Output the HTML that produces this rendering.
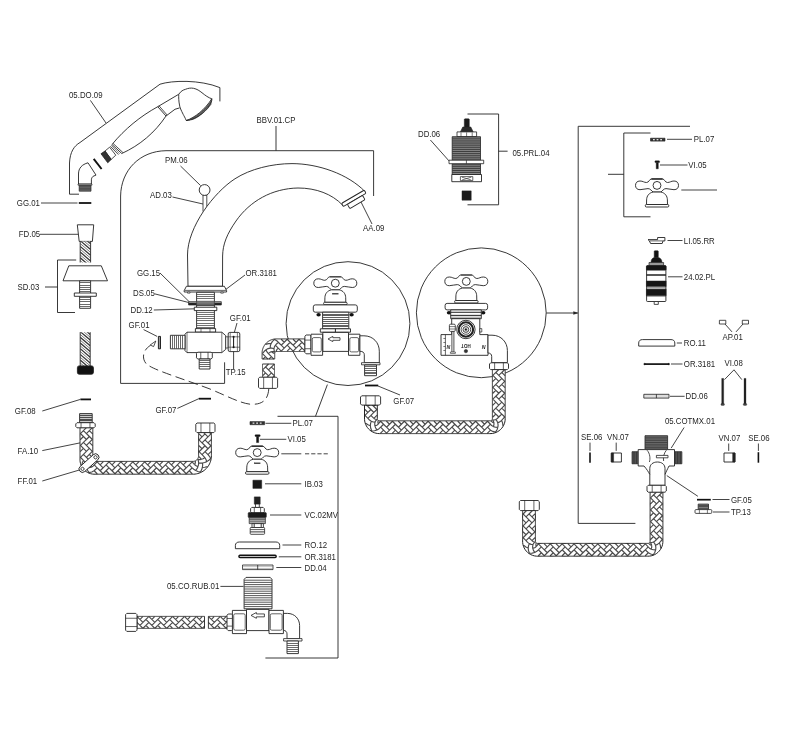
<!DOCTYPE html>
<html><head><meta charset="utf-8"><title>Exploded view</title>
<style>
html,body{margin:0;padding:0;background:#fff;}
svg{display:block;will-change:transform}
text{font-family:"Liberation Sans",sans-serif;fill:#1e1e1e;}
</style></head><body>
<svg width="800" height="737" viewBox="0 0 800 737" fill="none" stroke-linecap="butt" stroke-linejoin="round">
<rect x="0" y="0" width="800" height="737" fill="#fff" stroke="none"/>
<path d="M79 194.2 L69.5 194.2 L69.5 163 C70 152 74 146 80 142.5 L160 84.2 C172 80.3 200 79.5 219.9 87.6 L219.9 101.4" fill="none" stroke="#222" stroke-width="0.9" />
<path d="M224.6 362.3 L224.6 383.4 L120.6 383.4 L120.6 196 C121 170 140 151 166 150.7 L373.6 150.7 L373.6 196" fill="none" stroke="#222" stroke-width="0.9" />
<line x1="276.00" y1="126.00" x2="276.00" y2="150.70" stroke="#222" stroke-width="0.9" />
<path d="M76.2 260 L57.5 260 L57.5 312.5 L75 312.5" fill="none" stroke="#222" stroke-width="0.9" />
<line x1="45.00" y1="287.00" x2="57.50" y2="287.00" stroke="#222" stroke-width="0.9" />
<path d="M277.5 416.3 L338 416.3 L338 658 L265.4 658" fill="none" stroke="#222" stroke-width="0.9" />
<line x1="327.40" y1="384.60" x2="315.50" y2="416.30" stroke="#222" stroke-width="0.9" />
<path d="M467.5 114 L498.6 114 L498.6 204.8 L467.5 204.8" fill="none" stroke="#222" stroke-width="0.9" />
<line x1="498.60" y1="151.20" x2="507.60" y2="151.20" stroke="#222" stroke-width="0.9" />
<path d="M690 126.3 L578.2 126.3 L578.2 523.4 L635.4 523.4" fill="none" stroke="#222" stroke-width="0.9" />
<path d="M650.5 133 L623.8 133 L623.8 216.8 L650.5 216.8" fill="none" stroke="#222" stroke-width="0.9" />
<line x1="608.00" y1="174.30" x2="623.80" y2="174.30" stroke="#222" stroke-width="0.9" />
<line x1="546.30" y1="313.00" x2="577.50" y2="313.00" stroke="#222" stroke-width="0.9" />
<path d="M578.00 313.00 L573.50 311.60 L573.50 314.40 Z" fill="#222" stroke="#222" stroke-width="0.3" />
<circle cx="348.00" cy="323.60" r="61.90" fill="none" stroke="#222" stroke-width="0.9"/>
<circle cx="481.30" cy="312.80" r="64.90" fill="none" stroke="#222" stroke-width="0.9"/>
<text transform="translate(69.00 98.45) scale(0.913 1)" font-size="8.6">05.DO.09</text>
<text transform="translate(256.50 123.45) scale(0.913 1)" font-size="8.6">BBV.01.CP</text>
<text transform="translate(165.00 162.55) scale(0.913 1)" font-size="8.6">PM.06</text>
<text transform="translate(150.00 197.55) scale(0.913 1)" font-size="8.6">AD.03</text>
<text transform="translate(16.80 206.05) scale(0.913 1)" font-size="8.6">GG.01</text>
<text transform="translate(18.80 237.35) scale(0.913 1)" font-size="8.6">FD.05</text>
<text transform="translate(17.50 290.05) scale(0.913 1)" font-size="8.6">SD.03</text>
<text transform="translate(137.00 276.05) scale(0.913 1)" font-size="8.6">GG.15</text>
<text transform="translate(133.00 296.05) scale(0.913 1)" font-size="8.6">DS.05</text>
<text transform="translate(130.50 313.05) scale(0.913 1)" font-size="8.6">DD.12</text>
<text transform="translate(128.60 327.75) scale(0.913 1)" font-size="8.6">GF.01</text>
<text transform="translate(229.80 321.45) scale(0.913 1)" font-size="8.6">GF.01</text>
<text transform="translate(225.80 375.45) scale(0.913 1)" font-size="8.6">TP.15</text>
<text transform="translate(245.50 276.05) scale(0.913 1)" font-size="8.6">OR.3181</text>
<text transform="translate(363.00 230.65) scale(0.913 1)" font-size="8.6">AA.09</text>
<text transform="translate(14.80 414.05) scale(0.913 1)" font-size="8.6">GF.08</text>
<text transform="translate(155.50 412.55) scale(0.913 1)" font-size="8.6">GF.07</text>
<text transform="translate(17.60 453.65) scale(0.913 1)" font-size="8.6">FA.10</text>
<text transform="translate(17.60 484.05) scale(0.913 1)" font-size="8.6">FF.01</text>
<text transform="translate(393.30 403.85) scale(0.913 1)" font-size="8.6">GF.07</text>
<text transform="translate(292.50 426.05) scale(0.913 1)" font-size="8.6">PL.07</text>
<text transform="translate(287.50 442.35) scale(0.913 1)" font-size="8.6">VI.05</text>
<text transform="translate(304.50 486.85) scale(0.913 1)" font-size="8.6">IB.03</text>
<text transform="translate(304.50 518.05) scale(0.913 1)" font-size="8.6">VC.02MV</text>
<text transform="translate(304.50 548.05) scale(0.913 1)" font-size="8.6">RO.12</text>
<text transform="translate(304.50 560.05) scale(0.913 1)" font-size="8.6">OR.3181</text>
<text transform="translate(304.50 571.05) scale(0.913 1)" font-size="8.6">DD.04</text>
<text transform="translate(167.00 589.45) scale(0.913 1)" font-size="8.6">05.CO.RUB.01</text>
<text transform="translate(418.00 137.35) scale(0.913 1)" font-size="8.6">DD.06</text>
<text transform="translate(512.50 155.55) scale(0.913 1)" font-size="8.6">05.PRL.04</text>
<text transform="translate(693.80 142.35) scale(0.913 1)" font-size="8.6">PL.07</text>
<text transform="translate(688.30 168.05) scale(0.913 1)" font-size="8.6">VI.05</text>
<text transform="translate(683.80 243.55) scale(0.913 1)" font-size="8.6">LI.05.RR</text>
<text transform="translate(683.80 279.85) scale(0.913 1)" font-size="8.6">24.02.PL</text>
<text transform="translate(683.80 346.05) scale(0.913 1)" font-size="8.6">RO.11</text>
<text transform="translate(683.80 367.05) scale(0.913 1)" font-size="8.6">OR.3181</text>
<text transform="translate(685.60 399.35) scale(0.913 1)" font-size="8.6">DD.06</text>
<text transform="translate(722.50 340.05) scale(0.913 1)" font-size="8.6">AP.01</text>
<text transform="translate(724.50 366.35) scale(0.913 1)" font-size="8.6">VI.08</text>
<text transform="translate(664.90 424.25) scale(0.913 1)" font-size="8.6">05.COTMX.01</text>
<text transform="translate(581.00 440.05) scale(0.913 1)" font-size="8.6">SE.06</text>
<text transform="translate(607.00 440.05) scale(0.913 1)" font-size="8.6">VN.07</text>
<text transform="translate(718.50 441.05) scale(0.913 1)" font-size="8.6">VN.07</text>
<text transform="translate(748.20 441.05) scale(0.913 1)" font-size="8.6">SE.06</text>
<text transform="translate(730.90 502.55) scale(0.913 1)" font-size="8.6">GF.05</text>
<text transform="translate(730.90 515.05) scale(0.913 1)" font-size="8.6">TP.13</text>
<line x1="90.40" y1="100.40" x2="106.00" y2="123.00" stroke="#222" stroke-width="0.85" />
<line x1="180.50" y1="166.00" x2="200.60" y2="185.60" stroke="#222" stroke-width="0.85" />
<line x1="172.50" y1="197.00" x2="203.00" y2="204.00" stroke="#222" stroke-width="0.85" />
<line x1="41.00" y1="203.00" x2="77.50" y2="203.00" stroke="#222" stroke-width="0.85" />
<line x1="40.00" y1="234.30" x2="80.50" y2="234.30" stroke="#222" stroke-width="0.85" />
<line x1="160.00" y1="273.00" x2="190.00" y2="302.50" stroke="#222" stroke-width="0.85" />
<line x1="154.50" y1="293.80" x2="193.80" y2="303.80" stroke="#222" stroke-width="0.85" />
<line x1="153.80" y1="310.00" x2="195.00" y2="308.80" stroke="#222" stroke-width="0.85" />
<line x1="143.60" y1="329.60" x2="157.10" y2="336.40" stroke="#222" stroke-width="0.85" />
<line x1="237.00" y1="323.00" x2="233.60" y2="335.00" stroke="#222" stroke-width="0.85" />
<line x1="233.60" y1="351.00" x2="233.60" y2="369.00" stroke="#222" stroke-width="0.85" />
<line x1="245.00" y1="275.00" x2="225.00" y2="290.00" stroke="#222" stroke-width="0.85" />
<line x1="361.00" y1="202.00" x2="372.00" y2="224.00" stroke="#222" stroke-width="0.85" />
<line x1="42.30" y1="411.00" x2="80.40" y2="399.40" stroke="#222" stroke-width="0.85" />
<line x1="177.40" y1="408.40" x2="198.80" y2="398.70" stroke="#222" stroke-width="0.85" />
<line x1="42.30" y1="450.60" x2="80.40" y2="442.80" stroke="#222" stroke-width="0.85" />
<line x1="42.30" y1="481.00" x2="79.40" y2="470.00" stroke="#222" stroke-width="0.85" />
<line x1="378.00" y1="386.00" x2="400.00" y2="395.00" stroke="#222" stroke-width="0.85" />
<line x1="265.50" y1="423.30" x2="291.30" y2="423.30" stroke="#222" stroke-width="0.85" />
<line x1="260.00" y1="439.30" x2="286.30" y2="439.30" stroke="#222" stroke-width="0.85" />
<line x1="281.30" y1="453.80" x2="301.30" y2="453.80" stroke="#222" stroke-width="0.85" />
<line x1="265.00" y1="483.80" x2="301.30" y2="483.80" stroke="#222" stroke-width="0.85" />
<line x1="270.00" y1="515.00" x2="301.30" y2="515.00" stroke="#222" stroke-width="0.85" />
<line x1="282.50" y1="545.00" x2="301.30" y2="545.00" stroke="#222" stroke-width="0.85" />
<line x1="278.80" y1="556.80" x2="301.30" y2="556.80" stroke="#222" stroke-width="0.85" />
<line x1="276.30" y1="567.50" x2="301.30" y2="567.50" stroke="#222" stroke-width="0.85" />
<line x1="220.40" y1="586.40" x2="243.50" y2="586.40" stroke="#222" stroke-width="0.85" />
<line x1="430.40" y1="140.00" x2="449.00" y2="160.90" stroke="#222" stroke-width="0.85" />
<line x1="667.00" y1="139.30" x2="692.00" y2="139.30" stroke="#222" stroke-width="0.85" />
<line x1="660.00" y1="165.00" x2="687.50" y2="165.00" stroke="#222" stroke-width="0.85" />
<line x1="681.30" y1="190.00" x2="717.00" y2="190.00" stroke="#222" stroke-width="0.85" />
<line x1="667.50" y1="240.50" x2="682.50" y2="240.50" stroke="#222" stroke-width="0.85" />
<line x1="668.00" y1="276.80" x2="682.50" y2="276.80" stroke="#222" stroke-width="0.85" />
<line x1="676.80" y1="343.00" x2="682.00" y2="343.00" stroke="#222" stroke-width="0.85" />
<line x1="671.00" y1="364.00" x2="682.50" y2="364.00" stroke="#222" stroke-width="0.85" />
<line x1="670.00" y1="396.30" x2="684.60" y2="396.30" stroke="#222" stroke-width="0.85" />
<line x1="725.00" y1="324.00" x2="732.00" y2="331.90" stroke="#222" stroke-width="0.85" />
<line x1="743.00" y1="324.00" x2="736.00" y2="331.90" stroke="#222" stroke-width="0.85" />
<line x1="734.00" y1="369.80" x2="724.50" y2="379.60" stroke="#222" stroke-width="0.85" />
<line x1="734.00" y1="369.80" x2="741.80" y2="379.60" stroke="#222" stroke-width="0.85" />
<line x1="684.10" y1="427.50" x2="671.20" y2="448.10" stroke="#222" stroke-width="0.85" />
<line x1="590.00" y1="442.60" x2="590.00" y2="450.90" stroke="#222" stroke-width="0.85" />
<line x1="616.20" y1="442.60" x2="616.20" y2="450.90" stroke="#222" stroke-width="0.85" />
<line x1="728.70" y1="443.50" x2="728.70" y2="450.90" stroke="#222" stroke-width="0.85" />
<line x1="758.40" y1="443.50" x2="758.40" y2="450.90" stroke="#222" stroke-width="0.85" />
<line x1="666.80" y1="475.60" x2="697.90" y2="496.30" stroke="#222" stroke-width="0.85" />
<line x1="712.50" y1="499.50" x2="729.50" y2="499.50" stroke="#222" stroke-width="0.85" />
<line x1="713.00" y1="512.00" x2="729.50" y2="512.00" stroke="#222" stroke-width="0.85" />
<line x1="305.00" y1="453.80" x2="328.80" y2="453.80" stroke="#222" stroke-width="0.85" stroke-dasharray="4.2 2"/>
<path d="M92.80 427.60 L92.80 428.53 L92.80 429.46 L92.80 430.38 L92.80 431.31 L92.80 432.24 L92.80 433.17 L92.80 434.09 L92.80 435.02 L92.80 435.95 L92.80 436.88 L92.80 437.80 L92.80 438.73 L92.80 439.66 L92.80 440.59 L92.80 441.51 L92.80 442.44 L92.80 443.37 L92.80 444.30 L92.80 445.22 L92.80 446.15 L92.80 447.08 L92.80 448.01 L92.80 448.93 L92.80 449.86 L92.80 450.79 L92.80 451.72 L92.80 452.64 L92.80 453.57 L92.80 454.50 L92.80 455.43 L92.80 456.35 L92.80 457.28 L92.80 458.21 L92.80 459.14 L92.80 459.85 L92.82 460.04 L92.86 460.22 L92.92 460.39 L92.99 460.56 L93.09 460.72 L93.21 460.86 L93.34 460.99 L93.49 461.11 L93.64 461.21 L93.81 461.29 L93.99 461.34 L94.17 461.38 L94.35 461.40 L95.09 461.40 L96.01 461.40 L96.94 461.40 L97.87 461.40 L98.80 461.40 L99.72 461.40 L100.65 461.40 L101.58 461.40 L102.51 461.40 L103.43 461.40 L104.36 461.40 L105.29 461.40 L106.22 461.40 L107.14 461.40 L108.07 461.40 L109.00 461.40 L109.93 461.40 L110.85 461.40 L111.78 461.40 L112.71 461.40 L113.64 461.40 L114.57 461.40 L115.49 461.40 L116.42 461.40 L117.35 461.40 L118.28 461.40 L119.20 461.40 L120.13 461.40 L121.06 461.40 L121.99 461.40 L122.91 461.40 L123.84 461.40 L124.77 461.40 L125.70 461.40 L126.62 461.40 L127.55 461.40 L128.48 461.40 L129.41 461.40 L130.33 461.40 L131.26 461.40 L132.19 461.40 L133.12 461.40 L134.04 461.40 L134.97 461.40 L135.90 461.40 L136.83 461.40 L137.75 461.40 L138.68 461.40 L139.61 461.40 L140.54 461.40 L141.46 461.40 L142.39 461.40 L143.32 461.40 L144.25 461.40 L145.17 461.40 L146.10 461.40 L147.03 461.40 L147.96 461.40 L148.88 461.40 L149.81 461.40 L150.74 461.40 L151.67 461.40 L152.60 461.40 L153.52 461.40 L154.45 461.40 L155.38 461.40 L156.31 461.40 L157.23 461.40 L158.16 461.40 L159.09 461.40 L160.02 461.40 L160.94 461.40 L161.87 461.40 L162.80 461.40 L163.73 461.40 L164.65 461.40 L165.58 461.40 L166.51 461.40 L167.44 461.40 L168.36 461.40 L169.29 461.40 L170.22 461.40 L171.15 461.40 L172.07 461.40 L173.00 461.40 L173.93 461.40 L174.86 461.40 L175.78 461.40 L176.71 461.40 L177.64 461.40 L178.57 461.40 L179.49 461.40 L180.42 461.40 L181.35 461.40 L182.28 461.40 L183.20 461.40 L184.13 461.40 L185.06 461.40 L185.99 461.40 L186.91 461.40 L187.84 461.40 L188.77 461.40 L189.70 461.40 L190.63 461.40 L191.55 461.40 L192.48 461.40 L193.19 461.40 L193.62 461.36 L194.05 461.30 L194.47 461.20 L194.88 461.07 L195.29 460.91 L195.67 460.72 L196.04 460.50 L196.40 460.25 L196.73 459.97 L197.04 459.67 L197.33 459.35 L197.59 459.00 L197.82 458.64 L198.03 458.26 L198.21 457.86 L198.35 457.45 L198.46 457.04 L198.54 456.61 L198.58 456.18 L198.60 455.69 L198.60 454.76 L198.60 453.83 L198.60 452.91 L198.60 451.98 L198.60 451.05 L198.60 450.12 L198.60 449.20 L198.60 448.27 L198.60 447.34 L198.60 446.41 L198.60 445.49 L198.60 444.56 L198.60 443.63 L198.60 442.70 L198.60 441.78 L198.60 440.85 L198.60 439.92 L198.60 438.99 L198.60 438.07 L198.60 437.14 L198.60 436.21 L198.60 435.28 L198.60 434.36 L198.60 433.43 L198.60 432.50 L211.40 432.50 L211.40 433.43 L211.40 434.36 L211.40 435.28 L211.40 436.21 L211.40 437.14 L211.40 438.07 L211.40 438.99 L211.40 439.92 L211.40 440.85 L211.40 441.78 L211.40 442.70 L211.40 443.63 L211.40 444.56 L211.40 445.49 L211.40 446.41 L211.40 447.34 L211.40 448.27 L211.40 449.20 L211.40 450.12 L211.40 451.05 L211.40 451.98 L211.40 452.91 L211.40 453.83 L211.40 454.76 L211.40 455.69 L211.35 457.05 L211.20 458.46 L210.94 459.86 L210.58 461.24 L210.10 462.58 L209.53 463.88 L208.86 465.13 L208.09 466.33 L207.23 467.46 L206.29 468.53 L205.27 469.51 L204.17 470.42 L203.01 471.24 L201.78 471.96 L200.51 472.60 L199.19 473.13 L197.83 473.55 L196.45 473.87 L195.04 474.08 L193.63 474.19 L192.48 474.20 L191.55 474.20 L190.63 474.20 L189.70 474.20 L188.77 474.20 L187.84 474.20 L186.91 474.20 L185.99 474.20 L185.06 474.20 L184.13 474.20 L183.20 474.20 L182.28 474.20 L181.35 474.20 L180.42 474.20 L179.49 474.20 L178.57 474.20 L177.64 474.20 L176.71 474.20 L175.78 474.20 L174.86 474.20 L173.93 474.20 L173.00 474.20 L172.07 474.20 L171.15 474.20 L170.22 474.20 L169.29 474.20 L168.36 474.20 L167.44 474.20 L166.51 474.20 L165.58 474.20 L164.65 474.20 L163.73 474.20 L162.80 474.20 L161.87 474.20 L160.94 474.20 L160.02 474.20 L159.09 474.20 L158.16 474.20 L157.23 474.20 L156.31 474.20 L155.38 474.20 L154.45 474.20 L153.52 474.20 L152.60 474.20 L151.67 474.20 L150.74 474.20 L149.81 474.20 L148.88 474.20 L147.96 474.20 L147.03 474.20 L146.10 474.20 L145.17 474.20 L144.25 474.20 L143.32 474.20 L142.39 474.20 L141.46 474.20 L140.54 474.20 L139.61 474.20 L138.68 474.20 L137.75 474.20 L136.83 474.20 L135.90 474.20 L134.97 474.20 L134.04 474.20 L133.12 474.20 L132.19 474.20 L131.26 474.20 L130.33 474.20 L129.41 474.20 L128.48 474.20 L127.55 474.20 L126.62 474.20 L125.70 474.20 L124.77 474.20 L123.84 474.20 L122.91 474.20 L121.99 474.20 L121.06 474.20 L120.13 474.20 L119.20 474.20 L118.28 474.20 L117.35 474.20 L116.42 474.20 L115.49 474.20 L114.57 474.20 L113.64 474.20 L112.71 474.20 L111.78 474.20 L110.85 474.20 L109.93 474.20 L109.00 474.20 L108.07 474.20 L107.14 474.20 L106.22 474.20 L105.29 474.20 L104.36 474.20 L103.43 474.20 L102.51 474.20 L101.58 474.20 L100.65 474.20 L99.72 474.20 L98.80 474.20 L97.87 474.20 L96.94 474.20 L96.01 474.20 L95.09 474.20 L93.97 474.19 L92.30 474.04 L90.67 473.71 L89.08 473.18 L87.57 472.48 L86.15 471.60 L84.84 470.57 L83.66 469.39 L82.62 468.08 L81.74 466.66 L81.03 465.15 L80.51 463.57 L80.16 461.94 L80.01 460.28 L80.00 459.14 L80.00 458.21 L80.00 457.28 L80.00 456.35 L80.00 455.43 L80.00 454.50 L80.00 453.57 L80.00 452.64 L80.00 451.72 L80.00 450.79 L80.00 449.86 L80.00 448.93 L80.00 448.01 L80.00 447.08 L80.00 446.15 L80.00 445.22 L80.00 444.30 L80.00 443.37 L80.00 442.44 L80.00 441.51 L80.00 440.59 L80.00 439.66 L80.00 438.73 L80.00 437.80 L80.00 436.88 L80.00 435.95 L80.00 435.02 L80.00 434.09 L80.00 433.17 L80.00 432.24 L80.00 431.31 L80.00 430.38 L80.00 429.46 L80.00 428.53 L80.00 427.60 Z" fill="#fff" stroke="none" stroke-width="0" />
<path d="M92.50 433.70L92.42 433.62L92.34 433.54M92.50 433.38L92.42 433.46L92.34 433.54M92.34 433.54L90.85 432.05L89.37 430.57M92.34 427.60L90.85 429.08L89.37 430.57M92.50 439.32L92.42 439.40L92.34 439.48M92.34 439.48L90.85 437.99L89.37 436.51M89.37 436.51L87.88 435.02L86.40 433.54M89.37 430.57L87.88 432.05L86.40 433.54M86.40 433.54L84.92 432.05L83.43 430.57M86.40 427.60L84.92 429.08L83.43 430.57M92.50 445.58L92.42 445.50L92.34 445.42M92.50 445.26L92.42 445.34L92.34 445.42M92.34 445.42L90.85 443.93L89.37 442.45M92.34 439.48L90.85 440.96L89.37 442.45M89.37 436.51L87.88 437.99L86.40 439.48M86.40 439.48L84.92 437.99L83.43 436.51M83.43 436.51L81.95 435.02L80.46 433.54M83.43 430.57L81.95 432.05L80.46 433.54M80.46 433.54L80.38 433.46L80.30 433.38M80.46 427.60L80.38 427.68L80.30 427.76M92.50 451.20L92.42 451.28L92.34 451.36M92.34 451.36L90.85 449.87L89.37 448.39M89.37 448.39L87.88 446.90L86.40 445.42M89.37 442.45L87.88 443.93L86.40 445.42M86.40 445.42L84.92 443.93L83.43 442.45M86.40 439.48L84.92 440.96L83.43 442.45M83.43 436.51L81.95 437.99L80.46 439.48M80.46 439.48L80.38 439.40L80.30 439.32M92.50 457.46L92.42 457.38L92.34 457.30M92.50 457.14L92.42 457.22L92.34 457.30M92.34 457.30L90.85 455.81L89.37 454.33M92.34 451.36L90.85 452.84L89.37 454.33M89.37 448.39L87.88 449.87L86.40 451.36M86.40 451.36L84.92 449.87L83.43 448.39M83.43 448.39L81.95 446.90L80.46 445.42M83.43 442.45L81.95 443.93L80.46 445.42M80.46 445.42L80.38 445.34L80.30 445.26M80.46 439.48L80.38 439.56L80.30 439.64M92.66 460.56L92.59 460.61L92.53 460.66M92.53 460.66L90.96 460.66L89.38 460.09M89.38 460.09L87.88 458.78L86.40 457.30M89.37 454.33L87.88 455.81L86.40 457.30M86.40 457.30L84.92 455.81L83.43 454.33M86.40 451.36L84.92 452.84L83.43 454.33M83.43 448.39L81.95 449.87L80.46 451.36M80.46 451.36L80.38 451.28L80.30 451.20M93.70 461.57L93.65 461.63L93.60 461.70M93.63 461.53L93.62 461.61L93.60 461.70M93.60 461.70L92.45 462.75L90.90 463.41M92.53 460.66L91.51 461.85L90.90 463.41M89.38 460.09L88.08 461.37L87.13 463.13M87.13 463.13L85.20 462.09L83.45 460.44M83.45 460.44L81.95 458.78L80.46 457.30M83.43 454.33L81.95 455.81L80.46 457.30M80.46 457.30L80.38 457.22L80.30 457.14M80.46 451.36L80.38 451.44L80.30 451.52M96.99 461.70L97.07 461.78L97.15 461.86M97.15 461.86L95.67 463.35L94.26 464.82M94.26 464.82L93.03 466.16L91.30 467.17M90.90 463.41L90.81 465.23L91.30 467.17M91.30 467.17L89.17 467.71L86.77 467.68M87.13 463.13L86.66 465.27L86.77 467.68M83.45 460.44L82.32 462.81L81.73 465.61M81.73 465.61L81.60 465.51L81.47 465.42M103.25 461.70L103.17 461.78L103.09 461.86M102.93 461.70L103.01 461.78L103.09 461.86M103.09 461.86L101.61 463.35L100.12 464.83M97.15 461.86L98.64 463.35L100.12 464.83M94.26 464.82L95.67 466.32L97.15 467.80M97.15 467.80L95.67 469.28L94.10 470.76M94.10 470.76L91.77 471.97L88.99 472.64M86.77 467.68L87.53 470.19L88.99 472.64M88.99 472.64L88.83 472.66L88.67 472.68M81.73 465.61L81.71 465.77L81.70 465.93M108.87 461.70L108.95 461.78L109.03 461.86M109.03 461.86L107.55 463.35L106.06 464.83M106.06 464.83L104.58 466.32L103.09 467.80M100.12 464.83L101.61 466.32L103.09 467.80M103.09 467.80L101.61 469.28L100.12 470.77M97.15 467.80L98.64 469.28L100.12 470.77M94.10 470.76L95.67 472.25L97.15 473.74M97.15 473.74L97.07 473.82L96.99 473.90M115.13 461.70L115.05 461.78L114.97 461.86M114.81 461.70L114.89 461.78L114.97 461.86M114.97 461.86L113.49 463.35L112.00 464.83M109.03 461.86L110.52 463.35L112.00 464.83M106.06 464.83L107.55 466.32L109.03 467.80M109.03 467.80L107.55 469.28L106.06 470.77M106.06 470.77L104.58 472.25L103.09 473.74M100.12 470.77L101.61 472.25L103.09 473.74M103.09 473.74L103.01 473.82L102.93 473.90M97.15 473.74L97.23 473.82L97.31 473.90M120.75 461.70L120.83 461.78L120.91 461.86M120.91 461.86L119.43 463.35L117.94 464.83M117.94 464.83L116.46 466.32L114.97 467.80M112.00 464.83L113.49 466.32L114.97 467.80M114.97 467.80L113.49 469.28L112.00 470.77M109.03 467.80L110.52 469.28L112.00 470.77M106.06 470.77L107.55 472.25L109.03 473.74M109.03 473.74L108.95 473.82L108.87 473.90M127.01 461.70L126.93 461.78L126.85 461.86M126.69 461.70L126.77 461.78L126.85 461.86M126.85 461.86L125.37 463.35L123.88 464.83M120.91 461.86L122.40 463.35L123.88 464.83M117.94 464.83L119.43 466.32L120.91 467.80M120.91 467.80L119.43 469.28L117.94 470.77M117.94 470.77L116.46 472.25L114.97 473.74M112.00 470.77L113.49 472.25L114.97 473.74M114.97 473.74L114.89 473.82L114.81 473.90M109.03 473.74L109.11 473.82L109.19 473.90M132.63 461.70L132.71 461.78L132.79 461.86M132.79 461.86L131.31 463.35L129.82 464.83M129.82 464.83L128.34 466.32L126.85 467.80M123.88 464.83L125.37 466.32L126.85 467.80M126.85 467.80L125.37 469.28L123.88 470.77M120.91 467.80L122.40 469.28L123.88 470.77M117.94 470.77L119.43 472.25L120.91 473.74M120.91 473.74L120.83 473.82L120.75 473.90M138.89 461.70L138.81 461.78L138.73 461.86M138.57 461.70L138.65 461.78L138.73 461.86M138.73 461.86L137.25 463.35L135.76 464.83M132.79 461.86L134.28 463.35L135.76 464.83M129.82 464.83L131.31 466.32L132.79 467.80M132.79 467.80L131.31 469.28L129.82 470.77M129.82 470.77L128.34 472.25L126.85 473.74M123.88 470.77L125.37 472.25L126.85 473.74M126.85 473.74L126.77 473.82L126.69 473.90M120.91 473.74L120.99 473.82L121.07 473.90M144.51 461.70L144.59 461.78L144.67 461.86M144.67 461.86L143.19 463.35L141.70 464.83M141.70 464.83L140.22 466.32L138.73 467.80M135.76 464.83L137.25 466.32L138.73 467.80M138.73 467.80L137.25 469.28L135.76 470.77M132.79 467.80L134.28 469.28L135.76 470.77M129.82 470.77L131.31 472.25L132.79 473.74M132.79 473.74L132.71 473.82L132.63 473.90M150.77 461.70L150.69 461.78L150.61 461.86M150.45 461.70L150.53 461.78L150.61 461.86M150.61 461.86L149.13 463.35L147.64 464.83M144.67 461.86L146.16 463.35L147.64 464.83M141.70 464.83L143.19 466.32L144.67 467.80M144.67 467.80L143.19 469.28L141.70 470.77M141.70 470.77L140.22 472.25L138.73 473.74M135.76 470.77L137.25 472.25L138.73 473.74M138.73 473.74L138.65 473.82L138.57 473.90M132.79 473.74L132.87 473.82L132.95 473.90M156.39 461.70L156.47 461.78L156.55 461.86M156.55 461.86L155.07 463.35L153.58 464.83M153.58 464.83L152.10 466.32L150.61 467.80M147.64 464.83L149.13 466.32L150.61 467.80M150.61 467.80L149.13 469.28L147.64 470.77M144.67 467.80L146.16 469.28L147.64 470.77M141.70 470.77L143.19 472.25L144.67 473.74M144.67 473.74L144.59 473.82L144.51 473.90M162.65 461.70L162.57 461.78L162.49 461.86M162.33 461.70L162.41 461.78L162.49 461.86M162.49 461.86L161.01 463.35L159.52 464.83M156.55 461.86L158.04 463.35L159.52 464.83M153.58 464.83L155.07 466.32L156.55 467.80M156.55 467.80L155.07 469.28L153.58 470.77M153.58 470.77L152.10 472.25L150.61 473.74M147.64 470.77L149.13 472.25L150.61 473.74M150.61 473.74L150.53 473.82L150.45 473.90M144.67 473.74L144.75 473.82L144.83 473.90M168.27 461.70L168.35 461.78L168.43 461.86M168.43 461.86L166.94 463.35L165.46 464.83M165.46 464.83L163.97 466.32L162.49 467.80M159.52 464.83L161.01 466.32L162.49 467.80M162.49 467.80L161.01 469.28L159.52 470.77M156.55 467.80L158.04 469.28L159.52 470.77M153.58 470.77L155.07 472.25L156.55 473.74M156.55 473.74L156.47 473.82L156.39 473.90M174.53 461.70L174.45 461.78L174.37 461.86M174.21 461.70L174.29 461.78L174.37 461.86M174.37 461.86L172.88 463.35L171.40 464.83M168.43 461.86L169.91 463.35L171.40 464.83M165.46 464.83L166.94 466.32L168.43 467.80M168.43 467.80L166.94 469.28L165.46 470.77M165.46 470.77L163.97 472.25L162.49 473.74M159.52 470.77L161.01 472.25L162.49 473.74M162.49 473.74L162.41 473.82L162.33 473.90M156.55 473.74L156.63 473.82L156.71 473.90M180.15 461.70L180.23 461.78L180.31 461.86M180.31 461.86L178.82 463.35L177.34 464.83M177.34 464.83L175.85 466.32L174.37 467.80M171.40 464.83L172.88 466.32L174.37 467.80M174.37 467.80L172.88 469.28L171.40 470.77M168.43 467.80L169.91 469.28L171.40 470.77M165.46 470.77L166.94 472.25L168.43 473.74M168.43 473.74L168.35 473.82L168.27 473.90M186.41 461.70L186.33 461.78L186.25 461.86M186.09 461.70L186.17 461.78L186.25 461.86M186.25 461.86L184.76 463.35L183.28 464.83M180.31 461.86L181.79 463.35L183.28 464.83M177.34 464.83L178.82 466.32L180.31 467.80M180.31 467.80L178.82 469.28L177.34 470.77M177.34 470.77L175.85 472.25L174.37 473.74M171.40 470.77L172.88 472.25L174.37 473.74M174.37 473.74L174.29 473.82L174.21 473.90M168.43 473.74L168.51 473.82L168.59 473.90M192.03 461.70L192.11 461.78L192.19 461.86M192.19 461.86L190.70 463.35L189.22 464.83M189.22 464.83L187.73 466.32L186.25 467.80M183.28 464.83L184.76 466.32L186.25 467.80M186.25 467.80L184.76 469.28L183.28 470.77M180.31 467.80L181.79 469.28L183.28 470.77M177.34 470.77L178.82 472.25L180.31 473.74M180.31 473.74L180.23 473.82L180.15 473.90M195.52 461.13L195.51 461.22L195.51 461.31M195.37 461.20L195.44 461.26L195.51 461.31M195.51 461.31L195.26 463.00L194.62 464.68M192.19 461.86L193.42 463.33L194.62 464.68M189.22 464.83L190.70 466.32L192.19 467.80M192.19 467.80L190.70 469.28L189.22 470.77M189.22 470.77L187.73 472.25L186.25 473.74M183.28 470.77L184.76 472.25L186.25 473.74M186.25 473.74L186.17 473.82L186.09 473.90M180.31 473.74L180.39 473.82L180.47 473.90M197.65 459.42L197.74 459.44L197.83 459.46M197.83 459.46L198.40 461.06L198.64 462.85M198.64 462.85L198.51 464.76L197.97 466.72M194.62 464.68L196.14 465.83L197.97 466.72M197.97 466.72L197.03 468.67L195.68 470.53M192.19 467.80L193.76 469.26L195.68 470.53M189.22 470.77L190.70 472.25L192.19 473.74M192.19 473.74L192.11 473.82L192.03 473.90M198.84 456.62L198.91 456.67L198.99 456.73M198.82 456.78L198.90 456.75L198.99 456.73M198.99 456.73L200.25 457.86L201.31 459.32M197.83 459.46L199.53 459.58L201.31 459.32M198.64 462.85L200.53 463.14L202.56 463.05M202.56 463.05L202.66 465.21L202.35 467.49M202.35 467.49L201.62 469.82L200.44 472.13M195.68 470.53L197.92 471.50L200.44 472.13M200.44 472.13L200.36 472.25L200.28 472.37M192.19 473.74L192.27 473.82L192.35 473.90M198.90 451.86L198.98 451.78L199.06 451.70M199.06 451.70L200.55 453.19L202.03 454.67M202.03 454.67L203.51 456.11L204.86 457.63M201.31 459.32L203.11 458.68L204.86 457.63M204.86 457.63L205.97 459.49L206.78 461.64M202.56 463.05L204.67 462.55L206.78 461.64M202.35 467.49L204.79 467.28L207.30 466.63M207.30 466.63L207.29 466.78L207.28 466.92M198.90 445.60L198.98 445.68L199.06 445.76M198.90 445.92L198.98 445.84L199.06 445.76M199.06 445.76L200.55 447.25L202.03 448.73M199.06 451.70L200.55 450.22L202.03 448.73M202.03 454.67L203.52 453.19L205.00 451.70M205.00 451.70L206.48 453.19L207.97 454.67M207.97 454.67L209.45 456.29L210.73 458.54M206.78 461.64L208.82 460.30L210.73 458.54M210.73 458.54L210.79 458.67L210.85 458.80M207.30 466.63L207.43 466.59L207.57 466.54M198.90 439.98L198.98 439.90L199.06 439.82M199.06 439.82L200.55 441.31L202.03 442.79M202.03 442.79L203.52 444.28L205.00 445.76M202.03 448.73L203.52 447.25L205.00 445.76M205.00 445.76L206.48 447.25L207.97 448.73M205.00 451.70L206.48 450.22L207.97 448.73M207.97 454.67L209.45 453.19L210.94 451.70M210.94 451.70L211.02 451.78L211.10 451.86M198.90 433.72L198.98 433.80L199.06 433.88M198.90 434.04L198.98 433.96L199.06 433.88M199.06 433.88L200.55 435.37L202.03 436.85M199.06 439.82L200.55 438.34L202.03 436.85M202.03 442.79L203.52 441.31L205.00 439.82M205.00 439.82L206.48 441.31L207.97 442.79M207.97 442.79L209.45 444.28L210.94 445.76M207.97 448.73L209.45 447.25L210.94 445.76M210.94 445.76L211.02 445.84L211.10 445.92M210.94 451.70L211.02 451.62L211.10 451.54M203.62 432.50L204.31 433.19L205.00 433.88M202.03 436.85L203.52 435.37L205.00 433.88M205.00 433.88L206.48 435.37L207.97 436.85M205.00 439.82L206.48 438.34L207.97 436.85M207.97 442.79L209.45 441.31L210.94 439.82M210.94 439.82L211.02 439.90L211.10 439.98M209.56 432.50L210.25 433.19L210.94 433.88M207.97 436.85L209.45 435.37L210.94 433.88M210.94 433.88L211.02 433.96L211.10 434.04M210.94 439.82L211.02 439.74L211.10 439.66" fill="none" stroke="#4a4a4a" stroke-width="1.15" />
<path d="M92.80 427.60 L92.80 428.53 L92.80 429.46 L92.80 430.38 L92.80 431.31 L92.80 432.24 L92.80 433.17 L92.80 434.09 L92.80 435.02 L92.80 435.95 L92.80 436.88 L92.80 437.80 L92.80 438.73 L92.80 439.66 L92.80 440.59 L92.80 441.51 L92.80 442.44 L92.80 443.37 L92.80 444.30 L92.80 445.22 L92.80 446.15 L92.80 447.08 L92.80 448.01 L92.80 448.93 L92.80 449.86 L92.80 450.79 L92.80 451.72 L92.80 452.64 L92.80 453.57 L92.80 454.50 L92.80 455.43 L92.80 456.35 L92.80 457.28 L92.80 458.21 L92.80 459.14 L92.80 459.85 L92.82 460.04 L92.86 460.22 L92.92 460.39 L92.99 460.56 L93.09 460.72 L93.21 460.86 L93.34 460.99 L93.49 461.11 L93.64 461.21 L93.81 461.29 L93.99 461.34 L94.17 461.38 L94.35 461.40 L95.09 461.40 L96.01 461.40 L96.94 461.40 L97.87 461.40 L98.80 461.40 L99.72 461.40 L100.65 461.40 L101.58 461.40 L102.51 461.40 L103.43 461.40 L104.36 461.40 L105.29 461.40 L106.22 461.40 L107.14 461.40 L108.07 461.40 L109.00 461.40 L109.93 461.40 L110.85 461.40 L111.78 461.40 L112.71 461.40 L113.64 461.40 L114.57 461.40 L115.49 461.40 L116.42 461.40 L117.35 461.40 L118.28 461.40 L119.20 461.40 L120.13 461.40 L121.06 461.40 L121.99 461.40 L122.91 461.40 L123.84 461.40 L124.77 461.40 L125.70 461.40 L126.62 461.40 L127.55 461.40 L128.48 461.40 L129.41 461.40 L130.33 461.40 L131.26 461.40 L132.19 461.40 L133.12 461.40 L134.04 461.40 L134.97 461.40 L135.90 461.40 L136.83 461.40 L137.75 461.40 L138.68 461.40 L139.61 461.40 L140.54 461.40 L141.46 461.40 L142.39 461.40 L143.32 461.40 L144.25 461.40 L145.17 461.40 L146.10 461.40 L147.03 461.40 L147.96 461.40 L148.88 461.40 L149.81 461.40 L150.74 461.40 L151.67 461.40 L152.60 461.40 L153.52 461.40 L154.45 461.40 L155.38 461.40 L156.31 461.40 L157.23 461.40 L158.16 461.40 L159.09 461.40 L160.02 461.40 L160.94 461.40 L161.87 461.40 L162.80 461.40 L163.73 461.40 L164.65 461.40 L165.58 461.40 L166.51 461.40 L167.44 461.40 L168.36 461.40 L169.29 461.40 L170.22 461.40 L171.15 461.40 L172.07 461.40 L173.00 461.40 L173.93 461.40 L174.86 461.40 L175.78 461.40 L176.71 461.40 L177.64 461.40 L178.57 461.40 L179.49 461.40 L180.42 461.40 L181.35 461.40 L182.28 461.40 L183.20 461.40 L184.13 461.40 L185.06 461.40 L185.99 461.40 L186.91 461.40 L187.84 461.40 L188.77 461.40 L189.70 461.40 L190.63 461.40 L191.55 461.40 L192.48 461.40 L193.19 461.40 L193.62 461.36 L194.05 461.30 L194.47 461.20 L194.88 461.07 L195.29 460.91 L195.67 460.72 L196.04 460.50 L196.40 460.25 L196.73 459.97 L197.04 459.67 L197.33 459.35 L197.59 459.00 L197.82 458.64 L198.03 458.26 L198.21 457.86 L198.35 457.45 L198.46 457.04 L198.54 456.61 L198.58 456.18 L198.60 455.69 L198.60 454.76 L198.60 453.83 L198.60 452.91 L198.60 451.98 L198.60 451.05 L198.60 450.12 L198.60 449.20 L198.60 448.27 L198.60 447.34 L198.60 446.41 L198.60 445.49 L198.60 444.56 L198.60 443.63 L198.60 442.70 L198.60 441.78 L198.60 440.85 L198.60 439.92 L198.60 438.99 L198.60 438.07 L198.60 437.14 L198.60 436.21 L198.60 435.28 L198.60 434.36 L198.60 433.43 L198.60 432.50" fill="none" stroke="#222" stroke-width="1.0" />
<path d="M80.00 427.60 L80.00 428.53 L80.00 429.46 L80.00 430.38 L80.00 431.31 L80.00 432.24 L80.00 433.17 L80.00 434.09 L80.00 435.02 L80.00 435.95 L80.00 436.88 L80.00 437.80 L80.00 438.73 L80.00 439.66 L80.00 440.59 L80.00 441.51 L80.00 442.44 L80.00 443.37 L80.00 444.30 L80.00 445.22 L80.00 446.15 L80.00 447.08 L80.00 448.01 L80.00 448.93 L80.00 449.86 L80.00 450.79 L80.00 451.72 L80.00 452.64 L80.00 453.57 L80.00 454.50 L80.00 455.43 L80.00 456.35 L80.00 457.28 L80.00 458.21 L80.00 459.14 L80.01 460.28 L80.16 461.94 L80.51 463.57 L81.03 465.15 L81.74 466.66 L82.62 468.08 L83.66 469.39 L84.84 470.57 L86.15 471.60 L87.57 472.48 L89.08 473.18 L90.67 473.71 L92.30 474.04 L93.97 474.19 L95.09 474.20 L96.01 474.20 L96.94 474.20 L97.87 474.20 L98.80 474.20 L99.72 474.20 L100.65 474.20 L101.58 474.20 L102.51 474.20 L103.43 474.20 L104.36 474.20 L105.29 474.20 L106.22 474.20 L107.14 474.20 L108.07 474.20 L109.00 474.20 L109.93 474.20 L110.85 474.20 L111.78 474.20 L112.71 474.20 L113.64 474.20 L114.57 474.20 L115.49 474.20 L116.42 474.20 L117.35 474.20 L118.28 474.20 L119.20 474.20 L120.13 474.20 L121.06 474.20 L121.99 474.20 L122.91 474.20 L123.84 474.20 L124.77 474.20 L125.70 474.20 L126.62 474.20 L127.55 474.20 L128.48 474.20 L129.41 474.20 L130.33 474.20 L131.26 474.20 L132.19 474.20 L133.12 474.20 L134.04 474.20 L134.97 474.20 L135.90 474.20 L136.83 474.20 L137.75 474.20 L138.68 474.20 L139.61 474.20 L140.54 474.20 L141.46 474.20 L142.39 474.20 L143.32 474.20 L144.25 474.20 L145.17 474.20 L146.10 474.20 L147.03 474.20 L147.96 474.20 L148.88 474.20 L149.81 474.20 L150.74 474.20 L151.67 474.20 L152.60 474.20 L153.52 474.20 L154.45 474.20 L155.38 474.20 L156.31 474.20 L157.23 474.20 L158.16 474.20 L159.09 474.20 L160.02 474.20 L160.94 474.20 L161.87 474.20 L162.80 474.20 L163.73 474.20 L164.65 474.20 L165.58 474.20 L166.51 474.20 L167.44 474.20 L168.36 474.20 L169.29 474.20 L170.22 474.20 L171.15 474.20 L172.07 474.20 L173.00 474.20 L173.93 474.20 L174.86 474.20 L175.78 474.20 L176.71 474.20 L177.64 474.20 L178.57 474.20 L179.49 474.20 L180.42 474.20 L181.35 474.20 L182.28 474.20 L183.20 474.20 L184.13 474.20 L185.06 474.20 L185.99 474.20 L186.91 474.20 L187.84 474.20 L188.77 474.20 L189.70 474.20 L190.63 474.20 L191.55 474.20 L192.48 474.20 L193.63 474.19 L195.04 474.08 L196.45 473.87 L197.83 473.55 L199.19 473.13 L200.51 472.60 L201.78 471.96 L203.01 471.24 L204.17 470.42 L205.27 469.51 L206.29 468.53 L207.23 467.46 L208.09 466.33 L208.86 465.13 L209.53 463.88 L210.10 462.58 L210.58 461.24 L210.94 459.86 L211.20 458.46 L211.35 457.05 L211.40 455.69 L211.40 454.76 L211.40 453.83 L211.40 452.91 L211.40 451.98 L211.40 451.05 L211.40 450.12 L211.40 449.20 L211.40 448.27 L211.40 447.34 L211.40 446.41 L211.40 445.49 L211.40 444.56 L211.40 443.63 L211.40 442.70 L211.40 441.78 L211.40 440.85 L211.40 439.92 L211.40 438.99 L211.40 438.07 L211.40 437.14 L211.40 436.21 L211.40 435.28 L211.40 434.36 L211.40 433.43 L211.40 432.50" fill="none" stroke="#222" stroke-width="1.0" />
<line x1="92.80" y1="427.60" x2="80.00" y2="427.60" stroke="#222" stroke-width="0.9" />
<line x1="198.60" y1="432.50" x2="211.40" y2="432.50" stroke="#222" stroke-width="0.9" />
<path d="M305.00 351.50 L304.77 351.50 L304.53 351.50 L304.30 351.50 L304.06 351.50 L303.83 351.50 L303.59 351.50 L303.36 351.50 L303.12 351.50 L302.89 351.50 L302.65 351.50 L302.42 351.50 L302.18 351.50 L301.95 351.50 L301.71 351.50 L301.48 351.50 L301.24 351.50 L301.01 351.50 L300.77 351.50 L300.54 351.50 L300.30 351.50 L300.07 351.50 L299.83 351.50 L299.60 351.50 L299.36 351.50 L299.13 351.50 L298.89 351.50 L298.66 351.50 L298.42 351.50 L298.19 351.50 L297.96 351.50 L297.72 351.50 L297.49 351.50 L297.25 351.50 L297.02 351.50 L296.78 351.50 L296.55 351.50 L296.31 351.50 L296.08 351.50 L295.84 351.50 L295.61 351.50 L295.37 351.50 L295.14 351.50 L294.90 351.50 L294.67 351.50 L294.43 351.50 L294.20 351.50 L293.96 351.50 L293.73 351.50 L293.49 351.50 L293.26 351.50 L293.02 351.50 L292.79 351.50 L292.55 351.50 L292.32 351.50 L292.08 351.50 L291.85 351.50 L291.62 351.50 L291.38 351.50 L291.15 351.50 L290.91 351.50 L290.68 351.50 L290.44 351.50 L290.21 351.50 L289.97 351.50 L289.74 351.50 L289.50 351.50 L289.27 351.50 L289.03 351.50 L288.80 351.50 L288.56 351.50 L288.33 351.50 L288.09 351.50 L287.86 351.50 L287.62 351.50 L287.39 351.50 L287.15 351.50 L286.92 351.50 L286.68 351.50 L286.45 351.50 L286.21 351.50 L285.98 351.50 L285.74 351.50 L285.51 351.50 L285.27 351.50 L285.04 351.50 L284.81 351.50 L284.57 351.50 L284.34 351.50 L284.10 351.50 L283.87 351.50 L283.63 351.50 L283.40 351.50 L283.16 351.50 L282.93 351.50 L282.69 351.50 L282.46 351.50 L282.22 351.50 L281.99 351.50 L281.75 351.50 L281.52 351.50 L281.28 351.50 L281.05 351.50 L280.81 351.50 L280.58 351.50 L280.34 351.50 L280.11 351.50 L279.87 351.50 L279.64 351.50 L279.40 351.50 L279.17 351.50 L278.93 351.50 L278.70 351.50 L278.47 351.50 L278.23 351.50 L278.00 351.50 L277.76 351.50 L277.53 351.50 L277.29 351.50 L277.06 351.50 L276.82 351.50 L276.59 351.50 L276.39 351.50 L276.34 351.50 L276.29 351.50 L276.24 351.51 L276.19 351.51 L276.14 351.52 L276.09 351.53 L276.04 351.54 L275.99 351.55 L275.95 351.56 L275.90 351.58 L275.85 351.59 L275.80 351.61 L275.76 351.63 L275.71 351.65 L275.67 351.67 L275.62 351.69 L275.58 351.71 L275.54 351.74 L275.49 351.76 L275.45 351.79 L275.41 351.82 L275.37 351.85 L275.33 351.88 L275.29 351.91 L275.26 351.95 L275.22 351.98 L275.18 352.02 L275.15 352.05 L275.12 352.09 L275.08 352.13 L275.05 352.17 L275.02 352.21 L275.00 352.25 L274.97 352.29 L274.94 352.33 L274.92 352.37 L274.89 352.42 L274.87 352.46 L274.85 352.51 L274.83 352.55 L274.81 352.60 L274.80 352.65 L274.78 352.69 L274.77 352.74 L274.75 352.79 L274.74 352.84 L274.73 352.89 L274.72 352.94 L274.71 352.99 L274.71 353.04 L274.70 353.09 L274.71 353.14 L274.70 353.19 L274.70 353.36 L274.70 353.60 L274.70 353.83 L274.70 354.07 L274.70 354.30 L274.70 354.54 L274.70 354.77 L274.70 355.01 L274.70 355.24 L274.70 355.48 L274.70 355.71 L274.70 355.95 L274.70 356.18 L274.70 356.42 L274.70 356.65 L274.70 356.89 L274.70 357.12 L274.70 357.36 L274.70 357.59 L274.70 357.83 L274.70 358.06 L274.70 358.30 L274.70 358.53 L274.70 358.77 L274.70 359.00 L262.10 359.00 L262.10 358.77 L262.10 358.53 L262.10 358.30 L262.10 358.06 L262.10 357.83 L262.10 357.59 L262.10 357.36 L262.10 357.12 L262.10 356.89 L262.10 356.65 L262.10 356.42 L262.10 356.18 L262.10 355.95 L262.10 355.71 L262.10 355.48 L262.10 355.24 L262.10 355.01 L262.10 354.77 L262.10 354.54 L262.10 354.30 L262.10 354.07 L262.10 353.83 L262.10 353.60 L262.10 353.36 L262.10 353.07 L262.11 352.65 L262.13 352.24 L262.17 351.82 L262.21 351.40 L262.28 350.98 L262.34 350.57 L262.43 350.16 L262.52 349.75 L262.63 349.34 L262.75 348.94 L262.88 348.54 L263.03 348.15 L263.18 347.76 L263.34 347.37 L263.52 346.99 L263.71 346.62 L263.91 346.25 L264.12 345.88 L264.33 345.52 L264.57 345.18 L264.81 344.83 L265.06 344.49 L265.32 344.16 L265.59 343.84 L265.87 343.53 L266.16 343.23 L266.45 342.93 L266.76 342.64 L267.07 342.36 L267.40 342.09 L267.73 341.84 L268.06 341.58 L268.41 341.35 L268.76 341.11 L269.12 340.90 L269.48 340.69 L269.85 340.49 L270.23 340.30 L270.61 340.13 L270.99 339.96 L271.39 339.81 L271.78 339.67 L272.18 339.54 L272.58 339.42 L272.99 339.32 L273.40 339.22 L273.81 339.14 L274.22 339.07 L274.64 339.01 L275.06 338.97 L275.47 338.93 L275.89 338.91 L276.31 338.90 L276.59 338.90 L276.82 338.90 L277.06 338.90 L277.29 338.90 L277.53 338.90 L277.76 338.90 L278.00 338.90 L278.23 338.90 L278.47 338.90 L278.70 338.90 L278.93 338.90 L279.17 338.90 L279.40 338.90 L279.64 338.90 L279.87 338.90 L280.11 338.90 L280.34 338.90 L280.58 338.90 L280.81 338.90 L281.05 338.90 L281.28 338.90 L281.52 338.90 L281.75 338.90 L281.99 338.90 L282.22 338.90 L282.46 338.90 L282.69 338.90 L282.93 338.90 L283.16 338.90 L283.40 338.90 L283.63 338.90 L283.87 338.90 L284.10 338.90 L284.34 338.90 L284.57 338.90 L284.81 338.90 L285.04 338.90 L285.27 338.90 L285.51 338.90 L285.74 338.90 L285.98 338.90 L286.21 338.90 L286.45 338.90 L286.68 338.90 L286.92 338.90 L287.15 338.90 L287.39 338.90 L287.62 338.90 L287.86 338.90 L288.09 338.90 L288.33 338.90 L288.56 338.90 L288.80 338.90 L289.03 338.90 L289.27 338.90 L289.50 338.90 L289.74 338.90 L289.97 338.90 L290.21 338.90 L290.44 338.90 L290.68 338.90 L290.91 338.90 L291.15 338.90 L291.38 338.90 L291.62 338.90 L291.85 338.90 L292.08 338.90 L292.32 338.90 L292.55 338.90 L292.79 338.90 L293.02 338.90 L293.26 338.90 L293.49 338.90 L293.73 338.90 L293.96 338.90 L294.20 338.90 L294.43 338.90 L294.67 338.90 L294.90 338.90 L295.14 338.90 L295.37 338.90 L295.61 338.90 L295.84 338.90 L296.08 338.90 L296.31 338.90 L296.55 338.90 L296.78 338.90 L297.02 338.90 L297.25 338.90 L297.49 338.90 L297.72 338.90 L297.96 338.90 L298.19 338.90 L298.42 338.90 L298.66 338.90 L298.89 338.90 L299.13 338.90 L299.36 338.90 L299.60 338.90 L299.83 338.90 L300.07 338.90 L300.30 338.90 L300.54 338.90 L300.77 338.90 L301.01 338.90 L301.24 338.90 L301.48 338.90 L301.71 338.90 L301.95 338.90 L302.18 338.90 L302.42 338.90 L302.65 338.90 L302.89 338.90 L303.12 338.90 L303.36 338.90 L303.59 338.90 L303.83 338.90 L304.06 338.90 L304.30 338.90 L304.53 338.90 L304.77 338.90 L305.00 338.90 Z" fill="#fff" stroke="none" stroke-width="0" />
<path d="M299.00 351.20L299.03 351.17L299.06 351.14M299.12 351.20L299.09 351.17L299.06 351.14M299.06 351.14L300.55 349.65L302.03 348.17M305.00 351.14L303.52 349.65L302.03 348.17M293.18 351.20L293.15 351.17L293.12 351.14M293.12 351.14L294.61 349.65L296.09 348.17M296.09 348.17L297.58 346.68L299.06 345.20M302.03 348.17L300.55 346.68L299.06 345.20M299.06 345.20L300.55 343.72L302.03 342.23M305.00 345.20L303.52 343.72L302.03 342.23M287.12 351.20L287.15 351.17L287.18 351.14M287.24 351.20L287.21 351.17L287.18 351.14M287.18 351.14L288.67 349.65L290.15 348.17M293.12 351.14L291.64 349.65L290.15 348.17M296.09 348.17L294.61 346.68L293.12 345.20M293.12 345.20L294.61 343.72L296.09 342.23M296.09 342.23L297.58 340.75L299.06 339.26M302.03 342.23L300.55 340.75L299.06 339.26M299.06 339.26L299.09 339.23L299.12 339.20M305.00 339.26L304.97 339.23L304.94 339.20M281.30 351.20L281.27 351.17L281.24 351.14M281.24 351.14L282.73 349.65L284.21 348.17M284.21 348.17L285.70 346.68L287.18 345.20M290.15 348.17L288.67 346.68L287.18 345.20M287.18 345.20L288.67 343.72L290.15 342.23M293.12 345.20L291.64 343.72L290.15 342.23M296.09 342.23L294.61 340.75L293.12 339.26M293.12 339.26L293.15 339.23L293.18 339.20M276.11 351.22L276.11 351.19L276.12 351.16M276.14 351.22L276.13 351.19L276.12 351.16M276.12 351.16L276.79 349.65L278.27 348.17M281.24 351.14L279.76 349.65L278.27 348.17M284.21 348.17L282.73 346.68L281.24 345.20M281.24 345.20L282.73 343.72L284.21 342.23M284.21 342.23L285.70 340.75L287.18 339.26M290.15 342.23L288.67 340.75L287.18 339.26M287.18 339.26L287.21 339.23L287.24 339.20M293.12 339.26L293.09 339.23L293.06 339.20M274.87 351.92L274.84 351.90L274.81 351.89M274.81 351.89L274.13 350.48L273.95 348.81M273.95 348.81L274.33 347.02L275.31 345.28M278.27 348.17L276.79 346.68L275.31 345.28M275.31 345.28L276.79 343.72L278.27 342.23M281.24 345.20L279.76 343.72L278.27 342.23M284.21 342.23L282.73 340.75L281.24 339.26M281.24 339.26L281.27 339.23L281.30 339.20M274.40 353.67L274.37 353.64L274.34 353.61M274.40 353.55L274.37 353.58L274.34 353.61M274.34 353.61L272.89 352.73L271.63 351.62M274.81 351.89L273.30 351.48L271.63 351.62M273.95 348.81L272.23 348.19L270.23 348.10M270.23 348.10L270.33 345.91L271.06 343.62M271.06 343.62L272.45 341.39L274.49 339.39M278.27 342.23L276.79 340.75L274.49 339.39M274.49 339.39L274.54 339.36L274.59 339.32M281.24 339.26L281.21 339.23L281.18 339.20M273.79 359.00L272.58 357.79L271.37 356.58M271.37 356.58L269.88 355.10L268.40 353.61M271.63 351.62L269.95 352.33L268.40 353.61M268.40 353.61L267.00 351.93L265.99 349.75M270.23 348.10L268.10 348.61L265.99 349.75M271.06 343.62L268.43 343.63L265.66 344.32M265.66 344.32L265.67 344.26L265.68 344.20M271.37 356.58L270.16 357.79L268.95 359.00M267.85 359.00L266.64 357.79L265.43 356.58M265.43 356.58L263.95 355.10L262.46 353.61M265.99 349.75L264.06 351.54L262.46 353.61M262.46 353.61L262.43 353.58L262.40 353.55M265.66 344.32L265.60 344.34L265.54 344.36M265.43 356.58L264.22 357.79L263.01 359.00" fill="none" stroke="#4a4a4a" stroke-width="1.15" />
<path d="M305.00 351.50 L304.77 351.50 L304.53 351.50 L304.30 351.50 L304.06 351.50 L303.83 351.50 L303.59 351.50 L303.36 351.50 L303.12 351.50 L302.89 351.50 L302.65 351.50 L302.42 351.50 L302.18 351.50 L301.95 351.50 L301.71 351.50 L301.48 351.50 L301.24 351.50 L301.01 351.50 L300.77 351.50 L300.54 351.50 L300.30 351.50 L300.07 351.50 L299.83 351.50 L299.60 351.50 L299.36 351.50 L299.13 351.50 L298.89 351.50 L298.66 351.50 L298.42 351.50 L298.19 351.50 L297.96 351.50 L297.72 351.50 L297.49 351.50 L297.25 351.50 L297.02 351.50 L296.78 351.50 L296.55 351.50 L296.31 351.50 L296.08 351.50 L295.84 351.50 L295.61 351.50 L295.37 351.50 L295.14 351.50 L294.90 351.50 L294.67 351.50 L294.43 351.50 L294.20 351.50 L293.96 351.50 L293.73 351.50 L293.49 351.50 L293.26 351.50 L293.02 351.50 L292.79 351.50 L292.55 351.50 L292.32 351.50 L292.08 351.50 L291.85 351.50 L291.62 351.50 L291.38 351.50 L291.15 351.50 L290.91 351.50 L290.68 351.50 L290.44 351.50 L290.21 351.50 L289.97 351.50 L289.74 351.50 L289.50 351.50 L289.27 351.50 L289.03 351.50 L288.80 351.50 L288.56 351.50 L288.33 351.50 L288.09 351.50 L287.86 351.50 L287.62 351.50 L287.39 351.50 L287.15 351.50 L286.92 351.50 L286.68 351.50 L286.45 351.50 L286.21 351.50 L285.98 351.50 L285.74 351.50 L285.51 351.50 L285.27 351.50 L285.04 351.50 L284.81 351.50 L284.57 351.50 L284.34 351.50 L284.10 351.50 L283.87 351.50 L283.63 351.50 L283.40 351.50 L283.16 351.50 L282.93 351.50 L282.69 351.50 L282.46 351.50 L282.22 351.50 L281.99 351.50 L281.75 351.50 L281.52 351.50 L281.28 351.50 L281.05 351.50 L280.81 351.50 L280.58 351.50 L280.34 351.50 L280.11 351.50 L279.87 351.50 L279.64 351.50 L279.40 351.50 L279.17 351.50 L278.93 351.50 L278.70 351.50 L278.47 351.50 L278.23 351.50 L278.00 351.50 L277.76 351.50 L277.53 351.50 L277.29 351.50 L277.06 351.50 L276.82 351.50 L276.59 351.50 L276.39 351.50 L276.34 351.50 L276.29 351.50 L276.24 351.51 L276.19 351.51 L276.14 351.52 L276.09 351.53 L276.04 351.54 L275.99 351.55 L275.95 351.56 L275.90 351.58 L275.85 351.59 L275.80 351.61 L275.76 351.63 L275.71 351.65 L275.67 351.67 L275.62 351.69 L275.58 351.71 L275.54 351.74 L275.49 351.76 L275.45 351.79 L275.41 351.82 L275.37 351.85 L275.33 351.88 L275.29 351.91 L275.26 351.95 L275.22 351.98 L275.18 352.02 L275.15 352.05 L275.12 352.09 L275.08 352.13 L275.05 352.17 L275.02 352.21 L275.00 352.25 L274.97 352.29 L274.94 352.33 L274.92 352.37 L274.89 352.42 L274.87 352.46 L274.85 352.51 L274.83 352.55 L274.81 352.60 L274.80 352.65 L274.78 352.69 L274.77 352.74 L274.75 352.79 L274.74 352.84 L274.73 352.89 L274.72 352.94 L274.71 352.99 L274.71 353.04 L274.70 353.09 L274.71 353.14 L274.70 353.19 L274.70 353.36 L274.70 353.60 L274.70 353.83 L274.70 354.07 L274.70 354.30 L274.70 354.54 L274.70 354.77 L274.70 355.01 L274.70 355.24 L274.70 355.48 L274.70 355.71 L274.70 355.95 L274.70 356.18 L274.70 356.42 L274.70 356.65 L274.70 356.89 L274.70 357.12 L274.70 357.36 L274.70 357.59 L274.70 357.83 L274.70 358.06 L274.70 358.30 L274.70 358.53 L274.70 358.77 L274.70 359.00" fill="none" stroke="#222" stroke-width="1.0" />
<path d="M305.00 338.90 L304.77 338.90 L304.53 338.90 L304.30 338.90 L304.06 338.90 L303.83 338.90 L303.59 338.90 L303.36 338.90 L303.12 338.90 L302.89 338.90 L302.65 338.90 L302.42 338.90 L302.18 338.90 L301.95 338.90 L301.71 338.90 L301.48 338.90 L301.24 338.90 L301.01 338.90 L300.77 338.90 L300.54 338.90 L300.30 338.90 L300.07 338.90 L299.83 338.90 L299.60 338.90 L299.36 338.90 L299.13 338.90 L298.89 338.90 L298.66 338.90 L298.42 338.90 L298.19 338.90 L297.96 338.90 L297.72 338.90 L297.49 338.90 L297.25 338.90 L297.02 338.90 L296.78 338.90 L296.55 338.90 L296.31 338.90 L296.08 338.90 L295.84 338.90 L295.61 338.90 L295.37 338.90 L295.14 338.90 L294.90 338.90 L294.67 338.90 L294.43 338.90 L294.20 338.90 L293.96 338.90 L293.73 338.90 L293.49 338.90 L293.26 338.90 L293.02 338.90 L292.79 338.90 L292.55 338.90 L292.32 338.90 L292.08 338.90 L291.85 338.90 L291.62 338.90 L291.38 338.90 L291.15 338.90 L290.91 338.90 L290.68 338.90 L290.44 338.90 L290.21 338.90 L289.97 338.90 L289.74 338.90 L289.50 338.90 L289.27 338.90 L289.03 338.90 L288.80 338.90 L288.56 338.90 L288.33 338.90 L288.09 338.90 L287.86 338.90 L287.62 338.90 L287.39 338.90 L287.15 338.90 L286.92 338.90 L286.68 338.90 L286.45 338.90 L286.21 338.90 L285.98 338.90 L285.74 338.90 L285.51 338.90 L285.27 338.90 L285.04 338.90 L284.81 338.90 L284.57 338.90 L284.34 338.90 L284.10 338.90 L283.87 338.90 L283.63 338.90 L283.40 338.90 L283.16 338.90 L282.93 338.90 L282.69 338.90 L282.46 338.90 L282.22 338.90 L281.99 338.90 L281.75 338.90 L281.52 338.90 L281.28 338.90 L281.05 338.90 L280.81 338.90 L280.58 338.90 L280.34 338.90 L280.11 338.90 L279.87 338.90 L279.64 338.90 L279.40 338.90 L279.17 338.90 L278.93 338.90 L278.70 338.90 L278.47 338.90 L278.23 338.90 L278.00 338.90 L277.76 338.90 L277.53 338.90 L277.29 338.90 L277.06 338.90 L276.82 338.90 L276.59 338.90 L276.31 338.90 L275.89 338.91 L275.47 338.93 L275.06 338.97 L274.64 339.01 L274.22 339.07 L273.81 339.14 L273.40 339.22 L272.99 339.32 L272.58 339.42 L272.18 339.54 L271.78 339.67 L271.39 339.81 L270.99 339.96 L270.61 340.13 L270.23 340.30 L269.85 340.49 L269.48 340.69 L269.12 340.90 L268.76 341.11 L268.41 341.35 L268.06 341.58 L267.73 341.84 L267.40 342.09 L267.07 342.36 L266.76 342.64 L266.45 342.93 L266.16 343.23 L265.87 343.53 L265.59 343.84 L265.32 344.16 L265.06 344.49 L264.81 344.83 L264.57 345.18 L264.33 345.52 L264.12 345.88 L263.91 346.25 L263.71 346.62 L263.52 346.99 L263.34 347.37 L263.18 347.76 L263.03 348.15 L262.88 348.54 L262.75 348.94 L262.63 349.34 L262.52 349.75 L262.43 350.16 L262.34 350.57 L262.28 350.98 L262.21 351.40 L262.17 351.82 L262.13 352.24 L262.11 352.65 L262.10 353.07 L262.10 353.36 L262.10 353.60 L262.10 353.83 L262.10 354.07 L262.10 354.30 L262.10 354.54 L262.10 354.77 L262.10 355.01 L262.10 355.24 L262.10 355.48 L262.10 355.71 L262.10 355.95 L262.10 356.18 L262.10 356.42 L262.10 356.65 L262.10 356.89 L262.10 357.12 L262.10 357.36 L262.10 357.59 L262.10 357.83 L262.10 358.06 L262.10 358.30 L262.10 358.53 L262.10 358.77 L262.10 359.00" fill="none" stroke="#222" stroke-width="1.0" />
<line x1="305.00" y1="351.50" x2="305.00" y2="338.90" stroke="#222" stroke-width="0.9" />
<line x1="274.70" y1="359.00" x2="262.10" y2="359.00" stroke="#222" stroke-width="0.9" />
<path d="M274.50 364.00 L274.50 364.07 L274.50 364.13 L274.50 364.20 L274.50 364.27 L274.50 364.33 L274.50 364.40 L274.50 364.47 L274.50 364.54 L274.50 364.60 L274.50 364.67 L274.50 364.74 L274.50 364.80 L274.50 364.87 L274.50 364.94 L274.50 365.00 L274.50 365.07 L274.50 365.14 L274.50 365.21 L274.50 365.27 L274.50 365.34 L274.50 365.41 L274.50 365.47 L274.50 365.54 L274.50 365.61 L274.50 365.68 L274.50 365.74 L274.50 365.81 L274.50 365.88 L274.50 365.94 L274.50 366.01 L274.50 366.08 L274.50 366.14 L274.50 366.21 L274.50 366.28 L274.50 366.34 L274.50 366.41 L274.50 366.48 L274.50 366.55 L274.50 366.61 L274.50 366.68 L274.50 366.75 L274.50 366.81 L274.50 366.88 L274.50 366.95 L274.50 367.01 L274.50 367.08 L274.50 367.15 L274.50 367.22 L274.50 367.28 L274.50 367.35 L274.50 367.42 L274.50 367.48 L274.50 367.55 L274.50 367.62 L274.50 367.69 L274.50 367.75 L274.50 367.82 L274.50 367.89 L274.50 367.95 L274.50 368.02 L274.50 368.09 L274.50 368.15 L274.50 368.22 L274.50 368.29 L274.50 368.36 L274.50 368.42 L274.50 368.49 L274.50 368.56 L274.50 368.62 L274.50 368.69 L274.50 368.76 L274.50 368.82 L274.50 368.89 L274.50 368.96 L274.50 369.02 L274.50 369.09 L274.50 369.16 L274.50 369.23 L274.50 369.29 L274.50 369.36 L274.50 369.43 L274.50 369.49 L274.50 369.56 L274.50 369.63 L274.50 369.69 L274.50 369.76 L274.50 369.83 L274.50 369.90 L274.50 369.96 L274.50 370.03 L274.50 370.10 L274.50 370.16 L274.50 370.23 L274.50 370.30 L274.50 370.37 L274.50 370.43 L274.50 370.50 L274.50 370.57 L274.50 370.63 L274.50 370.70 L274.50 370.77 L274.50 370.83 L274.50 370.90 L274.50 370.97 L274.50 371.03 L274.50 371.10 L274.50 371.17 L274.50 371.24 L274.50 371.30 L274.50 371.37 L274.50 371.44 L274.50 371.50 L274.50 371.57 L274.50 371.64 L274.50 371.70 L274.50 371.77 L274.50 371.84 L274.50 371.91 L274.50 371.97 L274.50 372.04 L274.50 372.11 L274.50 372.17 L274.50 372.24 L274.50 372.31 L274.50 372.38 L274.50 372.44 L274.50 372.51 L274.50 372.58 L274.50 372.64 L274.50 372.71 L274.50 372.78 L274.50 372.84 L274.50 372.91 L274.50 372.98 L274.50 373.04 L274.50 373.11 L274.50 373.18 L274.50 373.25 L274.50 373.31 L274.50 373.38 L274.50 373.45 L274.50 373.51 L274.50 373.58 L274.50 373.65 L274.50 373.71 L274.50 373.78 L274.50 373.85 L274.50 373.92 L274.50 373.98 L274.50 374.05 L274.50 374.12 L274.50 374.18 L274.50 374.25 L274.50 374.32 L274.50 374.38 L274.50 374.45 L274.50 374.52 L274.50 374.59 L274.50 374.65 L274.50 374.72 L274.50 374.79 L274.50 374.85 L274.50 374.92 L274.50 374.99 L274.50 375.06 L274.50 375.12 L274.50 375.19 L274.50 375.26 L274.50 375.32 L274.50 375.39 L274.50 375.46 L274.50 375.52 L274.50 375.59 L274.50 375.66 L274.50 375.72 L274.50 375.79 L274.50 375.86 L274.50 375.93 L274.50 375.99 L274.50 376.06 L274.50 376.13 L274.50 376.19 L274.50 376.26 L274.50 376.33 L274.50 376.39 L274.50 376.46 L274.50 376.53 L274.50 376.60 L274.50 376.66 L274.50 376.73 L274.50 376.80 L274.50 376.86 L274.50 376.93 L274.50 377.00 L274.50 377.06 L274.50 377.13 L274.50 377.20 L274.50 377.27 L274.50 377.33 L274.50 377.40 L262.50 377.40 L262.50 377.33 L262.50 377.27 L262.50 377.20 L262.50 377.13 L262.50 377.06 L262.50 377.00 L262.50 376.93 L262.50 376.86 L262.50 376.80 L262.50 376.73 L262.50 376.66 L262.50 376.60 L262.50 376.53 L262.50 376.46 L262.50 376.39 L262.50 376.33 L262.50 376.26 L262.50 376.19 L262.50 376.13 L262.50 376.06 L262.50 375.99 L262.50 375.93 L262.50 375.86 L262.50 375.79 L262.50 375.72 L262.50 375.66 L262.50 375.59 L262.50 375.52 L262.50 375.46 L262.50 375.39 L262.50 375.32 L262.50 375.26 L262.50 375.19 L262.50 375.12 L262.50 375.06 L262.50 374.99 L262.50 374.92 L262.50 374.85 L262.50 374.79 L262.50 374.72 L262.50 374.65 L262.50 374.59 L262.50 374.52 L262.50 374.45 L262.50 374.38 L262.50 374.32 L262.50 374.25 L262.50 374.18 L262.50 374.12 L262.50 374.05 L262.50 373.98 L262.50 373.92 L262.50 373.85 L262.50 373.78 L262.50 373.71 L262.50 373.65 L262.50 373.58 L262.50 373.51 L262.50 373.45 L262.50 373.38 L262.50 373.31 L262.50 373.25 L262.50 373.18 L262.50 373.11 L262.50 373.04 L262.50 372.98 L262.50 372.91 L262.50 372.84 L262.50 372.78 L262.50 372.71 L262.50 372.64 L262.50 372.58 L262.50 372.51 L262.50 372.44 L262.50 372.38 L262.50 372.31 L262.50 372.24 L262.50 372.17 L262.50 372.11 L262.50 372.04 L262.50 371.97 L262.50 371.91 L262.50 371.84 L262.50 371.77 L262.50 371.70 L262.50 371.64 L262.50 371.57 L262.50 371.50 L262.50 371.44 L262.50 371.37 L262.50 371.30 L262.50 371.24 L262.50 371.17 L262.50 371.10 L262.50 371.03 L262.50 370.97 L262.50 370.90 L262.50 370.83 L262.50 370.77 L262.50 370.70 L262.50 370.63 L262.50 370.57 L262.50 370.50 L262.50 370.43 L262.50 370.37 L262.50 370.30 L262.50 370.23 L262.50 370.16 L262.50 370.10 L262.50 370.03 L262.50 369.96 L262.50 369.90 L262.50 369.83 L262.50 369.76 L262.50 369.69 L262.50 369.63 L262.50 369.56 L262.50 369.49 L262.50 369.43 L262.50 369.36 L262.50 369.29 L262.50 369.23 L262.50 369.16 L262.50 369.09 L262.50 369.02 L262.50 368.96 L262.50 368.89 L262.50 368.82 L262.50 368.76 L262.50 368.69 L262.50 368.62 L262.50 368.56 L262.50 368.49 L262.50 368.42 L262.50 368.36 L262.50 368.29 L262.50 368.22 L262.50 368.15 L262.50 368.09 L262.50 368.02 L262.50 367.95 L262.50 367.89 L262.50 367.82 L262.50 367.75 L262.50 367.69 L262.50 367.62 L262.50 367.55 L262.50 367.48 L262.50 367.42 L262.50 367.35 L262.50 367.28 L262.50 367.22 L262.50 367.15 L262.50 367.08 L262.50 367.01 L262.50 366.95 L262.50 366.88 L262.50 366.81 L262.50 366.75 L262.50 366.68 L262.50 366.61 L262.50 366.55 L262.50 366.48 L262.50 366.41 L262.50 366.34 L262.50 366.28 L262.50 366.21 L262.50 366.14 L262.50 366.08 L262.50 366.01 L262.50 365.94 L262.50 365.88 L262.50 365.81 L262.50 365.74 L262.50 365.68 L262.50 365.61 L262.50 365.54 L262.50 365.47 L262.50 365.41 L262.50 365.34 L262.50 365.27 L262.50 365.21 L262.50 365.14 L262.50 365.07 L262.50 365.00 L262.50 364.94 L262.50 364.87 L262.50 364.80 L262.50 364.74 L262.50 364.67 L262.50 364.60 L262.50 364.54 L262.50 364.47 L262.50 364.40 L262.50 364.33 L262.50 364.27 L262.50 364.20 L262.50 364.13 L262.50 364.07 L262.50 364.00 Z" fill="#fff" stroke="none" stroke-width="0" />
<path d="M274.20 369.70L272.83 368.33L271.47 366.97M274.20 364.24L272.83 365.60L271.47 366.97M274.20 375.64L272.83 374.27L271.47 372.91M271.47 372.91L269.98 371.42L268.50 369.94M271.47 366.97L269.98 368.45L268.50 369.94M268.50 369.94L267.02 368.45L265.53 366.97M268.50 364.00L267.02 365.48L265.53 366.97M274.20 376.12L273.56 376.76L272.92 377.40M271.47 372.91L269.98 374.39L268.50 375.88M268.50 375.88L267.02 374.39L265.53 372.91M265.53 372.91L264.17 371.54L262.80 370.18M265.53 366.97L264.17 368.33L262.80 369.70M268.50 375.88L267.74 376.64L266.98 377.40M265.53 372.91L264.17 374.27L262.80 375.64" fill="none" stroke="#4a4a4a" stroke-width="1.15" />
<path d="M274.50 364.00 L274.50 364.07 L274.50 364.13 L274.50 364.20 L274.50 364.27 L274.50 364.33 L274.50 364.40 L274.50 364.47 L274.50 364.54 L274.50 364.60 L274.50 364.67 L274.50 364.74 L274.50 364.80 L274.50 364.87 L274.50 364.94 L274.50 365.00 L274.50 365.07 L274.50 365.14 L274.50 365.21 L274.50 365.27 L274.50 365.34 L274.50 365.41 L274.50 365.47 L274.50 365.54 L274.50 365.61 L274.50 365.68 L274.50 365.74 L274.50 365.81 L274.50 365.88 L274.50 365.94 L274.50 366.01 L274.50 366.08 L274.50 366.14 L274.50 366.21 L274.50 366.28 L274.50 366.34 L274.50 366.41 L274.50 366.48 L274.50 366.55 L274.50 366.61 L274.50 366.68 L274.50 366.75 L274.50 366.81 L274.50 366.88 L274.50 366.95 L274.50 367.01 L274.50 367.08 L274.50 367.15 L274.50 367.22 L274.50 367.28 L274.50 367.35 L274.50 367.42 L274.50 367.48 L274.50 367.55 L274.50 367.62 L274.50 367.69 L274.50 367.75 L274.50 367.82 L274.50 367.89 L274.50 367.95 L274.50 368.02 L274.50 368.09 L274.50 368.15 L274.50 368.22 L274.50 368.29 L274.50 368.36 L274.50 368.42 L274.50 368.49 L274.50 368.56 L274.50 368.62 L274.50 368.69 L274.50 368.76 L274.50 368.82 L274.50 368.89 L274.50 368.96 L274.50 369.02 L274.50 369.09 L274.50 369.16 L274.50 369.23 L274.50 369.29 L274.50 369.36 L274.50 369.43 L274.50 369.49 L274.50 369.56 L274.50 369.63 L274.50 369.69 L274.50 369.76 L274.50 369.83 L274.50 369.90 L274.50 369.96 L274.50 370.03 L274.50 370.10 L274.50 370.16 L274.50 370.23 L274.50 370.30 L274.50 370.37 L274.50 370.43 L274.50 370.50 L274.50 370.57 L274.50 370.63 L274.50 370.70 L274.50 370.77 L274.50 370.83 L274.50 370.90 L274.50 370.97 L274.50 371.03 L274.50 371.10 L274.50 371.17 L274.50 371.24 L274.50 371.30 L274.50 371.37 L274.50 371.44 L274.50 371.50 L274.50 371.57 L274.50 371.64 L274.50 371.70 L274.50 371.77 L274.50 371.84 L274.50 371.91 L274.50 371.97 L274.50 372.04 L274.50 372.11 L274.50 372.17 L274.50 372.24 L274.50 372.31 L274.50 372.38 L274.50 372.44 L274.50 372.51 L274.50 372.58 L274.50 372.64 L274.50 372.71 L274.50 372.78 L274.50 372.84 L274.50 372.91 L274.50 372.98 L274.50 373.04 L274.50 373.11 L274.50 373.18 L274.50 373.25 L274.50 373.31 L274.50 373.38 L274.50 373.45 L274.50 373.51 L274.50 373.58 L274.50 373.65 L274.50 373.71 L274.50 373.78 L274.50 373.85 L274.50 373.92 L274.50 373.98 L274.50 374.05 L274.50 374.12 L274.50 374.18 L274.50 374.25 L274.50 374.32 L274.50 374.38 L274.50 374.45 L274.50 374.52 L274.50 374.59 L274.50 374.65 L274.50 374.72 L274.50 374.79 L274.50 374.85 L274.50 374.92 L274.50 374.99 L274.50 375.06 L274.50 375.12 L274.50 375.19 L274.50 375.26 L274.50 375.32 L274.50 375.39 L274.50 375.46 L274.50 375.52 L274.50 375.59 L274.50 375.66 L274.50 375.72 L274.50 375.79 L274.50 375.86 L274.50 375.93 L274.50 375.99 L274.50 376.06 L274.50 376.13 L274.50 376.19 L274.50 376.26 L274.50 376.33 L274.50 376.39 L274.50 376.46 L274.50 376.53 L274.50 376.60 L274.50 376.66 L274.50 376.73 L274.50 376.80 L274.50 376.86 L274.50 376.93 L274.50 377.00 L274.50 377.06 L274.50 377.13 L274.50 377.20 L274.50 377.27 L274.50 377.33 L274.50 377.40" fill="none" stroke="#222" stroke-width="1.0" />
<path d="M262.50 364.00 L262.50 364.07 L262.50 364.13 L262.50 364.20 L262.50 364.27 L262.50 364.33 L262.50 364.40 L262.50 364.47 L262.50 364.54 L262.50 364.60 L262.50 364.67 L262.50 364.74 L262.50 364.80 L262.50 364.87 L262.50 364.94 L262.50 365.00 L262.50 365.07 L262.50 365.14 L262.50 365.21 L262.50 365.27 L262.50 365.34 L262.50 365.41 L262.50 365.47 L262.50 365.54 L262.50 365.61 L262.50 365.68 L262.50 365.74 L262.50 365.81 L262.50 365.88 L262.50 365.94 L262.50 366.01 L262.50 366.08 L262.50 366.14 L262.50 366.21 L262.50 366.28 L262.50 366.34 L262.50 366.41 L262.50 366.48 L262.50 366.55 L262.50 366.61 L262.50 366.68 L262.50 366.75 L262.50 366.81 L262.50 366.88 L262.50 366.95 L262.50 367.01 L262.50 367.08 L262.50 367.15 L262.50 367.22 L262.50 367.28 L262.50 367.35 L262.50 367.42 L262.50 367.48 L262.50 367.55 L262.50 367.62 L262.50 367.69 L262.50 367.75 L262.50 367.82 L262.50 367.89 L262.50 367.95 L262.50 368.02 L262.50 368.09 L262.50 368.15 L262.50 368.22 L262.50 368.29 L262.50 368.36 L262.50 368.42 L262.50 368.49 L262.50 368.56 L262.50 368.62 L262.50 368.69 L262.50 368.76 L262.50 368.82 L262.50 368.89 L262.50 368.96 L262.50 369.02 L262.50 369.09 L262.50 369.16 L262.50 369.23 L262.50 369.29 L262.50 369.36 L262.50 369.43 L262.50 369.49 L262.50 369.56 L262.50 369.63 L262.50 369.69 L262.50 369.76 L262.50 369.83 L262.50 369.90 L262.50 369.96 L262.50 370.03 L262.50 370.10 L262.50 370.16 L262.50 370.23 L262.50 370.30 L262.50 370.37 L262.50 370.43 L262.50 370.50 L262.50 370.57 L262.50 370.63 L262.50 370.70 L262.50 370.77 L262.50 370.83 L262.50 370.90 L262.50 370.97 L262.50 371.03 L262.50 371.10 L262.50 371.17 L262.50 371.24 L262.50 371.30 L262.50 371.37 L262.50 371.44 L262.50 371.50 L262.50 371.57 L262.50 371.64 L262.50 371.70 L262.50 371.77 L262.50 371.84 L262.50 371.91 L262.50 371.97 L262.50 372.04 L262.50 372.11 L262.50 372.17 L262.50 372.24 L262.50 372.31 L262.50 372.38 L262.50 372.44 L262.50 372.51 L262.50 372.58 L262.50 372.64 L262.50 372.71 L262.50 372.78 L262.50 372.84 L262.50 372.91 L262.50 372.98 L262.50 373.04 L262.50 373.11 L262.50 373.18 L262.50 373.25 L262.50 373.31 L262.50 373.38 L262.50 373.45 L262.50 373.51 L262.50 373.58 L262.50 373.65 L262.50 373.71 L262.50 373.78 L262.50 373.85 L262.50 373.92 L262.50 373.98 L262.50 374.05 L262.50 374.12 L262.50 374.18 L262.50 374.25 L262.50 374.32 L262.50 374.38 L262.50 374.45 L262.50 374.52 L262.50 374.59 L262.50 374.65 L262.50 374.72 L262.50 374.79 L262.50 374.85 L262.50 374.92 L262.50 374.99 L262.50 375.06 L262.50 375.12 L262.50 375.19 L262.50 375.26 L262.50 375.32 L262.50 375.39 L262.50 375.46 L262.50 375.52 L262.50 375.59 L262.50 375.66 L262.50 375.72 L262.50 375.79 L262.50 375.86 L262.50 375.93 L262.50 375.99 L262.50 376.06 L262.50 376.13 L262.50 376.19 L262.50 376.26 L262.50 376.33 L262.50 376.39 L262.50 376.46 L262.50 376.53 L262.50 376.60 L262.50 376.66 L262.50 376.73 L262.50 376.80 L262.50 376.86 L262.50 376.93 L262.50 377.00 L262.50 377.06 L262.50 377.13 L262.50 377.20 L262.50 377.27 L262.50 377.33 L262.50 377.40" fill="none" stroke="#222" stroke-width="1.0" />
<line x1="274.50" y1="364.00" x2="262.50" y2="364.00" stroke="#222" stroke-width="0.9" />
<line x1="274.50" y1="377.40" x2="262.50" y2="377.40" stroke="#222" stroke-width="0.9" />
<path d="M505.20 369.50 L505.20 370.50 L505.20 371.50 L505.20 372.51 L505.20 373.51 L505.20 374.51 L505.20 375.51 L505.20 376.52 L505.20 377.52 L505.20 378.52 L505.20 379.52 L505.20 380.53 L505.20 381.53 L505.20 382.53 L505.20 383.53 L505.20 384.54 L505.20 385.54 L505.20 386.54 L505.20 387.54 L505.20 388.55 L505.20 389.55 L505.20 390.55 L505.20 391.55 L505.20 392.56 L505.20 393.56 L505.20 394.56 L505.20 395.56 L505.20 396.57 L505.20 397.57 L505.20 398.57 L505.20 399.57 L505.20 400.58 L505.20 401.58 L505.20 402.58 L505.20 403.58 L505.20 404.59 L505.20 405.59 L505.20 406.59 L505.20 407.59 L505.20 408.60 L505.20 409.60 L505.20 410.60 L505.20 411.60 L505.20 412.61 L505.20 413.61 L505.20 414.61 L505.20 415.61 L505.20 416.62 L505.20 417.62 L505.20 418.62 L505.11 420.32 L504.82 422.05 L504.32 423.73 L503.63 425.35 L502.75 426.87 L501.71 428.28 L500.50 429.56 L499.15 430.68 L497.68 431.64 L496.11 432.42 L494.45 433.01 L492.74 433.40 L490.99 433.58 L489.69 433.60 L488.69 433.60 L487.69 433.60 L486.68 433.60 L485.68 433.60 L484.68 433.60 L483.68 433.60 L482.67 433.60 L481.67 433.60 L480.67 433.60 L479.67 433.60 L478.66 433.60 L477.66 433.60 L476.66 433.60 L475.66 433.60 L474.65 433.60 L473.65 433.60 L472.65 433.60 L471.65 433.60 L470.64 433.60 L469.64 433.60 L468.64 433.60 L467.64 433.60 L466.63 433.60 L465.63 433.60 L464.63 433.60 L463.63 433.60 L462.62 433.60 L461.62 433.60 L460.62 433.60 L459.62 433.60 L458.61 433.60 L457.61 433.60 L456.61 433.60 L455.61 433.60 L454.60 433.60 L453.60 433.60 L452.60 433.60 L451.60 433.60 L450.60 433.60 L449.59 433.60 L448.59 433.60 L447.59 433.60 L446.59 433.60 L445.58 433.60 L444.58 433.60 L443.58 433.60 L442.58 433.60 L441.57 433.60 L440.57 433.60 L439.57 433.60 L438.57 433.60 L437.56 433.60 L436.56 433.60 L435.56 433.60 L434.56 433.60 L433.55 433.60 L432.55 433.60 L431.55 433.60 L430.55 433.60 L429.54 433.60 L428.54 433.60 L427.54 433.60 L426.54 433.60 L425.53 433.60 L424.53 433.60 L423.53 433.60 L422.53 433.60 L421.52 433.60 L420.52 433.60 L419.52 433.60 L418.52 433.60 L417.51 433.60 L416.51 433.60 L415.51 433.60 L414.51 433.60 L413.50 433.60 L412.50 433.60 L411.50 433.60 L410.50 433.60 L409.49 433.60 L408.49 433.60 L407.49 433.60 L406.49 433.60 L405.48 433.60 L404.48 433.60 L403.48 433.60 L402.48 433.60 L401.47 433.60 L400.47 433.60 L399.47 433.60 L398.47 433.60 L397.46 433.60 L396.46 433.60 L395.46 433.60 L394.46 433.60 L393.45 433.60 L392.45 433.60 L391.45 433.60 L390.45 433.60 L389.44 433.60 L388.44 433.60 L387.44 433.60 L386.44 433.60 L385.43 433.60 L384.43 433.60 L383.43 433.60 L382.43 433.60 L381.42 433.60 L380.42 433.60 L379.42 433.60 L377.68 433.50 L375.95 433.19 L374.27 432.69 L372.66 431.98 L371.14 431.10 L369.74 430.04 L368.47 428.82 L367.36 427.47 L366.41 425.99 L365.64 424.41 L365.06 422.75 L364.69 421.03 L364.52 419.29 L364.50 418.03 L364.50 417.03 L364.50 416.03 L364.50 415.02 L364.50 414.02 L364.50 413.02 L364.50 412.02 L364.50 411.01 L364.50 410.01 L364.50 409.01 L364.50 408.01 L364.50 407.00 L364.50 406.00 L364.50 405.00 L377.30 405.00 L377.30 406.00 L377.30 407.00 L377.30 408.01 L377.30 409.01 L377.30 410.01 L377.30 411.01 L377.30 412.02 L377.30 413.02 L377.30 414.02 L377.30 415.02 L377.30 416.03 L377.30 417.03 L377.30 418.03 L377.31 418.78 L377.33 419.03 L377.38 419.27 L377.46 419.50 L377.57 419.73 L377.71 419.93 L377.86 420.12 L378.04 420.30 L378.24 420.45 L378.45 420.57 L378.68 420.67 L378.91 420.74 L379.16 420.78 L379.42 420.80 L380.42 420.80 L381.42 420.80 L382.43 420.80 L383.43 420.80 L384.43 420.80 L385.43 420.80 L386.44 420.80 L387.44 420.80 L388.44 420.80 L389.44 420.80 L390.45 420.80 L391.45 420.80 L392.45 420.80 L393.45 420.80 L394.46 420.80 L395.46 420.80 L396.46 420.80 L397.46 420.80 L398.47 420.80 L399.47 420.80 L400.47 420.80 L401.47 420.80 L402.48 420.80 L403.48 420.80 L404.48 420.80 L405.48 420.80 L406.49 420.80 L407.49 420.80 L408.49 420.80 L409.49 420.80 L410.50 420.80 L411.50 420.80 L412.50 420.80 L413.50 420.80 L414.51 420.80 L415.51 420.80 L416.51 420.80 L417.51 420.80 L418.52 420.80 L419.52 420.80 L420.52 420.80 L421.52 420.80 L422.53 420.80 L423.53 420.80 L424.53 420.80 L425.53 420.80 L426.54 420.80 L427.54 420.80 L428.54 420.80 L429.54 420.80 L430.55 420.80 L431.55 420.80 L432.55 420.80 L433.55 420.80 L434.56 420.80 L435.56 420.80 L436.56 420.80 L437.56 420.80 L438.57 420.80 L439.57 420.80 L440.57 420.80 L441.57 420.80 L442.58 420.80 L443.58 420.80 L444.58 420.80 L445.58 420.80 L446.59 420.80 L447.59 420.80 L448.59 420.80 L449.59 420.80 L450.60 420.80 L451.60 420.80 L452.60 420.80 L453.60 420.80 L454.60 420.80 L455.61 420.80 L456.61 420.80 L457.61 420.80 L458.61 420.80 L459.62 420.80 L460.62 420.80 L461.62 420.80 L462.62 420.80 L463.63 420.80 L464.63 420.80 L465.63 420.80 L466.63 420.80 L467.64 420.80 L468.64 420.80 L469.64 420.80 L470.64 420.80 L471.65 420.80 L472.65 420.80 L473.65 420.80 L474.65 420.80 L475.66 420.80 L476.66 420.80 L477.66 420.80 L478.66 420.80 L479.67 420.80 L480.67 420.80 L481.67 420.80 L482.67 420.80 L483.68 420.80 L484.68 420.80 L485.68 420.80 L486.68 420.80 L487.69 420.80 L488.69 420.80 L489.69 420.80 L490.40 420.79 L490.64 420.77 L490.88 420.71 L491.12 420.63 L491.34 420.52 L491.55 420.39 L491.74 420.23 L491.91 420.05 L492.05 419.85 L492.18 419.64 L492.27 419.41 L492.34 419.17 L492.39 418.93 L492.40 418.62 L492.40 417.62 L492.40 416.62 L492.40 415.61 L492.40 414.61 L492.40 413.61 L492.40 412.61 L492.40 411.60 L492.40 410.60 L492.40 409.60 L492.40 408.60 L492.40 407.59 L492.40 406.59 L492.40 405.59 L492.40 404.59 L492.40 403.58 L492.40 402.58 L492.40 401.58 L492.40 400.58 L492.40 399.57 L492.40 398.57 L492.40 397.57 L492.40 396.57 L492.40 395.56 L492.40 394.56 L492.40 393.56 L492.40 392.56 L492.40 391.55 L492.40 390.55 L492.40 389.55 L492.40 388.55 L492.40 387.54 L492.40 386.54 L492.40 385.54 L492.40 384.54 L492.40 383.53 L492.40 382.53 L492.40 381.53 L492.40 380.53 L492.40 379.52 L492.40 378.52 L492.40 377.52 L492.40 376.52 L492.40 375.51 L492.40 374.51 L492.40 373.51 L492.40 372.51 L492.40 371.50 L492.40 370.50 L492.40 369.50 Z" fill="#fff" stroke="none" stroke-width="0" />
<path d="M504.90 375.60L504.82 375.52L504.74 375.44M504.90 375.28L504.82 375.36L504.74 375.44M504.74 375.44L503.25 373.95L501.77 372.47M504.74 369.50L503.25 370.98L501.77 372.47M504.90 381.22L504.82 381.30L504.74 381.38M504.74 381.38L503.25 379.89L501.77 378.41M501.77 378.41L500.28 376.92L498.80 375.44M501.77 372.47L500.28 373.95L498.80 375.44M498.80 375.44L497.32 373.95L495.83 372.47M498.80 369.50L497.32 370.98L495.83 372.47M504.90 387.48L504.82 387.40L504.74 387.32M504.90 387.16L504.82 387.24L504.74 387.32M504.74 387.32L503.25 385.83L501.77 384.35M504.74 381.38L503.25 382.86L501.77 384.35M501.77 378.41L500.28 379.89L498.80 381.38M498.80 381.38L497.32 379.89L495.83 378.41M495.83 378.41L494.35 376.92L492.86 375.44M495.83 372.47L494.35 373.95L492.86 375.44M492.86 375.44L492.78 375.36L492.70 375.28M492.86 369.50L492.78 369.58L492.70 369.66M504.90 393.10L504.82 393.18L504.74 393.26M504.74 393.26L503.25 391.77L501.77 390.29M501.77 390.29L500.28 388.80L498.80 387.32M501.77 384.35L500.28 385.83L498.80 387.32M498.80 387.32L497.32 385.83L495.83 384.35M498.80 381.38L497.32 382.86L495.83 384.35M495.83 378.41L494.35 379.89L492.86 381.38M492.86 381.38L492.78 381.30L492.70 381.22M504.90 399.36L504.82 399.28L504.74 399.20M504.90 399.04L504.82 399.12L504.74 399.20M504.74 399.20L503.25 397.71L501.77 396.23M504.74 393.26L503.25 394.74L501.77 396.23M501.77 390.29L500.28 391.77L498.80 393.26M498.80 393.26L497.32 391.77L495.83 390.29M495.83 390.29L494.35 388.80L492.86 387.32M495.83 384.35L494.35 385.83L492.86 387.32M492.86 387.32L492.78 387.24L492.70 387.16M492.86 381.38L492.78 381.46L492.70 381.54M504.90 404.98L504.82 405.06L504.74 405.14M504.74 405.14L503.25 403.65L501.77 402.17M501.77 402.17L500.28 400.68L498.80 399.20M501.77 396.23L500.28 397.71L498.80 399.20M498.80 399.20L497.32 397.71L495.83 396.23M498.80 393.26L497.32 394.74L495.83 396.23M495.83 390.29L494.35 391.77L492.86 393.26M492.86 393.26L492.78 393.18L492.70 393.10M504.90 411.24L504.82 411.16L504.74 411.08M504.90 410.92L504.82 411.00L504.74 411.08M504.74 411.08L503.25 409.59L501.77 408.11M504.74 405.14L503.25 406.62L501.77 408.11M501.77 402.17L500.28 403.65L498.80 405.14M498.80 405.14L497.32 403.65L495.83 402.17M495.83 402.17L494.35 400.68L492.86 399.20M495.83 396.23L494.35 397.71L492.86 399.20M492.86 399.20L492.78 399.12L492.70 399.04M492.86 393.26L492.78 393.34L492.70 393.42M504.90 416.86L504.82 416.94L504.74 417.02M504.74 417.02L503.25 415.53L501.77 414.05M501.77 414.05L500.28 412.56L498.80 411.08M501.77 408.11L500.28 409.59L498.80 411.08M498.80 411.08L497.32 409.59L495.83 408.11M498.80 405.14L497.32 406.62L495.83 408.11M495.83 402.17L494.35 403.65L492.86 405.14M492.86 405.14L492.78 405.06L492.70 404.98M502.97 425.95L502.97 425.79L502.96 425.63M503.24 425.47L503.10 425.55L502.96 425.63M502.96 425.63L502.57 422.85L501.63 420.43M504.74 417.02L503.25 418.50L501.63 420.43M501.77 414.05L500.28 415.53L498.80 417.02M498.80 417.02L497.32 415.53L495.83 414.05M495.83 414.05L494.35 412.56L492.86 411.08M495.83 408.11L494.35 409.59L492.86 411.08M492.86 411.08L492.78 411.00L492.70 410.92M492.86 405.14L492.78 405.22L492.70 405.30M495.85 432.20L495.69 432.18L495.53 432.16M495.53 432.16L497.02 429.77L497.87 427.32M497.87 427.32L498.09 424.94L497.75 422.78M501.63 420.43L499.75 421.90L497.75 422.78M497.75 422.78L496.94 420.95L495.76 419.53M498.80 417.02L497.32 418.50L495.76 419.53M495.83 414.05L494.35 415.53L492.86 417.02M492.86 417.02L492.78 416.94L492.70 416.86M487.35 433.30L487.43 433.22L487.51 433.14M487.67 433.30L487.59 433.22L487.51 433.14M487.51 433.14L489.00 431.65L490.55 430.16M495.53 432.16L492.83 431.40L490.55 430.16M497.87 427.32L495.48 427.23L493.38 426.62M493.38 426.62L493.94 424.70L493.95 422.86M493.95 422.86L493.45 421.23L492.54 419.93M495.76 419.53L494.13 420.00L492.54 419.93M492.54 419.93L492.48 419.87L492.43 419.81M492.86 417.02L492.78 417.10L492.70 417.18M481.73 433.30L481.65 433.22L481.57 433.14M481.57 433.14L483.06 431.65L484.54 430.17M484.54 430.17L486.03 428.68L487.51 427.20M490.55 430.16L489.00 428.68L487.51 427.20M487.51 427.20L489.00 425.72L490.42 424.23M493.38 426.62L491.67 425.58L490.42 424.23M493.95 422.86L492.40 422.16L491.23 421.08M491.23 421.08L491.22 421.00L491.21 420.92M475.47 433.30L475.55 433.22L475.63 433.14M475.79 433.30L475.71 433.22L475.63 433.14M475.63 433.14L477.12 431.65L478.60 430.17M481.57 433.14L480.09 431.65L478.60 430.17M484.54 430.17L483.06 428.68L481.57 427.20M481.57 427.20L483.06 425.72L484.54 424.23M484.54 424.23L486.03 422.75L487.51 421.26M490.42 424.23L489.00 422.75L487.51 421.26M487.51 421.26L487.59 421.18L487.67 421.10M491.23 421.08L491.18 421.02L491.13 420.95M469.85 433.30L469.77 433.22L469.69 433.14M469.69 433.14L471.18 431.65L472.66 430.17M472.66 430.17L474.15 428.68L475.63 427.20M478.60 430.17L477.12 428.68L475.63 427.20M475.63 427.20L477.12 425.72L478.60 424.23M481.57 427.20L480.09 425.72L478.60 424.23M484.54 424.23L483.06 422.75L481.57 421.26M481.57 421.26L481.65 421.18L481.73 421.10M463.59 433.30L463.67 433.22L463.75 433.14M463.91 433.30L463.83 433.22L463.75 433.14M463.75 433.14L465.24 431.65L466.72 430.17M469.69 433.14L468.21 431.65L466.72 430.17M472.66 430.17L471.18 428.68L469.69 427.20M469.69 427.20L471.18 425.72L472.66 424.23M472.66 424.23L474.15 422.75L475.63 421.26M478.60 424.23L477.12 422.75L475.63 421.26M475.63 421.26L475.71 421.18L475.79 421.10M481.57 421.26L481.49 421.18L481.41 421.10M457.97 433.30L457.89 433.22L457.81 433.14M457.81 433.14L459.30 431.65L460.78 430.17M460.78 430.17L462.27 428.68L463.75 427.20M466.72 430.17L465.24 428.68L463.75 427.20M463.75 427.20L465.24 425.72L466.72 424.23M469.69 427.20L468.21 425.72L466.72 424.23M472.66 424.23L471.18 422.75L469.69 421.26M469.69 421.26L469.77 421.18L469.85 421.10M451.71 433.30L451.79 433.22L451.87 433.14M452.04 433.30L451.96 433.22L451.87 433.14M451.87 433.14L453.36 431.65L454.84 430.17M457.81 433.14L456.33 431.65L454.84 430.17M460.78 430.17L459.30 428.68L457.81 427.20M457.81 427.20L459.30 425.72L460.78 424.23M460.78 424.23L462.27 422.75L463.75 421.26M466.72 424.23L465.24 422.75L463.75 421.26M463.75 421.26L463.83 421.18L463.91 421.10M469.69 421.26L469.61 421.18L469.53 421.10M446.10 433.30L446.02 433.22L445.94 433.14M445.94 433.14L447.42 431.65L448.91 430.17M448.91 430.17L450.39 428.68L451.87 427.20M454.84 430.17L453.36 428.68L451.87 427.20M451.87 427.20L453.36 425.72L454.84 424.23M457.81 427.20L456.33 425.72L454.84 424.23M460.78 424.23L459.30 422.75L457.81 421.26M457.81 421.26L457.89 421.18L457.97 421.10M439.84 433.30L439.92 433.22L440.00 433.14M440.16 433.30L440.08 433.22L440.00 433.14M440.00 433.14L441.48 431.65L442.97 430.17M445.94 433.14L444.45 431.65L442.97 430.17M448.91 430.17L447.42 428.68L445.94 427.20M445.94 427.20L447.42 425.72L448.91 424.23M448.91 424.23L450.39 422.75L451.87 421.26M454.84 424.23L453.36 422.75L451.87 421.26M451.87 421.26L451.96 421.18L452.04 421.10M457.81 421.26L457.73 421.18L457.65 421.10M434.22 433.30L434.14 433.22L434.06 433.14M434.06 433.14L435.54 431.65L437.03 430.17M437.03 430.17L438.51 428.68L440.00 427.20M442.97 430.17L441.48 428.68L440.00 427.20M440.00 427.20L441.48 425.72L442.97 424.23M445.94 427.20L444.45 425.72L442.97 424.23M448.91 424.23L447.42 422.75L445.94 421.26M445.94 421.26L446.02 421.18L446.10 421.10M427.96 433.30L428.04 433.22L428.12 433.14M428.28 433.30L428.20 433.22L428.12 433.14M428.12 433.14L429.60 431.65L431.09 430.17M434.06 433.14L432.57 431.65L431.09 430.17M437.03 430.17L435.54 428.68L434.06 427.20M434.06 427.20L435.54 425.72L437.03 424.23M437.03 424.23L438.51 422.75L440.00 421.26M442.97 424.23L441.48 422.75L440.00 421.26M440.00 421.26L440.08 421.18L440.16 421.10M445.94 421.26L445.86 421.18L445.77 421.10M422.34 433.30L422.26 433.22L422.18 433.14M422.18 433.14L423.66 431.65L425.15 430.17M425.15 430.17L426.63 428.68L428.12 427.20M431.09 430.17L429.60 428.68L428.12 427.20M428.12 427.20L429.60 425.72L431.09 424.23M434.06 427.20L432.57 425.72L431.09 424.23M437.03 424.23L435.54 422.75L434.06 421.26M434.06 421.26L434.14 421.18L434.22 421.10M416.08 433.30L416.16 433.22L416.24 433.14M416.40 433.30L416.32 433.22L416.24 433.14M416.24 433.14L417.72 431.65L419.21 430.17M422.18 433.14L420.69 431.65L419.21 430.17M425.15 430.17L423.66 428.68L422.18 427.20M422.18 427.20L423.66 425.72L425.15 424.23M425.15 424.23L426.63 422.75L428.12 421.26M431.09 424.23L429.60 422.75L428.12 421.26M428.12 421.26L428.20 421.18L428.28 421.10M434.06 421.26L433.98 421.18L433.90 421.10M410.46 433.30L410.38 433.22L410.30 433.14M410.30 433.14L411.78 431.65L413.27 430.17M413.27 430.17L414.75 428.68L416.24 427.20M419.21 430.17L417.72 428.68L416.24 427.20M416.24 427.20L417.72 425.72L419.21 424.23M422.18 427.20L420.69 425.72L419.21 424.23M425.15 424.23L423.66 422.75L422.18 421.26M422.18 421.26L422.26 421.18L422.34 421.10M404.20 433.30L404.28 433.22L404.36 433.14M404.52 433.30L404.44 433.22L404.36 433.14M404.36 433.14L405.84 431.65L407.33 430.17M410.30 433.14L408.81 431.65L407.33 430.17M413.27 430.17L411.78 428.68L410.30 427.20M410.30 427.20L411.78 425.72L413.27 424.23M413.27 424.23L414.75 422.75L416.24 421.26M419.21 424.23L417.72 422.75L416.24 421.26M416.24 421.26L416.32 421.18L416.40 421.10M422.18 421.26L422.10 421.18L422.02 421.10M398.58 433.30L398.50 433.22L398.42 433.14M398.42 433.14L399.90 431.65L401.39 430.17M401.39 430.17L402.87 428.68L404.36 427.20M407.33 430.17L405.84 428.68L404.36 427.20M404.36 427.20L405.84 425.72L407.33 424.23M410.30 427.20L408.81 425.72L407.33 424.23M413.27 424.23L411.78 422.75L410.30 421.26M410.30 421.26L410.38 421.18L410.46 421.10M392.32 433.30L392.40 433.22L392.48 433.14M392.64 433.30L392.56 433.22L392.48 433.14M392.48 433.14L393.96 431.65L395.45 430.17M398.42 433.14L396.93 431.65L395.45 430.17M401.39 430.17L399.90 428.68L398.42 427.20M398.42 427.20L399.90 425.72L401.39 424.23M401.39 424.23L402.87 422.75L404.36 421.26M407.33 424.23L405.84 422.75L404.36 421.26M404.36 421.26L404.44 421.18L404.52 421.10M410.30 421.26L410.22 421.18L410.14 421.10M386.70 433.30L386.62 433.22L386.54 433.14M386.54 433.14L388.02 431.65L389.51 430.17M389.51 430.17L390.99 428.68L392.48 427.20M395.45 430.17L393.96 428.68L392.48 427.20M392.48 427.20L393.96 425.72L395.45 424.23M398.42 427.20L396.93 425.72L395.45 424.23M401.39 424.23L399.90 422.75L398.42 421.26M398.42 421.26L398.50 421.18L398.58 421.10M380.44 433.30L380.52 433.22L380.60 433.14M380.76 433.30L380.68 433.22L380.60 433.14M380.60 433.14L382.08 431.65L383.57 430.17M386.54 433.14L385.05 431.65L383.57 430.17M389.51 430.17L388.02 428.68L386.54 427.20M386.54 427.20L388.02 425.72L389.51 424.23M389.51 424.23L390.99 422.75L392.48 421.26M395.45 424.23L393.96 422.75L392.48 421.26M392.48 421.26L392.56 421.18L392.64 421.10M398.42 421.26L398.34 421.18L398.26 421.10M371.91 431.23L371.83 431.09L371.76 430.95M371.76 430.95L374.56 430.71L377.03 429.92M377.03 429.92L379.06 428.68L380.60 427.20M383.57 430.17L382.08 428.68L380.60 427.20M380.60 427.20L382.08 425.72L383.57 424.23M386.54 427.20L385.05 425.72L383.57 424.23M389.51 424.23L388.02 422.75L386.54 421.26M386.54 421.26L386.62 421.18L386.70 421.10M365.43 422.95L365.55 423.05L365.67 423.16M365.61 423.47L365.64 423.31L365.67 423.16M365.67 423.16L367.96 424.78L370.36 425.76M371.76 430.95L370.74 428.33L370.36 425.76M377.03 429.92L375.67 427.96L374.90 425.91M374.90 425.91L376.78 425.20L378.26 424.11M378.26 424.11L379.26 422.74L380.60 421.26M383.57 424.23L382.08 422.75L380.60 421.26M380.60 421.26L380.68 421.18L380.76 421.10M386.54 421.26L386.46 421.18L386.38 421.10M364.80 415.59L364.88 415.51L364.96 415.43M364.96 415.43L366.45 416.91L367.93 418.40M367.93 418.40L369.52 420.09L371.32 421.32M370.36 425.76L370.59 423.39L371.32 421.32M371.32 421.32L373.21 421.99L375.04 422.11M374.90 425.91L374.71 423.91L375.04 422.11M378.26 424.11L377.89 422.45L378.05 420.87M378.05 420.87L378.11 420.82L378.17 420.76M364.80 409.33L364.88 409.41L364.96 409.49M364.80 409.65L364.88 409.57L364.96 409.49M364.96 409.49L366.45 410.97L367.93 412.46M364.96 415.43L366.45 413.94L367.93 412.46M367.93 418.40L369.42 416.91L370.90 415.43M370.90 415.43L372.38 416.91L373.87 418.40M373.87 418.40L375.40 419.26L376.97 419.49M375.04 422.11L375.83 420.60L376.97 419.49M376.97 419.49L377.05 419.49L377.14 419.48M378.05 420.87L378.07 420.79L378.09 420.71M366.41 405.00L367.17 405.76L367.93 406.52M367.93 406.52L369.42 408.00L370.90 409.49M367.93 412.46L369.42 410.97L370.90 409.49M370.90 409.49L372.38 410.97L373.87 412.46M370.90 415.43L372.38 413.94L373.87 412.46M373.87 418.40L375.35 416.91L376.84 415.43M376.84 415.43L376.92 415.51L377.00 415.59M367.93 406.52L368.69 405.76L369.45 405.00M372.35 405.00L373.11 405.76L373.87 406.52M373.87 406.52L375.35 408.00L376.84 409.49M373.87 412.46L375.35 410.97L376.84 409.49M376.84 409.49L376.92 409.57L377.00 409.65M376.84 415.43L376.92 415.35L377.00 415.27M373.87 406.52L374.63 405.76L375.39 405.00" fill="none" stroke="#4a4a4a" stroke-width="1.15" />
<path d="M505.20 369.50 L505.20 370.50 L505.20 371.50 L505.20 372.51 L505.20 373.51 L505.20 374.51 L505.20 375.51 L505.20 376.52 L505.20 377.52 L505.20 378.52 L505.20 379.52 L505.20 380.53 L505.20 381.53 L505.20 382.53 L505.20 383.53 L505.20 384.54 L505.20 385.54 L505.20 386.54 L505.20 387.54 L505.20 388.55 L505.20 389.55 L505.20 390.55 L505.20 391.55 L505.20 392.56 L505.20 393.56 L505.20 394.56 L505.20 395.56 L505.20 396.57 L505.20 397.57 L505.20 398.57 L505.20 399.57 L505.20 400.58 L505.20 401.58 L505.20 402.58 L505.20 403.58 L505.20 404.59 L505.20 405.59 L505.20 406.59 L505.20 407.59 L505.20 408.60 L505.20 409.60 L505.20 410.60 L505.20 411.60 L505.20 412.61 L505.20 413.61 L505.20 414.61 L505.20 415.61 L505.20 416.62 L505.20 417.62 L505.20 418.62 L505.11 420.32 L504.82 422.05 L504.32 423.73 L503.63 425.35 L502.75 426.87 L501.71 428.28 L500.50 429.56 L499.15 430.68 L497.68 431.64 L496.11 432.42 L494.45 433.01 L492.74 433.40 L490.99 433.58 L489.69 433.60 L488.69 433.60 L487.69 433.60 L486.68 433.60 L485.68 433.60 L484.68 433.60 L483.68 433.60 L482.67 433.60 L481.67 433.60 L480.67 433.60 L479.67 433.60 L478.66 433.60 L477.66 433.60 L476.66 433.60 L475.66 433.60 L474.65 433.60 L473.65 433.60 L472.65 433.60 L471.65 433.60 L470.64 433.60 L469.64 433.60 L468.64 433.60 L467.64 433.60 L466.63 433.60 L465.63 433.60 L464.63 433.60 L463.63 433.60 L462.62 433.60 L461.62 433.60 L460.62 433.60 L459.62 433.60 L458.61 433.60 L457.61 433.60 L456.61 433.60 L455.61 433.60 L454.60 433.60 L453.60 433.60 L452.60 433.60 L451.60 433.60 L450.60 433.60 L449.59 433.60 L448.59 433.60 L447.59 433.60 L446.59 433.60 L445.58 433.60 L444.58 433.60 L443.58 433.60 L442.58 433.60 L441.57 433.60 L440.57 433.60 L439.57 433.60 L438.57 433.60 L437.56 433.60 L436.56 433.60 L435.56 433.60 L434.56 433.60 L433.55 433.60 L432.55 433.60 L431.55 433.60 L430.55 433.60 L429.54 433.60 L428.54 433.60 L427.54 433.60 L426.54 433.60 L425.53 433.60 L424.53 433.60 L423.53 433.60 L422.53 433.60 L421.52 433.60 L420.52 433.60 L419.52 433.60 L418.52 433.60 L417.51 433.60 L416.51 433.60 L415.51 433.60 L414.51 433.60 L413.50 433.60 L412.50 433.60 L411.50 433.60 L410.50 433.60 L409.49 433.60 L408.49 433.60 L407.49 433.60 L406.49 433.60 L405.48 433.60 L404.48 433.60 L403.48 433.60 L402.48 433.60 L401.47 433.60 L400.47 433.60 L399.47 433.60 L398.47 433.60 L397.46 433.60 L396.46 433.60 L395.46 433.60 L394.46 433.60 L393.45 433.60 L392.45 433.60 L391.45 433.60 L390.45 433.60 L389.44 433.60 L388.44 433.60 L387.44 433.60 L386.44 433.60 L385.43 433.60 L384.43 433.60 L383.43 433.60 L382.43 433.60 L381.42 433.60 L380.42 433.60 L379.42 433.60 L377.68 433.50 L375.95 433.19 L374.27 432.69 L372.66 431.98 L371.14 431.10 L369.74 430.04 L368.47 428.82 L367.36 427.47 L366.41 425.99 L365.64 424.41 L365.06 422.75 L364.69 421.03 L364.52 419.29 L364.50 418.03 L364.50 417.03 L364.50 416.03 L364.50 415.02 L364.50 414.02 L364.50 413.02 L364.50 412.02 L364.50 411.01 L364.50 410.01 L364.50 409.01 L364.50 408.01 L364.50 407.00 L364.50 406.00 L364.50 405.00" fill="none" stroke="#222" stroke-width="1.0" />
<path d="M492.40 369.50 L492.40 370.50 L492.40 371.50 L492.40 372.51 L492.40 373.51 L492.40 374.51 L492.40 375.51 L492.40 376.52 L492.40 377.52 L492.40 378.52 L492.40 379.52 L492.40 380.53 L492.40 381.53 L492.40 382.53 L492.40 383.53 L492.40 384.54 L492.40 385.54 L492.40 386.54 L492.40 387.54 L492.40 388.55 L492.40 389.55 L492.40 390.55 L492.40 391.55 L492.40 392.56 L492.40 393.56 L492.40 394.56 L492.40 395.56 L492.40 396.57 L492.40 397.57 L492.40 398.57 L492.40 399.57 L492.40 400.58 L492.40 401.58 L492.40 402.58 L492.40 403.58 L492.40 404.59 L492.40 405.59 L492.40 406.59 L492.40 407.59 L492.40 408.60 L492.40 409.60 L492.40 410.60 L492.40 411.60 L492.40 412.61 L492.40 413.61 L492.40 414.61 L492.40 415.61 L492.40 416.62 L492.40 417.62 L492.40 418.62 L492.39 418.93 L492.34 419.17 L492.27 419.41 L492.18 419.64 L492.05 419.85 L491.91 420.05 L491.74 420.23 L491.55 420.39 L491.34 420.52 L491.12 420.63 L490.88 420.71 L490.64 420.77 L490.40 420.79 L489.69 420.80 L488.69 420.80 L487.69 420.80 L486.68 420.80 L485.68 420.80 L484.68 420.80 L483.68 420.80 L482.67 420.80 L481.67 420.80 L480.67 420.80 L479.67 420.80 L478.66 420.80 L477.66 420.80 L476.66 420.80 L475.66 420.80 L474.65 420.80 L473.65 420.80 L472.65 420.80 L471.65 420.80 L470.64 420.80 L469.64 420.80 L468.64 420.80 L467.64 420.80 L466.63 420.80 L465.63 420.80 L464.63 420.80 L463.63 420.80 L462.62 420.80 L461.62 420.80 L460.62 420.80 L459.62 420.80 L458.61 420.80 L457.61 420.80 L456.61 420.80 L455.61 420.80 L454.60 420.80 L453.60 420.80 L452.60 420.80 L451.60 420.80 L450.60 420.80 L449.59 420.80 L448.59 420.80 L447.59 420.80 L446.59 420.80 L445.58 420.80 L444.58 420.80 L443.58 420.80 L442.58 420.80 L441.57 420.80 L440.57 420.80 L439.57 420.80 L438.57 420.80 L437.56 420.80 L436.56 420.80 L435.56 420.80 L434.56 420.80 L433.55 420.80 L432.55 420.80 L431.55 420.80 L430.55 420.80 L429.54 420.80 L428.54 420.80 L427.54 420.80 L426.54 420.80 L425.53 420.80 L424.53 420.80 L423.53 420.80 L422.53 420.80 L421.52 420.80 L420.52 420.80 L419.52 420.80 L418.52 420.80 L417.51 420.80 L416.51 420.80 L415.51 420.80 L414.51 420.80 L413.50 420.80 L412.50 420.80 L411.50 420.80 L410.50 420.80 L409.49 420.80 L408.49 420.80 L407.49 420.80 L406.49 420.80 L405.48 420.80 L404.48 420.80 L403.48 420.80 L402.48 420.80 L401.47 420.80 L400.47 420.80 L399.47 420.80 L398.47 420.80 L397.46 420.80 L396.46 420.80 L395.46 420.80 L394.46 420.80 L393.45 420.80 L392.45 420.80 L391.45 420.80 L390.45 420.80 L389.44 420.80 L388.44 420.80 L387.44 420.80 L386.44 420.80 L385.43 420.80 L384.43 420.80 L383.43 420.80 L382.43 420.80 L381.42 420.80 L380.42 420.80 L379.42 420.80 L379.16 420.78 L378.91 420.74 L378.68 420.67 L378.45 420.57 L378.24 420.45 L378.04 420.30 L377.86 420.12 L377.71 419.93 L377.57 419.73 L377.46 419.50 L377.38 419.27 L377.33 419.03 L377.31 418.78 L377.30 418.03 L377.30 417.03 L377.30 416.03 L377.30 415.02 L377.30 414.02 L377.30 413.02 L377.30 412.02 L377.30 411.01 L377.30 410.01 L377.30 409.01 L377.30 408.01 L377.30 407.00 L377.30 406.00 L377.30 405.00" fill="none" stroke="#222" stroke-width="1.0" />
<line x1="505.20" y1="369.50" x2="492.40" y2="369.50" stroke="#222" stroke-width="0.9" />
<line x1="364.50" y1="405.00" x2="377.30" y2="405.00" stroke="#222" stroke-width="0.9" />
<path d="M662.90 492.00 L662.90 493.09 L662.90 494.17 L662.90 495.26 L662.90 496.35 L662.90 497.43 L662.90 498.52 L662.90 499.61 L662.90 500.69 L662.90 501.78 L662.90 502.86 L662.90 503.95 L662.90 505.04 L662.90 506.12 L662.90 507.21 L662.90 508.30 L662.90 509.38 L662.90 510.47 L662.90 511.56 L662.90 512.64 L662.90 513.73 L662.90 514.82 L662.90 515.90 L662.90 516.99 L662.90 518.08 L662.90 519.16 L662.90 520.25 L662.90 521.34 L662.90 522.42 L662.90 523.51 L662.90 524.59 L662.90 525.68 L662.90 526.77 L662.90 527.85 L662.90 528.94 L662.90 530.03 L662.90 531.11 L662.90 532.20 L662.90 533.29 L662.90 534.37 L662.90 535.46 L662.90 536.55 L662.90 537.63 L662.90 538.72 L662.90 539.81 L662.90 540.89 L662.85 542.49 L662.58 544.37 L662.07 546.21 L661.33 547.96 L660.37 549.60 L659.21 551.11 L657.87 552.46 L656.36 553.63 L654.72 554.59 L652.97 555.34 L651.14 555.86 L649.26 556.14 L647.63 556.20 L646.55 556.20 L645.46 556.20 L644.37 556.20 L643.29 556.20 L642.20 556.20 L641.11 556.20 L640.03 556.20 L638.94 556.20 L637.85 556.20 L636.77 556.20 L635.68 556.20 L634.59 556.20 L633.51 556.20 L632.42 556.20 L631.34 556.20 L630.25 556.20 L629.16 556.20 L628.08 556.20 L626.99 556.20 L625.90 556.20 L624.82 556.20 L623.73 556.20 L622.64 556.20 L621.56 556.20 L620.47 556.20 L619.38 556.20 L618.30 556.20 L617.21 556.20 L616.12 556.20 L615.04 556.20 L613.95 556.20 L612.86 556.20 L611.78 556.20 L610.69 556.20 L609.61 556.20 L608.52 556.20 L607.43 556.20 L606.35 556.20 L605.26 556.20 L604.17 556.20 L603.09 556.20 L602.00 556.20 L600.91 556.20 L599.83 556.20 L598.74 556.20 L597.65 556.20 L596.57 556.20 L595.48 556.20 L594.39 556.20 L593.31 556.20 L592.22 556.20 L591.14 556.20 L590.05 556.20 L588.96 556.20 L587.88 556.20 L586.79 556.20 L585.70 556.20 L584.62 556.20 L583.53 556.20 L582.44 556.20 L581.36 556.20 L580.27 556.20 L579.18 556.20 L578.10 556.20 L577.01 556.20 L575.92 556.20 L574.84 556.20 L573.75 556.20 L572.66 556.20 L571.58 556.20 L570.49 556.20 L569.41 556.20 L568.32 556.20 L567.23 556.20 L566.15 556.20 L565.06 556.20 L563.97 556.20 L562.89 556.20 L561.80 556.20 L560.71 556.20 L559.63 556.20 L558.54 556.20 L557.45 556.20 L556.37 556.20 L555.28 556.20 L554.19 556.20 L553.11 556.20 L552.02 556.20 L550.93 556.20 L549.85 556.20 L548.76 556.20 L547.68 556.20 L546.59 556.20 L545.50 556.20 L544.42 556.20 L543.33 556.20 L542.24 556.20 L541.16 556.20 L540.07 556.20 L538.98 556.20 L537.90 556.20 L536.29 556.15 L534.41 555.87 L532.58 555.36 L530.82 554.62 L529.18 553.66 L527.67 552.50 L526.32 551.15 L525.16 549.65 L524.20 548.01 L523.45 546.25 L522.93 544.42 L522.66 542.54 L522.60 540.92 L522.60 539.84 L522.60 538.75 L522.60 537.66 L522.60 536.58 L522.60 535.49 L522.60 534.40 L522.60 533.32 L522.60 532.23 L522.60 531.14 L522.60 530.06 L522.60 528.97 L522.60 527.88 L522.60 526.80 L522.60 525.71 L522.60 524.62 L522.60 523.54 L522.60 522.45 L522.60 521.36 L522.60 520.28 L522.60 519.19 L522.60 518.11 L522.60 517.02 L522.60 515.93 L522.60 514.85 L522.60 513.76 L522.60 512.67 L522.60 511.59 L522.60 510.50 L535.40 510.50 L535.40 511.59 L535.40 512.67 L535.40 513.76 L535.40 514.85 L535.40 515.93 L535.40 517.02 L535.40 518.11 L535.40 519.19 L535.40 520.28 L535.40 521.36 L535.40 522.45 L535.40 523.54 L535.40 524.62 L535.40 525.71 L535.40 526.80 L535.40 527.88 L535.40 528.97 L535.40 530.06 L535.40 531.14 L535.40 532.23 L535.40 533.32 L535.40 534.40 L535.40 535.49 L535.40 536.58 L535.40 537.66 L535.40 538.75 L535.40 539.84 L535.40 540.92 L535.41 541.47 L535.45 541.74 L535.52 542.00 L535.63 542.24 L535.76 542.48 L535.93 542.69 L536.12 542.88 L536.33 543.04 L536.56 543.17 L536.81 543.28 L537.07 543.35 L537.33 543.39 L537.90 543.40 L538.98 543.40 L540.07 543.40 L541.16 543.40 L542.24 543.40 L543.33 543.40 L544.42 543.40 L545.50 543.40 L546.59 543.40 L547.68 543.40 L548.76 543.40 L549.85 543.40 L550.93 543.40 L552.02 543.40 L553.11 543.40 L554.19 543.40 L555.28 543.40 L556.37 543.40 L557.45 543.40 L558.54 543.40 L559.63 543.40 L560.71 543.40 L561.80 543.40 L562.89 543.40 L563.97 543.40 L565.06 543.40 L566.15 543.40 L567.23 543.40 L568.32 543.40 L569.41 543.40 L570.49 543.40 L571.58 543.40 L572.66 543.40 L573.75 543.40 L574.84 543.40 L575.92 543.40 L577.01 543.40 L578.10 543.40 L579.18 543.40 L580.27 543.40 L581.36 543.40 L582.44 543.40 L583.53 543.40 L584.62 543.40 L585.70 543.40 L586.79 543.40 L587.88 543.40 L588.96 543.40 L590.05 543.40 L591.14 543.40 L592.22 543.40 L593.31 543.40 L594.39 543.40 L595.48 543.40 L596.57 543.40 L597.65 543.40 L598.74 543.40 L599.83 543.40 L600.91 543.40 L602.00 543.40 L603.09 543.40 L604.17 543.40 L605.26 543.40 L606.35 543.40 L607.43 543.40 L608.52 543.40 L609.61 543.40 L610.69 543.40 L611.78 543.40 L612.86 543.40 L613.95 543.40 L615.04 543.40 L616.12 543.40 L617.21 543.40 L618.30 543.40 L619.38 543.40 L620.47 543.40 L621.56 543.40 L622.64 543.40 L623.73 543.40 L624.82 543.40 L625.90 543.40 L626.99 543.40 L628.08 543.40 L629.16 543.40 L630.25 543.40 L631.34 543.40 L632.42 543.40 L633.51 543.40 L634.59 543.40 L635.68 543.40 L636.77 543.40 L637.85 543.40 L638.94 543.40 L640.03 543.40 L641.11 543.40 L642.20 543.40 L643.29 543.40 L644.37 543.40 L645.46 543.40 L646.55 543.40 L647.63 543.40 L648.18 543.39 L648.44 543.35 L648.70 543.28 L648.95 543.17 L649.18 543.04 L649.39 542.87 L649.58 542.68 L649.74 542.47 L649.88 542.24 L649.98 541.99 L650.05 541.73 L650.09 541.47 L650.10 540.89 L650.10 539.81 L650.10 538.72 L650.10 537.63 L650.10 536.55 L650.10 535.46 L650.10 534.37 L650.10 533.29 L650.10 532.20 L650.10 531.11 L650.10 530.03 L650.10 528.94 L650.10 527.85 L650.10 526.77 L650.10 525.68 L650.10 524.59 L650.10 523.51 L650.10 522.42 L650.10 521.34 L650.10 520.25 L650.10 519.16 L650.10 518.08 L650.10 516.99 L650.10 515.90 L650.10 514.82 L650.10 513.73 L650.10 512.64 L650.10 511.56 L650.10 510.47 L650.10 509.38 L650.10 508.30 L650.10 507.21 L650.10 506.12 L650.10 505.04 L650.10 503.95 L650.10 502.86 L650.10 501.78 L650.10 500.69 L650.10 499.61 L650.10 498.52 L650.10 497.43 L650.10 496.35 L650.10 495.26 L650.10 494.17 L650.10 493.09 L650.10 492.00 Z" fill="#fff" stroke="none" stroke-width="0" />
<path d="M662.60 498.10L662.52 498.02L662.44 497.94M662.60 497.78L662.52 497.86L662.44 497.94M662.44 497.94L660.95 496.45L659.47 494.97M662.44 492.00L660.95 493.48L659.47 494.97M662.60 503.72L662.52 503.80L662.44 503.88M662.44 503.88L660.95 502.39L659.47 500.91M659.47 500.91L657.98 499.42L656.50 497.94M659.47 494.97L657.98 496.45L656.50 497.94M656.50 497.94L655.02 496.45L653.53 494.97M656.50 492.00L655.02 493.48L653.53 494.97M662.60 509.98L662.52 509.90L662.44 509.82M662.60 509.66L662.52 509.74L662.44 509.82M662.44 509.82L660.95 508.33L659.47 506.85M662.44 503.88L660.95 505.36L659.47 506.85M659.47 500.91L657.98 502.39L656.50 503.88M656.50 503.88L655.02 502.39L653.53 500.91M653.53 500.91L652.05 499.42L650.56 497.94M653.53 494.97L652.05 496.45L650.56 497.94M650.56 497.94L650.48 497.86L650.40 497.78M650.56 492.00L650.48 492.08L650.40 492.16M662.60 515.60L662.52 515.68L662.44 515.76M662.44 515.76L660.95 514.27L659.47 512.79M659.47 512.79L657.98 511.30L656.50 509.82M659.47 506.85L657.98 508.33L656.50 509.82M656.50 509.82L655.02 508.33L653.53 506.85M656.50 503.88L655.02 505.36L653.53 506.85M653.53 500.91L652.05 502.39L650.56 503.88M650.56 503.88L650.48 503.80L650.40 503.72M662.60 521.86L662.52 521.78L662.44 521.70M662.60 521.54L662.52 521.62L662.44 521.70M662.44 521.70L660.95 520.21L659.47 518.73M662.44 515.76L660.95 517.24L659.47 518.73M659.47 512.79L657.98 514.27L656.50 515.76M656.50 515.76L655.02 514.27L653.53 512.79M653.53 512.79L652.05 511.30L650.56 509.82M653.53 506.85L652.05 508.33L650.56 509.82M650.56 509.82L650.48 509.74L650.40 509.66M650.56 503.88L650.48 503.96L650.40 504.04M662.60 527.48L662.52 527.56L662.44 527.64M662.44 527.64L660.95 526.15L659.47 524.67M659.47 524.67L657.98 523.18L656.50 521.70M659.47 518.73L657.98 520.21L656.50 521.70M656.50 521.70L655.02 520.21L653.53 518.73M656.50 515.76L655.02 517.24L653.53 518.73M653.53 512.79L652.05 514.27L650.56 515.76M650.56 515.76L650.48 515.68L650.40 515.60M662.60 533.74L662.52 533.66L662.44 533.58M662.60 533.42L662.52 533.50L662.44 533.58M662.44 533.58L660.95 532.09L659.47 530.61M662.44 527.64L660.95 529.12L659.47 530.61M659.47 524.67L657.98 526.15L656.50 527.64M656.50 527.64L655.02 526.15L653.53 524.67M653.53 524.67L652.05 523.18L650.56 521.70M653.53 518.73L652.05 520.21L650.56 521.70M650.56 521.70L650.48 521.62L650.40 521.54M650.56 515.76L650.48 515.84L650.40 515.92M662.60 539.36L662.52 539.44L662.44 539.52M662.44 539.52L660.95 538.03L659.47 536.55M659.47 536.55L657.98 535.06L656.50 533.58M659.47 530.61L657.98 532.09L656.50 533.58M656.50 533.58L655.02 532.09L653.53 530.61M656.50 527.64L655.02 529.12L653.53 530.61M653.53 524.67L652.05 526.15L650.56 527.64M650.56 527.64L650.48 527.56L650.40 527.48M660.75 548.40L660.75 548.24L660.75 548.08M661.01 547.91L660.88 548.00L660.75 548.08M660.75 548.08L660.32 545.31L659.35 542.90M662.44 539.52L660.95 541.00L659.35 542.90M659.47 536.55L657.98 538.03L656.50 539.52M656.50 539.52L655.02 538.03L653.53 536.55M653.53 536.55L652.05 535.06L650.56 533.58M653.53 530.61L652.05 532.09L650.56 533.58M650.56 533.58L650.48 533.50L650.40 533.42M650.56 527.64L650.48 527.72L650.40 527.80M653.71 554.74L653.55 554.71L653.39 554.69M653.39 554.69L654.85 552.29L655.67 549.83M655.67 549.83L655.86 547.45L655.50 545.29M659.35 542.90L657.49 544.39L655.50 545.29M655.50 545.29L654.67 543.47L653.47 542.07M656.50 539.52L655.02 541.00L653.47 542.07M653.53 536.55L652.05 538.03L650.56 539.52M650.56 539.52L650.48 539.44L650.40 539.36M645.15 555.90L645.23 555.82L645.31 555.74M645.47 555.90L645.39 555.82L645.31 555.74M645.31 555.74L646.80 554.25L648.38 552.76M653.39 554.69L650.67 553.97L648.38 552.76M655.67 549.83L653.28 549.77L651.17 549.18M651.17 549.18L651.71 547.25L651.70 545.41M651.70 545.41L651.19 543.79L650.26 542.50M653.47 542.07L651.84 542.55L650.26 542.50M650.26 542.50L650.20 542.44L650.14 542.39M650.56 539.52L650.48 539.60L650.40 539.68M639.53 555.90L639.45 555.82L639.37 555.74M639.37 555.74L640.86 554.25L642.34 552.77M642.34 552.77L643.83 551.28L645.31 549.80M648.38 552.76L646.80 551.28L645.31 549.80M645.31 549.80L646.80 548.32L648.18 546.82M651.17 549.18L649.45 548.16L648.18 546.82M651.70 545.41L650.14 544.73L648.95 543.67M648.95 543.67L648.95 543.59L648.94 543.51M633.27 555.90L633.35 555.82L633.43 555.74M633.59 555.90L633.51 555.82L633.43 555.74M633.43 555.74L634.92 554.25L636.40 552.77M639.37 555.74L637.89 554.25L636.40 552.77M642.34 552.77L640.86 551.28L639.37 549.80M639.37 549.80L640.86 548.32L642.34 546.83M642.34 546.83L643.83 545.35L645.31 543.86M648.18 546.82L646.80 545.35L645.31 543.86M645.31 543.86L645.39 543.78L645.47 543.70M648.95 543.67L648.90 543.61L648.85 543.54M627.65 555.90L627.57 555.82L627.49 555.74M627.49 555.74L628.98 554.25L630.46 552.77M630.46 552.77L631.95 551.28L633.43 549.80M636.40 552.77L634.92 551.28L633.43 549.80M633.43 549.80L634.92 548.32L636.40 546.83M639.37 549.80L637.89 548.32L636.40 546.83M642.34 546.83L640.86 545.35L639.37 543.86M639.37 543.86L639.45 543.78L639.53 543.70M621.39 555.90L621.47 555.82L621.55 555.74M621.71 555.90L621.63 555.82L621.55 555.74M621.55 555.74L623.04 554.25L624.52 552.77M627.49 555.74L626.01 554.25L624.52 552.77M630.46 552.77L628.98 551.28L627.49 549.80M627.49 549.80L628.98 548.32L630.46 546.83M630.46 546.83L631.95 545.35L633.43 543.86M636.40 546.83L634.92 545.35L633.43 543.86M633.43 543.86L633.51 543.78L633.59 543.70M639.37 543.86L639.29 543.78L639.21 543.70M615.77 555.90L615.69 555.82L615.61 555.74M615.61 555.74L617.10 554.25L618.58 552.77M618.58 552.77L620.07 551.28L621.55 549.80M624.52 552.77L623.04 551.28L621.55 549.80M621.55 549.80L623.04 548.32L624.52 546.83M627.49 549.80L626.01 548.32L624.52 546.83M630.46 546.83L628.98 545.35L627.49 543.86M627.49 543.86L627.57 543.78L627.65 543.70M609.51 555.90L609.59 555.82L609.67 555.74M609.84 555.90L609.76 555.82L609.67 555.74M609.67 555.74L611.16 554.25L612.64 552.77M615.61 555.74L614.13 554.25L612.64 552.77M618.58 552.77L617.10 551.28L615.61 549.80M615.61 549.80L617.10 548.32L618.58 546.83M618.58 546.83L620.07 545.35L621.55 543.86M624.52 546.83L623.04 545.35L621.55 543.86M621.55 543.86L621.63 543.78L621.71 543.70M627.49 543.86L627.41 543.78L627.33 543.70M603.90 555.90L603.82 555.82L603.74 555.74M603.74 555.74L605.22 554.25L606.71 552.77M606.71 552.77L608.19 551.28L609.67 549.80M612.64 552.77L611.16 551.28L609.67 549.80M609.67 549.80L611.16 548.32L612.64 546.83M615.61 549.80L614.13 548.32L612.64 546.83M618.58 546.83L617.10 545.35L615.61 543.86M615.61 543.86L615.69 543.78L615.77 543.70M597.64 555.90L597.72 555.82L597.80 555.74M597.96 555.90L597.88 555.82L597.80 555.74M597.80 555.74L599.28 554.25L600.77 552.77M603.74 555.74L602.25 554.25L600.77 552.77M606.71 552.77L605.22 551.28L603.74 549.80M603.74 549.80L605.22 548.32L606.71 546.83M606.71 546.83L608.19 545.35L609.67 543.86M612.64 546.83L611.16 545.35L609.67 543.86M609.67 543.86L609.76 543.78L609.84 543.70M615.61 543.86L615.53 543.78L615.45 543.70M592.02 555.90L591.94 555.82L591.86 555.74M591.86 555.74L593.34 554.25L594.83 552.77M594.83 552.77L596.31 551.28L597.80 549.80M600.77 552.77L599.28 551.28L597.80 549.80M597.80 549.80L599.28 548.32L600.77 546.83M603.74 549.80L602.25 548.32L600.77 546.83M606.71 546.83L605.22 545.35L603.74 543.86M603.74 543.86L603.82 543.78L603.90 543.70M585.76 555.90L585.84 555.82L585.92 555.74M586.08 555.90L586.00 555.82L585.92 555.74M585.92 555.74L587.40 554.25L588.89 552.77M591.86 555.74L590.37 554.25L588.89 552.77M594.83 552.77L593.34 551.28L591.86 549.80M591.86 549.80L593.34 548.32L594.83 546.83M594.83 546.83L596.31 545.35L597.80 543.86M600.77 546.83L599.28 545.35L597.80 543.86M597.80 543.86L597.88 543.78L597.96 543.70M603.74 543.86L603.66 543.78L603.57 543.70M580.14 555.90L580.06 555.82L579.98 555.74M579.98 555.74L581.46 554.25L582.95 552.77M582.95 552.77L584.43 551.28L585.92 549.80M588.89 552.77L587.40 551.28L585.92 549.80M585.92 549.80L587.40 548.32L588.89 546.83M591.86 549.80L590.37 548.32L588.89 546.83M594.83 546.83L593.34 545.35L591.86 543.86M591.86 543.86L591.94 543.78L592.02 543.70M573.88 555.90L573.96 555.82L574.04 555.74M574.20 555.90L574.12 555.82L574.04 555.74M574.04 555.74L575.52 554.25L577.01 552.77M579.98 555.74L578.49 554.25L577.01 552.77M582.95 552.77L581.46 551.28L579.98 549.80M579.98 549.80L581.46 548.32L582.95 546.83M582.95 546.83L584.43 545.35L585.92 543.86M588.89 546.83L587.40 545.35L585.92 543.86M585.92 543.86L586.00 543.78L586.08 543.70M591.86 543.86L591.78 543.78L591.70 543.70M568.26 555.90L568.18 555.82L568.10 555.74M568.10 555.74L569.58 554.25L571.07 552.77M571.07 552.77L572.55 551.28L574.04 549.80M577.01 552.77L575.52 551.28L574.04 549.80M574.04 549.80L575.52 548.32L577.01 546.83M579.98 549.80L578.49 548.32L577.01 546.83M582.95 546.83L581.46 545.35L579.98 543.86M579.98 543.86L580.06 543.78L580.14 543.70M562.00 555.90L562.08 555.82L562.16 555.74M562.32 555.90L562.24 555.82L562.16 555.74M562.16 555.74L563.64 554.25L565.13 552.77M568.10 555.74L566.61 554.25L565.13 552.77M571.07 552.77L569.58 551.28L568.10 549.80M568.10 549.80L569.58 548.32L571.07 546.83M571.07 546.83L572.55 545.35L574.04 543.86M577.01 546.83L575.52 545.35L574.04 543.86M574.04 543.86L574.12 543.78L574.20 543.70M579.98 543.86L579.90 543.78L579.82 543.70M556.38 555.90L556.30 555.82L556.22 555.74M556.22 555.74L557.70 554.25L559.19 552.77M559.19 552.77L560.67 551.28L562.16 549.80M565.13 552.77L563.64 551.28L562.16 549.80M562.16 549.80L563.64 548.32L565.13 546.83M568.10 549.80L566.61 548.32L565.13 546.83M571.07 546.83L569.58 545.35L568.10 543.86M568.10 543.86L568.18 543.78L568.26 543.70M550.12 555.90L550.20 555.82L550.28 555.74M550.44 555.90L550.36 555.82L550.28 555.74M550.28 555.74L551.76 554.25L553.25 552.77M556.22 555.74L554.73 554.25L553.25 552.77M559.19 552.77L557.70 551.28L556.22 549.80M556.22 549.80L557.70 548.32L559.19 546.83M559.19 546.83L560.67 545.35L562.16 543.86M565.13 546.83L563.64 545.35L562.16 543.86M562.16 543.86L562.24 543.78L562.32 543.70M568.10 543.86L568.02 543.78L567.94 543.70M544.50 555.90L544.42 555.82L544.34 555.74M544.34 555.74L545.82 554.25L547.31 552.77M547.31 552.77L548.79 551.28L550.28 549.80M553.25 552.77L551.76 551.28L550.28 549.80M550.28 549.80L551.76 548.32L553.25 546.83M556.22 549.80L554.73 548.32L553.25 546.83M559.19 546.83L557.70 545.35L556.22 543.86M556.22 543.86L556.30 543.78L556.38 543.70M538.24 555.90L538.32 555.82L538.40 555.74M538.56 555.90L538.48 555.82L538.40 555.74M538.40 555.74L539.88 554.25L541.37 552.77M544.34 555.74L542.85 554.25L541.37 552.77M547.31 552.77L545.82 551.28L544.34 549.80M544.34 549.80L545.82 548.32L547.31 546.83M547.31 546.83L548.79 545.35L550.28 543.86M553.25 546.83L551.76 545.35L550.28 543.86M550.28 543.86L550.36 543.78L550.44 543.70M556.22 543.86L556.14 543.78L556.06 543.70M529.57 553.55L529.50 553.41L529.43 553.27M529.43 553.27L532.24 553.14L534.73 552.43M534.73 552.43L536.81 551.26L538.40 549.80M541.37 552.77L539.88 551.28L538.40 549.80M538.40 549.80L539.88 548.32L541.37 546.83M544.34 549.80L542.85 548.32L541.37 546.83M547.31 546.83L545.82 545.35L544.34 543.86M544.34 543.86L544.42 543.78L544.50 543.70M523.39 545.05L523.51 545.16L523.62 545.27M523.54 545.58L523.58 545.43L523.62 545.27M523.62 545.27L525.86 546.97L528.22 548.04M529.43 553.27L528.50 550.62L528.22 548.04M534.73 552.43L533.44 550.42L532.75 548.35M532.75 548.35L534.65 547.71L536.17 546.67M536.17 546.67L537.22 545.33L538.40 543.86M541.37 546.83L539.88 545.35L538.40 543.86M538.40 543.86L538.48 543.78L538.56 543.70M544.34 543.86L544.26 543.78L544.18 543.70M522.90 537.89L522.98 537.81L523.06 537.73M523.06 537.73L524.55 539.21L526.03 540.70M526.03 540.70L527.57 542.34L529.33 543.64M528.22 548.04L528.53 545.67L529.33 543.64M529.33 543.64L531.20 544.37L533.03 544.55M532.75 548.35L532.63 546.34L533.03 544.55M536.17 546.67L535.86 545.00L536.07 543.42M536.07 543.42L536.13 543.37L536.20 543.31M522.90 531.63L522.98 531.71L523.06 531.79M522.90 531.95L522.98 531.87L523.06 531.79M523.06 531.79L524.55 533.27L526.03 534.76M523.06 537.73L524.55 536.24L526.03 534.76M526.03 540.70L527.52 539.21L529.00 537.73M529.00 537.73L530.48 539.21L531.97 540.70M531.97 540.70L533.48 541.72L535.04 542.00M533.03 544.55L533.87 543.07L535.04 542.00M535.04 542.00L535.12 542.00L535.21 542.00M536.07 543.42L536.09 543.34L536.12 543.26M522.90 526.01L522.98 525.93L523.06 525.85M523.06 525.85L524.55 527.33L526.03 528.82M526.03 528.82L527.52 530.30L529.00 531.79M526.03 534.76L527.52 533.27L529.00 531.79M529.00 531.79L530.48 533.27L531.97 534.76M529.00 537.73L530.48 536.24L531.97 534.76M531.97 540.70L533.45 539.21L534.94 537.73M534.94 537.73L535.02 537.81L535.10 537.89M522.90 519.75L522.98 519.83L523.06 519.91M522.90 520.07L522.98 519.99L523.06 519.91M523.06 519.91L524.55 521.40L526.03 522.88M523.06 525.85L524.55 524.36L526.03 522.88M526.03 528.82L527.52 527.33L529.00 525.85M529.00 525.85L530.48 527.33L531.97 528.82M531.97 528.82L533.45 530.30L534.94 531.79M531.97 534.76L533.45 533.27L534.94 531.79M534.94 531.79L535.02 531.87L535.10 531.95M534.94 537.73L535.02 537.65L535.10 537.57M522.90 514.13L522.98 514.05L523.06 513.97M523.06 513.97L524.55 515.46L526.03 516.94M526.03 516.94L527.52 518.43L529.00 519.91M526.03 522.88L527.52 521.40L529.00 519.91M529.00 519.91L530.48 521.40L531.97 522.88M529.00 525.85L530.48 524.36L531.97 522.88M531.97 528.82L533.45 527.33L534.94 525.85M534.94 525.85L535.02 525.93L535.10 526.01M525.53 510.50L525.78 510.75L526.03 511.00M523.06 513.97L524.55 512.49L526.03 511.00M526.03 516.94L527.52 515.46L529.00 513.97M529.00 513.97L530.48 515.46L531.97 516.94M531.97 516.94L533.45 518.43L534.94 519.91M531.97 522.88L533.45 521.40L534.94 519.91M534.94 519.91L535.02 519.99L535.10 520.07M534.94 525.85L535.02 525.77L535.10 525.69M526.03 511.00L526.28 510.75L526.53 510.50M531.47 510.50L531.72 510.75L531.97 511.00M529.00 513.97L530.48 512.49L531.97 511.00M531.97 516.94L533.45 515.46L534.94 513.97M534.94 513.97L535.02 514.05L535.10 514.13M531.97 511.00L532.22 510.75L532.47 510.50M534.94 513.97L535.02 513.89L535.10 513.81" fill="none" stroke="#4a4a4a" stroke-width="1.15" />
<path d="M662.90 492.00 L662.90 493.09 L662.90 494.17 L662.90 495.26 L662.90 496.35 L662.90 497.43 L662.90 498.52 L662.90 499.61 L662.90 500.69 L662.90 501.78 L662.90 502.86 L662.90 503.95 L662.90 505.04 L662.90 506.12 L662.90 507.21 L662.90 508.30 L662.90 509.38 L662.90 510.47 L662.90 511.56 L662.90 512.64 L662.90 513.73 L662.90 514.82 L662.90 515.90 L662.90 516.99 L662.90 518.08 L662.90 519.16 L662.90 520.25 L662.90 521.34 L662.90 522.42 L662.90 523.51 L662.90 524.59 L662.90 525.68 L662.90 526.77 L662.90 527.85 L662.90 528.94 L662.90 530.03 L662.90 531.11 L662.90 532.20 L662.90 533.29 L662.90 534.37 L662.90 535.46 L662.90 536.55 L662.90 537.63 L662.90 538.72 L662.90 539.81 L662.90 540.89 L662.85 542.49 L662.58 544.37 L662.07 546.21 L661.33 547.96 L660.37 549.60 L659.21 551.11 L657.87 552.46 L656.36 553.63 L654.72 554.59 L652.97 555.34 L651.14 555.86 L649.26 556.14 L647.63 556.20 L646.55 556.20 L645.46 556.20 L644.37 556.20 L643.29 556.20 L642.20 556.20 L641.11 556.20 L640.03 556.20 L638.94 556.20 L637.85 556.20 L636.77 556.20 L635.68 556.20 L634.59 556.20 L633.51 556.20 L632.42 556.20 L631.34 556.20 L630.25 556.20 L629.16 556.20 L628.08 556.20 L626.99 556.20 L625.90 556.20 L624.82 556.20 L623.73 556.20 L622.64 556.20 L621.56 556.20 L620.47 556.20 L619.38 556.20 L618.30 556.20 L617.21 556.20 L616.12 556.20 L615.04 556.20 L613.95 556.20 L612.86 556.20 L611.78 556.20 L610.69 556.20 L609.61 556.20 L608.52 556.20 L607.43 556.20 L606.35 556.20 L605.26 556.20 L604.17 556.20 L603.09 556.20 L602.00 556.20 L600.91 556.20 L599.83 556.20 L598.74 556.20 L597.65 556.20 L596.57 556.20 L595.48 556.20 L594.39 556.20 L593.31 556.20 L592.22 556.20 L591.14 556.20 L590.05 556.20 L588.96 556.20 L587.88 556.20 L586.79 556.20 L585.70 556.20 L584.62 556.20 L583.53 556.20 L582.44 556.20 L581.36 556.20 L580.27 556.20 L579.18 556.20 L578.10 556.20 L577.01 556.20 L575.92 556.20 L574.84 556.20 L573.75 556.20 L572.66 556.20 L571.58 556.20 L570.49 556.20 L569.41 556.20 L568.32 556.20 L567.23 556.20 L566.15 556.20 L565.06 556.20 L563.97 556.20 L562.89 556.20 L561.80 556.20 L560.71 556.20 L559.63 556.20 L558.54 556.20 L557.45 556.20 L556.37 556.20 L555.28 556.20 L554.19 556.20 L553.11 556.20 L552.02 556.20 L550.93 556.20 L549.85 556.20 L548.76 556.20 L547.68 556.20 L546.59 556.20 L545.50 556.20 L544.42 556.20 L543.33 556.20 L542.24 556.20 L541.16 556.20 L540.07 556.20 L538.98 556.20 L537.90 556.20 L536.29 556.15 L534.41 555.87 L532.58 555.36 L530.82 554.62 L529.18 553.66 L527.67 552.50 L526.32 551.15 L525.16 549.65 L524.20 548.01 L523.45 546.25 L522.93 544.42 L522.66 542.54 L522.60 540.92 L522.60 539.84 L522.60 538.75 L522.60 537.66 L522.60 536.58 L522.60 535.49 L522.60 534.40 L522.60 533.32 L522.60 532.23 L522.60 531.14 L522.60 530.06 L522.60 528.97 L522.60 527.88 L522.60 526.80 L522.60 525.71 L522.60 524.62 L522.60 523.54 L522.60 522.45 L522.60 521.36 L522.60 520.28 L522.60 519.19 L522.60 518.11 L522.60 517.02 L522.60 515.93 L522.60 514.85 L522.60 513.76 L522.60 512.67 L522.60 511.59 L522.60 510.50" fill="none" stroke="#222" stroke-width="1.0" />
<path d="M650.10 492.00 L650.10 493.09 L650.10 494.17 L650.10 495.26 L650.10 496.35 L650.10 497.43 L650.10 498.52 L650.10 499.61 L650.10 500.69 L650.10 501.78 L650.10 502.86 L650.10 503.95 L650.10 505.04 L650.10 506.12 L650.10 507.21 L650.10 508.30 L650.10 509.38 L650.10 510.47 L650.10 511.56 L650.10 512.64 L650.10 513.73 L650.10 514.82 L650.10 515.90 L650.10 516.99 L650.10 518.08 L650.10 519.16 L650.10 520.25 L650.10 521.34 L650.10 522.42 L650.10 523.51 L650.10 524.59 L650.10 525.68 L650.10 526.77 L650.10 527.85 L650.10 528.94 L650.10 530.03 L650.10 531.11 L650.10 532.20 L650.10 533.29 L650.10 534.37 L650.10 535.46 L650.10 536.55 L650.10 537.63 L650.10 538.72 L650.10 539.81 L650.10 540.89 L650.09 541.47 L650.05 541.73 L649.98 541.99 L649.88 542.24 L649.74 542.47 L649.58 542.68 L649.39 542.87 L649.18 543.04 L648.95 543.17 L648.70 543.28 L648.44 543.35 L648.18 543.39 L647.63 543.40 L646.55 543.40 L645.46 543.40 L644.37 543.40 L643.29 543.40 L642.20 543.40 L641.11 543.40 L640.03 543.40 L638.94 543.40 L637.85 543.40 L636.77 543.40 L635.68 543.40 L634.59 543.40 L633.51 543.40 L632.42 543.40 L631.34 543.40 L630.25 543.40 L629.16 543.40 L628.08 543.40 L626.99 543.40 L625.90 543.40 L624.82 543.40 L623.73 543.40 L622.64 543.40 L621.56 543.40 L620.47 543.40 L619.38 543.40 L618.30 543.40 L617.21 543.40 L616.12 543.40 L615.04 543.40 L613.95 543.40 L612.86 543.40 L611.78 543.40 L610.69 543.40 L609.61 543.40 L608.52 543.40 L607.43 543.40 L606.35 543.40 L605.26 543.40 L604.17 543.40 L603.09 543.40 L602.00 543.40 L600.91 543.40 L599.83 543.40 L598.74 543.40 L597.65 543.40 L596.57 543.40 L595.48 543.40 L594.39 543.40 L593.31 543.40 L592.22 543.40 L591.14 543.40 L590.05 543.40 L588.96 543.40 L587.88 543.40 L586.79 543.40 L585.70 543.40 L584.62 543.40 L583.53 543.40 L582.44 543.40 L581.36 543.40 L580.27 543.40 L579.18 543.40 L578.10 543.40 L577.01 543.40 L575.92 543.40 L574.84 543.40 L573.75 543.40 L572.66 543.40 L571.58 543.40 L570.49 543.40 L569.41 543.40 L568.32 543.40 L567.23 543.40 L566.15 543.40 L565.06 543.40 L563.97 543.40 L562.89 543.40 L561.80 543.40 L560.71 543.40 L559.63 543.40 L558.54 543.40 L557.45 543.40 L556.37 543.40 L555.28 543.40 L554.19 543.40 L553.11 543.40 L552.02 543.40 L550.93 543.40 L549.85 543.40 L548.76 543.40 L547.68 543.40 L546.59 543.40 L545.50 543.40 L544.42 543.40 L543.33 543.40 L542.24 543.40 L541.16 543.40 L540.07 543.40 L538.98 543.40 L537.90 543.40 L537.33 543.39 L537.07 543.35 L536.81 543.28 L536.56 543.17 L536.33 543.04 L536.12 542.88 L535.93 542.69 L535.76 542.48 L535.63 542.24 L535.52 542.00 L535.45 541.74 L535.41 541.47 L535.40 540.92 L535.40 539.84 L535.40 538.75 L535.40 537.66 L535.40 536.58 L535.40 535.49 L535.40 534.40 L535.40 533.32 L535.40 532.23 L535.40 531.14 L535.40 530.06 L535.40 528.97 L535.40 527.88 L535.40 526.80 L535.40 525.71 L535.40 524.62 L535.40 523.54 L535.40 522.45 L535.40 521.36 L535.40 520.28 L535.40 519.19 L535.40 518.11 L535.40 517.02 L535.40 515.93 L535.40 514.85 L535.40 513.76 L535.40 512.67 L535.40 511.59 L535.40 510.50" fill="none" stroke="#222" stroke-width="1.0" />
<line x1="662.90" y1="492.00" x2="650.10" y2="492.00" stroke="#222" stroke-width="0.9" />
<line x1="522.60" y1="510.50" x2="535.40" y2="510.50" stroke="#222" stroke-width="0.9" />
<path d="M137.00 616.40 L137.34 616.40 L137.68 616.40 L138.01 616.40 L138.35 616.40 L138.69 616.40 L139.03 616.40 L139.36 616.40 L139.70 616.40 L140.04 616.40 L140.38 616.40 L140.71 616.40 L141.05 616.40 L141.39 616.40 L141.72 616.40 L142.06 616.40 L142.40 616.40 L142.74 616.40 L143.07 616.40 L143.41 616.40 L143.75 616.40 L144.09 616.40 L144.43 616.40 L144.76 616.40 L145.10 616.40 L145.44 616.40 L145.78 616.40 L146.11 616.40 L146.45 616.40 L146.79 616.40 L147.12 616.40 L147.46 616.40 L147.80 616.40 L148.14 616.40 L148.47 616.40 L148.81 616.40 L149.15 616.40 L149.49 616.40 L149.82 616.40 L150.16 616.40 L150.50 616.40 L150.84 616.40 L151.18 616.40 L151.51 616.40 L151.85 616.40 L152.19 616.40 L152.53 616.40 L152.86 616.40 L153.20 616.40 L153.54 616.40 L153.88 616.40 L154.21 616.40 L154.55 616.40 L154.89 616.40 L155.22 616.40 L155.56 616.40 L155.90 616.40 L156.24 616.40 L156.57 616.40 L156.91 616.40 L157.25 616.40 L157.59 616.40 L157.93 616.40 L158.26 616.40 L158.60 616.40 L158.94 616.40 L159.28 616.40 L159.61 616.40 L159.95 616.40 L160.29 616.40 L160.62 616.40 L160.96 616.40 L161.30 616.40 L161.64 616.40 L161.97 616.40 L162.31 616.40 L162.65 616.40 L162.99 616.40 L163.32 616.40 L163.66 616.40 L164.00 616.40 L164.34 616.40 L164.68 616.40 L165.01 616.40 L165.35 616.40 L165.69 616.40 L166.03 616.40 L166.36 616.40 L166.70 616.40 L167.04 616.40 L167.38 616.40 L167.71 616.40 L168.05 616.40 L168.39 616.40 L168.72 616.40 L169.06 616.40 L169.40 616.40 L169.74 616.40 L170.07 616.40 L170.41 616.40 L170.75 616.40 L171.09 616.40 L171.43 616.40 L171.76 616.40 L172.10 616.40 L172.44 616.40 L172.78 616.40 L173.11 616.40 L173.45 616.40 L173.79 616.40 L174.12 616.40 L174.46 616.40 L174.80 616.40 L175.14 616.40 L175.47 616.40 L175.81 616.40 L176.15 616.40 L176.49 616.40 L176.82 616.40 L177.16 616.40 L177.50 616.40 L177.84 616.40 L178.18 616.40 L178.51 616.40 L178.85 616.40 L179.19 616.40 L179.53 616.40 L179.86 616.40 L180.20 616.40 L180.54 616.40 L180.88 616.40 L181.21 616.40 L181.55 616.40 L181.89 616.40 L182.22 616.40 L182.56 616.40 L182.90 616.40 L183.24 616.40 L183.57 616.40 L183.91 616.40 L184.25 616.40 L184.59 616.40 L184.93 616.40 L185.26 616.40 L185.60 616.40 L185.94 616.40 L186.28 616.40 L186.61 616.40 L186.95 616.40 L187.29 616.40 L187.62 616.40 L187.96 616.40 L188.30 616.40 L188.64 616.40 L188.97 616.40 L189.31 616.40 L189.65 616.40 L189.99 616.40 L190.32 616.40 L190.66 616.40 L191.00 616.40 L191.34 616.40 L191.68 616.40 L192.01 616.40 L192.35 616.40 L192.69 616.40 L193.03 616.40 L193.36 616.40 L193.70 616.40 L194.04 616.40 L194.38 616.40 L194.71 616.40 L195.05 616.40 L195.39 616.40 L195.72 616.40 L196.06 616.40 L196.40 616.40 L196.74 616.40 L197.07 616.40 L197.41 616.40 L197.75 616.40 L198.09 616.40 L198.43 616.40 L198.76 616.40 L199.10 616.40 L199.44 616.40 L199.78 616.40 L200.11 616.40 L200.45 616.40 L200.79 616.40 L201.12 616.40 L201.46 616.40 L201.80 616.40 L202.14 616.40 L202.47 616.40 L202.81 616.40 L203.15 616.40 L203.49 616.40 L203.82 616.40 L204.16 616.40 L204.50 616.40 L204.50 628.40 L204.16 628.40 L203.82 628.40 L203.49 628.40 L203.15 628.40 L202.81 628.40 L202.47 628.40 L202.14 628.40 L201.80 628.40 L201.46 628.40 L201.12 628.40 L200.79 628.40 L200.45 628.40 L200.11 628.40 L199.78 628.40 L199.44 628.40 L199.10 628.40 L198.76 628.40 L198.43 628.40 L198.09 628.40 L197.75 628.40 L197.41 628.40 L197.07 628.40 L196.74 628.40 L196.40 628.40 L196.06 628.40 L195.72 628.40 L195.39 628.40 L195.05 628.40 L194.71 628.40 L194.38 628.40 L194.04 628.40 L193.70 628.40 L193.36 628.40 L193.03 628.40 L192.69 628.40 L192.35 628.40 L192.01 628.40 L191.68 628.40 L191.34 628.40 L191.00 628.40 L190.66 628.40 L190.32 628.40 L189.99 628.40 L189.65 628.40 L189.31 628.40 L188.97 628.40 L188.64 628.40 L188.30 628.40 L187.96 628.40 L187.62 628.40 L187.29 628.40 L186.95 628.40 L186.61 628.40 L186.28 628.40 L185.94 628.40 L185.60 628.40 L185.26 628.40 L184.93 628.40 L184.59 628.40 L184.25 628.40 L183.91 628.40 L183.57 628.40 L183.24 628.40 L182.90 628.40 L182.56 628.40 L182.22 628.40 L181.89 628.40 L181.55 628.40 L181.21 628.40 L180.88 628.40 L180.54 628.40 L180.20 628.40 L179.86 628.40 L179.53 628.40 L179.19 628.40 L178.85 628.40 L178.51 628.40 L178.18 628.40 L177.84 628.40 L177.50 628.40 L177.16 628.40 L176.82 628.40 L176.49 628.40 L176.15 628.40 L175.81 628.40 L175.47 628.40 L175.14 628.40 L174.80 628.40 L174.46 628.40 L174.12 628.40 L173.79 628.40 L173.45 628.40 L173.11 628.40 L172.78 628.40 L172.44 628.40 L172.10 628.40 L171.76 628.40 L171.43 628.40 L171.09 628.40 L170.75 628.40 L170.41 628.40 L170.07 628.40 L169.74 628.40 L169.40 628.40 L169.06 628.40 L168.72 628.40 L168.39 628.40 L168.05 628.40 L167.71 628.40 L167.38 628.40 L167.04 628.40 L166.70 628.40 L166.36 628.40 L166.03 628.40 L165.69 628.40 L165.35 628.40 L165.01 628.40 L164.68 628.40 L164.34 628.40 L164.00 628.40 L163.66 628.40 L163.32 628.40 L162.99 628.40 L162.65 628.40 L162.31 628.40 L161.97 628.40 L161.64 628.40 L161.30 628.40 L160.96 628.40 L160.62 628.40 L160.29 628.40 L159.95 628.40 L159.61 628.40 L159.28 628.40 L158.94 628.40 L158.60 628.40 L158.26 628.40 L157.93 628.40 L157.59 628.40 L157.25 628.40 L156.91 628.40 L156.57 628.40 L156.24 628.40 L155.90 628.40 L155.56 628.40 L155.22 628.40 L154.89 628.40 L154.55 628.40 L154.21 628.40 L153.88 628.40 L153.54 628.40 L153.20 628.40 L152.86 628.40 L152.53 628.40 L152.19 628.40 L151.85 628.40 L151.51 628.40 L151.18 628.40 L150.84 628.40 L150.50 628.40 L150.16 628.40 L149.82 628.40 L149.49 628.40 L149.15 628.40 L148.81 628.40 L148.47 628.40 L148.14 628.40 L147.80 628.40 L147.46 628.40 L147.12 628.40 L146.79 628.40 L146.45 628.40 L146.11 628.40 L145.78 628.40 L145.44 628.40 L145.10 628.40 L144.76 628.40 L144.43 628.40 L144.09 628.40 L143.75 628.40 L143.41 628.40 L143.07 628.40 L142.74 628.40 L142.40 628.40 L142.06 628.40 L141.72 628.40 L141.39 628.40 L141.05 628.40 L140.71 628.40 L140.38 628.40 L140.04 628.40 L139.70 628.40 L139.36 628.40 L139.03 628.40 L138.69 628.40 L138.35 628.40 L138.01 628.40 L137.68 628.40 L137.34 628.40 L137.00 628.40 Z" fill="#fff" stroke="none" stroke-width="0" />
<path d="M142.70 616.70L141.33 618.07L139.97 619.43M137.24 616.70L138.60 618.07L139.97 619.43M148.64 616.70L147.27 618.07L145.91 619.43M145.91 619.43L144.42 620.92L142.94 622.40M139.97 619.43L141.45 620.92L142.94 622.40M142.94 622.40L141.45 623.88L139.97 625.37M137.00 622.40L138.48 623.88L139.97 625.37M154.58 616.70L153.21 618.07L151.85 619.43M149.12 616.70L150.48 618.07L151.85 619.43M145.91 619.43L147.39 620.92L148.88 622.40M148.88 622.40L147.39 623.88L145.91 625.37M145.91 625.37L144.54 626.73L143.18 628.10M139.97 625.37L141.33 626.73L142.70 628.10M160.52 616.70L159.15 618.07L157.79 619.43M157.79 619.43L156.30 620.92L154.82 622.40M151.85 619.43L153.33 620.92L154.82 622.40M154.82 622.40L153.33 623.88L151.85 625.37M148.88 622.40L150.36 623.88L151.85 625.37M145.91 625.37L147.27 626.73L148.64 628.10M166.46 616.70L165.09 618.07L163.73 619.43M161.00 616.70L162.36 618.07L163.73 619.43M157.79 619.43L159.27 620.92L160.76 622.40M160.76 622.40L159.27 623.88L157.79 625.37M157.79 625.37L156.42 626.73L155.06 628.10M151.85 625.37L153.21 626.73L154.58 628.10M172.40 616.70L171.03 618.07L169.67 619.43M169.67 619.43L168.18 620.92L166.70 622.40M163.73 619.43L165.21 620.92L166.70 622.40M166.70 622.40L165.21 623.88L163.73 625.37M160.76 622.40L162.24 623.88L163.73 625.37M157.79 625.37L159.15 626.73L160.52 628.10M178.34 616.70L176.97 618.07L175.61 619.43M172.88 616.70L174.24 618.07L175.61 619.43M169.67 619.43L171.15 620.92L172.64 622.40M172.64 622.40L171.15 623.88L169.67 625.37M169.67 625.37L168.30 626.73L166.94 628.10M163.73 625.37L165.09 626.73L166.46 628.10M184.28 616.70L182.91 618.07L181.55 619.43M181.55 619.43L180.06 620.92L178.58 622.40M175.61 619.43L177.09 620.92L178.58 622.40M178.58 622.40L177.09 623.88L175.61 625.37M172.64 622.40L174.12 623.88L175.61 625.37M169.67 625.37L171.03 626.73L172.40 628.10M190.22 616.70L188.85 618.07L187.49 619.43M184.76 616.70L186.12 618.07L187.49 619.43M181.55 619.43L183.03 620.92L184.52 622.40M184.52 622.40L183.03 623.88L181.55 625.37M181.55 625.37L180.18 626.73L178.82 628.10M175.61 625.37L176.97 626.73L178.34 628.10M196.16 616.70L194.79 618.07L193.43 619.43M193.43 619.43L191.94 620.92L190.46 622.40M187.49 619.43L188.97 620.92L190.46 622.40M190.46 622.40L188.97 623.88L187.49 625.37M184.52 622.40L186.00 623.88L187.49 625.37M181.55 625.37L182.91 626.73L184.28 628.10M202.10 616.70L200.73 618.07L199.37 619.43M196.64 616.70L198.00 618.07L199.37 619.43M193.43 619.43L194.91 620.92L196.40 622.40M196.40 622.40L194.91 623.88L193.43 625.37M193.43 625.37L192.06 626.73L190.70 628.10M187.49 625.37L188.85 626.73L190.22 628.10M204.50 620.24L203.42 621.32L202.34 622.40M199.37 619.43L200.85 620.92L202.34 622.40M202.34 622.40L200.85 623.88L199.37 625.37M196.40 622.40L197.88 623.88L199.37 625.37M193.43 625.37L194.79 626.73L196.16 628.10M204.50 626.18L203.54 627.14L202.58 628.10M199.37 625.37L200.73 626.73L202.10 628.10" fill="none" stroke="#4a4a4a" stroke-width="1.15" />
<path d="M137.00 616.40 L137.34 616.40 L137.68 616.40 L138.01 616.40 L138.35 616.40 L138.69 616.40 L139.03 616.40 L139.36 616.40 L139.70 616.40 L140.04 616.40 L140.38 616.40 L140.71 616.40 L141.05 616.40 L141.39 616.40 L141.72 616.40 L142.06 616.40 L142.40 616.40 L142.74 616.40 L143.07 616.40 L143.41 616.40 L143.75 616.40 L144.09 616.40 L144.43 616.40 L144.76 616.40 L145.10 616.40 L145.44 616.40 L145.78 616.40 L146.11 616.40 L146.45 616.40 L146.79 616.40 L147.12 616.40 L147.46 616.40 L147.80 616.40 L148.14 616.40 L148.47 616.40 L148.81 616.40 L149.15 616.40 L149.49 616.40 L149.82 616.40 L150.16 616.40 L150.50 616.40 L150.84 616.40 L151.18 616.40 L151.51 616.40 L151.85 616.40 L152.19 616.40 L152.53 616.40 L152.86 616.40 L153.20 616.40 L153.54 616.40 L153.88 616.40 L154.21 616.40 L154.55 616.40 L154.89 616.40 L155.22 616.40 L155.56 616.40 L155.90 616.40 L156.24 616.40 L156.57 616.40 L156.91 616.40 L157.25 616.40 L157.59 616.40 L157.93 616.40 L158.26 616.40 L158.60 616.40 L158.94 616.40 L159.28 616.40 L159.61 616.40 L159.95 616.40 L160.29 616.40 L160.62 616.40 L160.96 616.40 L161.30 616.40 L161.64 616.40 L161.97 616.40 L162.31 616.40 L162.65 616.40 L162.99 616.40 L163.32 616.40 L163.66 616.40 L164.00 616.40 L164.34 616.40 L164.68 616.40 L165.01 616.40 L165.35 616.40 L165.69 616.40 L166.03 616.40 L166.36 616.40 L166.70 616.40 L167.04 616.40 L167.38 616.40 L167.71 616.40 L168.05 616.40 L168.39 616.40 L168.72 616.40 L169.06 616.40 L169.40 616.40 L169.74 616.40 L170.07 616.40 L170.41 616.40 L170.75 616.40 L171.09 616.40 L171.43 616.40 L171.76 616.40 L172.10 616.40 L172.44 616.40 L172.78 616.40 L173.11 616.40 L173.45 616.40 L173.79 616.40 L174.12 616.40 L174.46 616.40 L174.80 616.40 L175.14 616.40 L175.47 616.40 L175.81 616.40 L176.15 616.40 L176.49 616.40 L176.82 616.40 L177.16 616.40 L177.50 616.40 L177.84 616.40 L178.18 616.40 L178.51 616.40 L178.85 616.40 L179.19 616.40 L179.53 616.40 L179.86 616.40 L180.20 616.40 L180.54 616.40 L180.88 616.40 L181.21 616.40 L181.55 616.40 L181.89 616.40 L182.22 616.40 L182.56 616.40 L182.90 616.40 L183.24 616.40 L183.57 616.40 L183.91 616.40 L184.25 616.40 L184.59 616.40 L184.93 616.40 L185.26 616.40 L185.60 616.40 L185.94 616.40 L186.28 616.40 L186.61 616.40 L186.95 616.40 L187.29 616.40 L187.62 616.40 L187.96 616.40 L188.30 616.40 L188.64 616.40 L188.97 616.40 L189.31 616.40 L189.65 616.40 L189.99 616.40 L190.32 616.40 L190.66 616.40 L191.00 616.40 L191.34 616.40 L191.68 616.40 L192.01 616.40 L192.35 616.40 L192.69 616.40 L193.03 616.40 L193.36 616.40 L193.70 616.40 L194.04 616.40 L194.38 616.40 L194.71 616.40 L195.05 616.40 L195.39 616.40 L195.72 616.40 L196.06 616.40 L196.40 616.40 L196.74 616.40 L197.07 616.40 L197.41 616.40 L197.75 616.40 L198.09 616.40 L198.43 616.40 L198.76 616.40 L199.10 616.40 L199.44 616.40 L199.78 616.40 L200.11 616.40 L200.45 616.40 L200.79 616.40 L201.12 616.40 L201.46 616.40 L201.80 616.40 L202.14 616.40 L202.47 616.40 L202.81 616.40 L203.15 616.40 L203.49 616.40 L203.82 616.40 L204.16 616.40 L204.50 616.40" fill="none" stroke="#222" stroke-width="1.0" />
<path d="M137.00 628.40 L137.34 628.40 L137.68 628.40 L138.01 628.40 L138.35 628.40 L138.69 628.40 L139.03 628.40 L139.36 628.40 L139.70 628.40 L140.04 628.40 L140.38 628.40 L140.71 628.40 L141.05 628.40 L141.39 628.40 L141.72 628.40 L142.06 628.40 L142.40 628.40 L142.74 628.40 L143.07 628.40 L143.41 628.40 L143.75 628.40 L144.09 628.40 L144.43 628.40 L144.76 628.40 L145.10 628.40 L145.44 628.40 L145.78 628.40 L146.11 628.40 L146.45 628.40 L146.79 628.40 L147.12 628.40 L147.46 628.40 L147.80 628.40 L148.14 628.40 L148.47 628.40 L148.81 628.40 L149.15 628.40 L149.49 628.40 L149.82 628.40 L150.16 628.40 L150.50 628.40 L150.84 628.40 L151.18 628.40 L151.51 628.40 L151.85 628.40 L152.19 628.40 L152.53 628.40 L152.86 628.40 L153.20 628.40 L153.54 628.40 L153.88 628.40 L154.21 628.40 L154.55 628.40 L154.89 628.40 L155.22 628.40 L155.56 628.40 L155.90 628.40 L156.24 628.40 L156.57 628.40 L156.91 628.40 L157.25 628.40 L157.59 628.40 L157.93 628.40 L158.26 628.40 L158.60 628.40 L158.94 628.40 L159.28 628.40 L159.61 628.40 L159.95 628.40 L160.29 628.40 L160.62 628.40 L160.96 628.40 L161.30 628.40 L161.64 628.40 L161.97 628.40 L162.31 628.40 L162.65 628.40 L162.99 628.40 L163.32 628.40 L163.66 628.40 L164.00 628.40 L164.34 628.40 L164.68 628.40 L165.01 628.40 L165.35 628.40 L165.69 628.40 L166.03 628.40 L166.36 628.40 L166.70 628.40 L167.04 628.40 L167.38 628.40 L167.71 628.40 L168.05 628.40 L168.39 628.40 L168.72 628.40 L169.06 628.40 L169.40 628.40 L169.74 628.40 L170.07 628.40 L170.41 628.40 L170.75 628.40 L171.09 628.40 L171.43 628.40 L171.76 628.40 L172.10 628.40 L172.44 628.40 L172.78 628.40 L173.11 628.40 L173.45 628.40 L173.79 628.40 L174.12 628.40 L174.46 628.40 L174.80 628.40 L175.14 628.40 L175.47 628.40 L175.81 628.40 L176.15 628.40 L176.49 628.40 L176.82 628.40 L177.16 628.40 L177.50 628.40 L177.84 628.40 L178.18 628.40 L178.51 628.40 L178.85 628.40 L179.19 628.40 L179.53 628.40 L179.86 628.40 L180.20 628.40 L180.54 628.40 L180.88 628.40 L181.21 628.40 L181.55 628.40 L181.89 628.40 L182.22 628.40 L182.56 628.40 L182.90 628.40 L183.24 628.40 L183.57 628.40 L183.91 628.40 L184.25 628.40 L184.59 628.40 L184.93 628.40 L185.26 628.40 L185.60 628.40 L185.94 628.40 L186.28 628.40 L186.61 628.40 L186.95 628.40 L187.29 628.40 L187.62 628.40 L187.96 628.40 L188.30 628.40 L188.64 628.40 L188.97 628.40 L189.31 628.40 L189.65 628.40 L189.99 628.40 L190.32 628.40 L190.66 628.40 L191.00 628.40 L191.34 628.40 L191.68 628.40 L192.01 628.40 L192.35 628.40 L192.69 628.40 L193.03 628.40 L193.36 628.40 L193.70 628.40 L194.04 628.40 L194.38 628.40 L194.71 628.40 L195.05 628.40 L195.39 628.40 L195.72 628.40 L196.06 628.40 L196.40 628.40 L196.74 628.40 L197.07 628.40 L197.41 628.40 L197.75 628.40 L198.09 628.40 L198.43 628.40 L198.76 628.40 L199.10 628.40 L199.44 628.40 L199.78 628.40 L200.11 628.40 L200.45 628.40 L200.79 628.40 L201.12 628.40 L201.46 628.40 L201.80 628.40 L202.14 628.40 L202.47 628.40 L202.81 628.40 L203.15 628.40 L203.49 628.40 L203.82 628.40 L204.16 628.40 L204.50 628.40" fill="none" stroke="#222" stroke-width="1.0" />
<line x1="137.00" y1="616.40" x2="137.00" y2="628.40" stroke="#222" stroke-width="0.9" />
<line x1="204.50" y1="616.40" x2="204.50" y2="628.40" stroke="#222" stroke-width="0.9" />
<path d="M208.40 616.40 L208.50 616.40 L208.59 616.40 L208.69 616.40 L208.78 616.40 L208.88 616.40 L208.98 616.40 L209.07 616.40 L209.17 616.40 L209.26 616.40 L209.36 616.40 L209.46 616.40 L209.55 616.40 L209.65 616.40 L209.74 616.40 L209.84 616.40 L209.94 616.40 L210.03 616.40 L210.13 616.40 L210.22 616.40 L210.32 616.40 L210.42 616.40 L210.51 616.40 L210.61 616.40 L210.70 616.40 L210.80 616.40 L210.90 616.40 L210.99 616.40 L211.09 616.40 L211.18 616.40 L211.28 616.40 L211.38 616.40 L211.47 616.40 L211.57 616.40 L211.66 616.40 L211.76 616.40 L211.86 616.40 L211.95 616.40 L212.05 616.40 L212.14 616.40 L212.24 616.40 L212.34 616.40 L212.43 616.40 L212.53 616.40 L212.62 616.40 L212.72 616.40 L212.82 616.40 L212.91 616.40 L213.01 616.40 L213.10 616.40 L213.20 616.40 L213.30 616.40 L213.39 616.40 L213.49 616.40 L213.58 616.40 L213.68 616.40 L213.78 616.40 L213.87 616.40 L213.97 616.40 L214.06 616.40 L214.16 616.40 L214.26 616.40 L214.35 616.40 L214.45 616.40 L214.54 616.40 L214.64 616.40 L214.74 616.40 L214.83 616.40 L214.93 616.40 L215.02 616.40 L215.12 616.40 L215.22 616.40 L215.31 616.40 L215.41 616.40 L215.50 616.40 L215.60 616.40 L215.70 616.40 L215.79 616.40 L215.89 616.40 L215.98 616.40 L216.08 616.40 L216.18 616.40 L216.27 616.40 L216.37 616.40 L216.46 616.40 L216.56 616.40 L216.66 616.40 L216.75 616.40 L216.85 616.40 L216.94 616.40 L217.04 616.40 L217.14 616.40 L217.23 616.40 L217.33 616.40 L217.42 616.40 L217.52 616.40 L217.62 616.40 L217.71 616.40 L217.81 616.40 L217.90 616.40 L218.00 616.40 L218.10 616.40 L218.19 616.40 L218.29 616.40 L218.38 616.40 L218.48 616.40 L218.58 616.40 L218.67 616.40 L218.77 616.40 L218.86 616.40 L218.96 616.40 L219.06 616.40 L219.15 616.40 L219.25 616.40 L219.34 616.40 L219.44 616.40 L219.54 616.40 L219.63 616.40 L219.73 616.40 L219.82 616.40 L219.92 616.40 L220.02 616.40 L220.11 616.40 L220.21 616.40 L220.30 616.40 L220.40 616.40 L220.50 616.40 L220.59 616.40 L220.69 616.40 L220.78 616.40 L220.88 616.40 L220.98 616.40 L221.07 616.40 L221.17 616.40 L221.26 616.40 L221.36 616.40 L221.46 616.40 L221.55 616.40 L221.65 616.40 L221.74 616.40 L221.84 616.40 L221.94 616.40 L222.03 616.40 L222.13 616.40 L222.22 616.40 L222.32 616.40 L222.42 616.40 L222.51 616.40 L222.61 616.40 L222.70 616.40 L222.80 616.40 L222.90 616.40 L222.99 616.40 L223.09 616.40 L223.18 616.40 L223.28 616.40 L223.38 616.40 L223.47 616.40 L223.57 616.40 L223.66 616.40 L223.76 616.40 L223.86 616.40 L223.95 616.40 L224.05 616.40 L224.14 616.40 L224.24 616.40 L224.34 616.40 L224.43 616.40 L224.53 616.40 L224.62 616.40 L224.72 616.40 L224.82 616.40 L224.91 616.40 L225.01 616.40 L225.10 616.40 L225.20 616.40 L225.30 616.40 L225.39 616.40 L225.49 616.40 L225.58 616.40 L225.68 616.40 L225.78 616.40 L225.87 616.40 L225.97 616.40 L226.06 616.40 L226.16 616.40 L226.26 616.40 L226.35 616.40 L226.45 616.40 L226.54 616.40 L226.64 616.40 L226.74 616.40 L226.83 616.40 L226.93 616.40 L227.02 616.40 L227.12 616.40 L227.22 616.40 L227.31 616.40 L227.41 616.40 L227.50 616.40 L227.60 616.40 L227.60 628.40 L227.50 628.40 L227.41 628.40 L227.31 628.40 L227.22 628.40 L227.12 628.40 L227.02 628.40 L226.93 628.40 L226.83 628.40 L226.74 628.40 L226.64 628.40 L226.54 628.40 L226.45 628.40 L226.35 628.40 L226.26 628.40 L226.16 628.40 L226.06 628.40 L225.97 628.40 L225.87 628.40 L225.78 628.40 L225.68 628.40 L225.58 628.40 L225.49 628.40 L225.39 628.40 L225.30 628.40 L225.20 628.40 L225.10 628.40 L225.01 628.40 L224.91 628.40 L224.82 628.40 L224.72 628.40 L224.62 628.40 L224.53 628.40 L224.43 628.40 L224.34 628.40 L224.24 628.40 L224.14 628.40 L224.05 628.40 L223.95 628.40 L223.86 628.40 L223.76 628.40 L223.66 628.40 L223.57 628.40 L223.47 628.40 L223.38 628.40 L223.28 628.40 L223.18 628.40 L223.09 628.40 L222.99 628.40 L222.90 628.40 L222.80 628.40 L222.70 628.40 L222.61 628.40 L222.51 628.40 L222.42 628.40 L222.32 628.40 L222.22 628.40 L222.13 628.40 L222.03 628.40 L221.94 628.40 L221.84 628.40 L221.74 628.40 L221.65 628.40 L221.55 628.40 L221.46 628.40 L221.36 628.40 L221.26 628.40 L221.17 628.40 L221.07 628.40 L220.98 628.40 L220.88 628.40 L220.78 628.40 L220.69 628.40 L220.59 628.40 L220.50 628.40 L220.40 628.40 L220.30 628.40 L220.21 628.40 L220.11 628.40 L220.02 628.40 L219.92 628.40 L219.82 628.40 L219.73 628.40 L219.63 628.40 L219.54 628.40 L219.44 628.40 L219.34 628.40 L219.25 628.40 L219.15 628.40 L219.06 628.40 L218.96 628.40 L218.86 628.40 L218.77 628.40 L218.67 628.40 L218.58 628.40 L218.48 628.40 L218.38 628.40 L218.29 628.40 L218.19 628.40 L218.10 628.40 L218.00 628.40 L217.90 628.40 L217.81 628.40 L217.71 628.40 L217.62 628.40 L217.52 628.40 L217.42 628.40 L217.33 628.40 L217.23 628.40 L217.14 628.40 L217.04 628.40 L216.94 628.40 L216.85 628.40 L216.75 628.40 L216.66 628.40 L216.56 628.40 L216.46 628.40 L216.37 628.40 L216.27 628.40 L216.18 628.40 L216.08 628.40 L215.98 628.40 L215.89 628.40 L215.79 628.40 L215.70 628.40 L215.60 628.40 L215.50 628.40 L215.41 628.40 L215.31 628.40 L215.22 628.40 L215.12 628.40 L215.02 628.40 L214.93 628.40 L214.83 628.40 L214.74 628.40 L214.64 628.40 L214.54 628.40 L214.45 628.40 L214.35 628.40 L214.26 628.40 L214.16 628.40 L214.06 628.40 L213.97 628.40 L213.87 628.40 L213.78 628.40 L213.68 628.40 L213.58 628.40 L213.49 628.40 L213.39 628.40 L213.30 628.40 L213.20 628.40 L213.10 628.40 L213.01 628.40 L212.91 628.40 L212.82 628.40 L212.72 628.40 L212.62 628.40 L212.53 628.40 L212.43 628.40 L212.34 628.40 L212.24 628.40 L212.14 628.40 L212.05 628.40 L211.95 628.40 L211.86 628.40 L211.76 628.40 L211.66 628.40 L211.57 628.40 L211.47 628.40 L211.38 628.40 L211.28 628.40 L211.18 628.40 L211.09 628.40 L210.99 628.40 L210.90 628.40 L210.80 628.40 L210.70 628.40 L210.61 628.40 L210.51 628.40 L210.42 628.40 L210.32 628.40 L210.22 628.40 L210.13 628.40 L210.03 628.40 L209.94 628.40 L209.84 628.40 L209.74 628.40 L209.65 628.40 L209.55 628.40 L209.46 628.40 L209.36 628.40 L209.26 628.40 L209.17 628.40 L209.07 628.40 L208.98 628.40 L208.88 628.40 L208.78 628.40 L208.69 628.40 L208.59 628.40 L208.50 628.40 L208.40 628.40 Z" fill="#fff" stroke="none" stroke-width="0" />
<path d="M214.10 616.70L212.73 618.07L211.37 619.43M208.64 616.70L210.00 618.07L211.37 619.43M220.04 616.70L218.67 618.07L217.31 619.43M217.31 619.43L215.82 620.92L214.34 622.40M211.37 619.43L212.85 620.92L214.34 622.40M214.34 622.40L212.85 623.88L211.37 625.37M208.40 622.40L209.88 623.88L211.37 625.37M225.98 616.70L224.61 618.07L223.25 619.43M220.52 616.70L221.88 618.07L223.25 619.43M217.31 619.43L218.79 620.92L220.28 622.40M220.28 622.40L218.79 623.88L217.31 625.37M217.31 625.37L215.94 626.73L214.58 628.10M211.37 625.37L212.73 626.73L214.10 628.10M227.60 621.02L226.91 621.71L226.22 622.40M223.25 619.43L224.73 620.92L226.22 622.40M226.22 622.40L224.73 623.88L223.25 625.37M220.28 622.40L221.76 623.88L223.25 625.37M217.31 625.37L218.67 626.73L220.04 628.10M227.60 626.96L227.03 627.53L226.46 628.10M223.25 625.37L224.61 626.73L225.98 628.10" fill="none" stroke="#4a4a4a" stroke-width="1.15" />
<path d="M208.40 616.40 L208.50 616.40 L208.59 616.40 L208.69 616.40 L208.78 616.40 L208.88 616.40 L208.98 616.40 L209.07 616.40 L209.17 616.40 L209.26 616.40 L209.36 616.40 L209.46 616.40 L209.55 616.40 L209.65 616.40 L209.74 616.40 L209.84 616.40 L209.94 616.40 L210.03 616.40 L210.13 616.40 L210.22 616.40 L210.32 616.40 L210.42 616.40 L210.51 616.40 L210.61 616.40 L210.70 616.40 L210.80 616.40 L210.90 616.40 L210.99 616.40 L211.09 616.40 L211.18 616.40 L211.28 616.40 L211.38 616.40 L211.47 616.40 L211.57 616.40 L211.66 616.40 L211.76 616.40 L211.86 616.40 L211.95 616.40 L212.05 616.40 L212.14 616.40 L212.24 616.40 L212.34 616.40 L212.43 616.40 L212.53 616.40 L212.62 616.40 L212.72 616.40 L212.82 616.40 L212.91 616.40 L213.01 616.40 L213.10 616.40 L213.20 616.40 L213.30 616.40 L213.39 616.40 L213.49 616.40 L213.58 616.40 L213.68 616.40 L213.78 616.40 L213.87 616.40 L213.97 616.40 L214.06 616.40 L214.16 616.40 L214.26 616.40 L214.35 616.40 L214.45 616.40 L214.54 616.40 L214.64 616.40 L214.74 616.40 L214.83 616.40 L214.93 616.40 L215.02 616.40 L215.12 616.40 L215.22 616.40 L215.31 616.40 L215.41 616.40 L215.50 616.40 L215.60 616.40 L215.70 616.40 L215.79 616.40 L215.89 616.40 L215.98 616.40 L216.08 616.40 L216.18 616.40 L216.27 616.40 L216.37 616.40 L216.46 616.40 L216.56 616.40 L216.66 616.40 L216.75 616.40 L216.85 616.40 L216.94 616.40 L217.04 616.40 L217.14 616.40 L217.23 616.40 L217.33 616.40 L217.42 616.40 L217.52 616.40 L217.62 616.40 L217.71 616.40 L217.81 616.40 L217.90 616.40 L218.00 616.40 L218.10 616.40 L218.19 616.40 L218.29 616.40 L218.38 616.40 L218.48 616.40 L218.58 616.40 L218.67 616.40 L218.77 616.40 L218.86 616.40 L218.96 616.40 L219.06 616.40 L219.15 616.40 L219.25 616.40 L219.34 616.40 L219.44 616.40 L219.54 616.40 L219.63 616.40 L219.73 616.40 L219.82 616.40 L219.92 616.40 L220.02 616.40 L220.11 616.40 L220.21 616.40 L220.30 616.40 L220.40 616.40 L220.50 616.40 L220.59 616.40 L220.69 616.40 L220.78 616.40 L220.88 616.40 L220.98 616.40 L221.07 616.40 L221.17 616.40 L221.26 616.40 L221.36 616.40 L221.46 616.40 L221.55 616.40 L221.65 616.40 L221.74 616.40 L221.84 616.40 L221.94 616.40 L222.03 616.40 L222.13 616.40 L222.22 616.40 L222.32 616.40 L222.42 616.40 L222.51 616.40 L222.61 616.40 L222.70 616.40 L222.80 616.40 L222.90 616.40 L222.99 616.40 L223.09 616.40 L223.18 616.40 L223.28 616.40 L223.38 616.40 L223.47 616.40 L223.57 616.40 L223.66 616.40 L223.76 616.40 L223.86 616.40 L223.95 616.40 L224.05 616.40 L224.14 616.40 L224.24 616.40 L224.34 616.40 L224.43 616.40 L224.53 616.40 L224.62 616.40 L224.72 616.40 L224.82 616.40 L224.91 616.40 L225.01 616.40 L225.10 616.40 L225.20 616.40 L225.30 616.40 L225.39 616.40 L225.49 616.40 L225.58 616.40 L225.68 616.40 L225.78 616.40 L225.87 616.40 L225.97 616.40 L226.06 616.40 L226.16 616.40 L226.26 616.40 L226.35 616.40 L226.45 616.40 L226.54 616.40 L226.64 616.40 L226.74 616.40 L226.83 616.40 L226.93 616.40 L227.02 616.40 L227.12 616.40 L227.22 616.40 L227.31 616.40 L227.41 616.40 L227.50 616.40 L227.60 616.40" fill="none" stroke="#222" stroke-width="1.0" />
<path d="M208.40 628.40 L208.50 628.40 L208.59 628.40 L208.69 628.40 L208.78 628.40 L208.88 628.40 L208.98 628.40 L209.07 628.40 L209.17 628.40 L209.26 628.40 L209.36 628.40 L209.46 628.40 L209.55 628.40 L209.65 628.40 L209.74 628.40 L209.84 628.40 L209.94 628.40 L210.03 628.40 L210.13 628.40 L210.22 628.40 L210.32 628.40 L210.42 628.40 L210.51 628.40 L210.61 628.40 L210.70 628.40 L210.80 628.40 L210.90 628.40 L210.99 628.40 L211.09 628.40 L211.18 628.40 L211.28 628.40 L211.38 628.40 L211.47 628.40 L211.57 628.40 L211.66 628.40 L211.76 628.40 L211.86 628.40 L211.95 628.40 L212.05 628.40 L212.14 628.40 L212.24 628.40 L212.34 628.40 L212.43 628.40 L212.53 628.40 L212.62 628.40 L212.72 628.40 L212.82 628.40 L212.91 628.40 L213.01 628.40 L213.10 628.40 L213.20 628.40 L213.30 628.40 L213.39 628.40 L213.49 628.40 L213.58 628.40 L213.68 628.40 L213.78 628.40 L213.87 628.40 L213.97 628.40 L214.06 628.40 L214.16 628.40 L214.26 628.40 L214.35 628.40 L214.45 628.40 L214.54 628.40 L214.64 628.40 L214.74 628.40 L214.83 628.40 L214.93 628.40 L215.02 628.40 L215.12 628.40 L215.22 628.40 L215.31 628.40 L215.41 628.40 L215.50 628.40 L215.60 628.40 L215.70 628.40 L215.79 628.40 L215.89 628.40 L215.98 628.40 L216.08 628.40 L216.18 628.40 L216.27 628.40 L216.37 628.40 L216.46 628.40 L216.56 628.40 L216.66 628.40 L216.75 628.40 L216.85 628.40 L216.94 628.40 L217.04 628.40 L217.14 628.40 L217.23 628.40 L217.33 628.40 L217.42 628.40 L217.52 628.40 L217.62 628.40 L217.71 628.40 L217.81 628.40 L217.90 628.40 L218.00 628.40 L218.10 628.40 L218.19 628.40 L218.29 628.40 L218.38 628.40 L218.48 628.40 L218.58 628.40 L218.67 628.40 L218.77 628.40 L218.86 628.40 L218.96 628.40 L219.06 628.40 L219.15 628.40 L219.25 628.40 L219.34 628.40 L219.44 628.40 L219.54 628.40 L219.63 628.40 L219.73 628.40 L219.82 628.40 L219.92 628.40 L220.02 628.40 L220.11 628.40 L220.21 628.40 L220.30 628.40 L220.40 628.40 L220.50 628.40 L220.59 628.40 L220.69 628.40 L220.78 628.40 L220.88 628.40 L220.98 628.40 L221.07 628.40 L221.17 628.40 L221.26 628.40 L221.36 628.40 L221.46 628.40 L221.55 628.40 L221.65 628.40 L221.74 628.40 L221.84 628.40 L221.94 628.40 L222.03 628.40 L222.13 628.40 L222.22 628.40 L222.32 628.40 L222.42 628.40 L222.51 628.40 L222.61 628.40 L222.70 628.40 L222.80 628.40 L222.90 628.40 L222.99 628.40 L223.09 628.40 L223.18 628.40 L223.28 628.40 L223.38 628.40 L223.47 628.40 L223.57 628.40 L223.66 628.40 L223.76 628.40 L223.86 628.40 L223.95 628.40 L224.05 628.40 L224.14 628.40 L224.24 628.40 L224.34 628.40 L224.43 628.40 L224.53 628.40 L224.62 628.40 L224.72 628.40 L224.82 628.40 L224.91 628.40 L225.01 628.40 L225.10 628.40 L225.20 628.40 L225.30 628.40 L225.39 628.40 L225.49 628.40 L225.58 628.40 L225.68 628.40 L225.78 628.40 L225.87 628.40 L225.97 628.40 L226.06 628.40 L226.16 628.40 L226.26 628.40 L226.35 628.40 L226.45 628.40 L226.54 628.40 L226.64 628.40 L226.74 628.40 L226.83 628.40 L226.93 628.40 L227.02 628.40 L227.12 628.40 L227.22 628.40 L227.31 628.40 L227.41 628.40 L227.50 628.40 L227.60 628.40" fill="none" stroke="#222" stroke-width="1.0" />
<line x1="208.40" y1="616.40" x2="208.40" y2="628.40" stroke="#222" stroke-width="0.9" />
<line x1="227.60" y1="616.40" x2="227.60" y2="628.40" stroke="#222" stroke-width="0.9" />
<path d="M112 144.5 C124.8 129 140.1 116.4 157.75 106.7 L166 116 C154.75 132.7 140 145.2 121.75 153.5 Z" fill="#fff" stroke="#222" stroke-width="0.9" />
<line x1="159.00" y1="105.80" x2="167.20" y2="115.10" stroke="#222" stroke-width="0.8" />
<path d="M157.75 106.7 L178.75 94.25" fill="none" stroke="#222" stroke-width="0.9" />
<path d="M166 116 L175 109.25 L179.6 107.9" fill="none" stroke="#222" stroke-width="0.9" />
<path d="M178.75 94.25 C181 91 183 90 185.5 89.3 C188 88.2 191 87.8 193.5 88.3 C197 89 199.5 90.8 202 92.75 C205 95.2 208.5 97.8 211.75 98.75 C212 103 208 108 203 112.5 C198 117 192 120 186.25 120.5 C185 117.5 184 116 183.25 114.5 C181 110 179.8 107.5 179.5 105 C178.7 101 178.6 97.5 178.75 94.25 Z" fill="#fff" stroke="#222" stroke-width="0.9" />
<path d="M211.75 98.75 C212 103 208 108 203 112.5 C198 117 192 120 186.25 120.5 C195 117.5 205 109.5 211.75 98.75 Z" fill="#8a8a8a" stroke="#222" stroke-width="0.8" />
<path d="M211.2 101.5 C206 109.5 197.5 116.5 189.5 119.7" fill="none" stroke="#333" stroke-width="0.7" />
<path d="M211.6 103.5 C206.5 111 198.5 117.6 191.5 119.9" fill="none" stroke="#333" stroke-width="0.7" />
<line x1="113.00" y1="143.40" x2="122.90" y2="152.50" stroke="#222" stroke-width="0.8" />
<path d="M105.00 151.00 L109.60 147.20 L115.80 155.20 L111.20 159.40 Z" fill="#fff" stroke="#222" stroke-width="0.8" />
<line x1="110.30" y1="146.20" x2="118.40" y2="154.60" stroke="#222" stroke-width="0.8" />
<line x1="111.20" y1="145.20" x2="119.60" y2="153.80" stroke="#222" stroke-width="0.6" />
<path d="M101.00 153.75 L105.00 151.00 L111.20 159.40 L107.75 162.75 Z" fill="#333" stroke="#222" stroke-width="0.8" />
<line x1="93.70" y1="158.80" x2="101.60" y2="169.00" stroke="#111" stroke-width="1.9" />
<path d="M78.5 184.1 L78.5 174 C78.5 168 82 164.5 88 162.8 L96 175.1 L93.1 176.3 C92 177.3 91.4 178.5 91.4 179.8 L91.4 184.1 Z" fill="#fff" stroke="#222" stroke-width="0.9" />
<rect x="78.00" y="184.10" width="14.00" height="1.10" rx="0" fill="#fff" stroke="#222" stroke-width="0.7"/>
<rect x="79.20" y="185.40" width="11.80" height="5.80" rx="0" fill="#777" stroke="#222" stroke-width="0.7"/>
<line x1="79.20" y1="186.80" x2="91.00" y2="186.80" stroke="#333" stroke-width="0.7" />
<line x1="79.20" y1="188.30" x2="91.00" y2="188.30" stroke="#333" stroke-width="0.7" />
<line x1="79.20" y1="189.80" x2="91.00" y2="189.80" stroke="#333" stroke-width="0.7" />
<line x1="78.80" y1="203.00" x2="91.30" y2="203.00" stroke="#111" stroke-width="1.8" />
<path d="M77.30 224.80 L93.70 224.80 L92.40 241.40 L79.20 241.40 Z" fill="#fff" stroke="#222" stroke-width="0.9" />
<clipPath id="tw241"><rect x="80.2" y="241.3" width="10.399999999999991" height="21.19999999999999"/></clipPath>
<g clip-path="url(#tw241)">
<rect x="80.20" y="241.30" width="10.40" height="21.20" rx="0" fill="#fff" stroke="#222" stroke-width="0"/>
<line x1="80.20" y1="229.30" x2="90.60" y2="238.14" stroke="#333" stroke-width="1.25" />
<line x1="80.20" y1="232.15" x2="90.60" y2="240.99" stroke="#555" stroke-width="0.8" />
<line x1="80.20" y1="235.00" x2="90.60" y2="243.84" stroke="#333" stroke-width="1.25" />
<line x1="80.20" y1="237.85" x2="90.60" y2="246.69" stroke="#555" stroke-width="0.8" />
<line x1="80.20" y1="240.70" x2="90.60" y2="249.54" stroke="#333" stroke-width="1.25" />
<line x1="80.20" y1="243.55" x2="90.60" y2="252.39" stroke="#555" stroke-width="0.8" />
<line x1="80.20" y1="246.40" x2="90.60" y2="255.24" stroke="#333" stroke-width="1.25" />
<line x1="80.20" y1="249.25" x2="90.60" y2="258.09" stroke="#555" stroke-width="0.8" />
<line x1="80.20" y1="252.10" x2="90.60" y2="260.94" stroke="#333" stroke-width="1.25" />
<line x1="80.20" y1="254.95" x2="90.60" y2="263.79" stroke="#555" stroke-width="0.8" />
<line x1="80.20" y1="257.80" x2="90.60" y2="266.64" stroke="#333" stroke-width="1.25" />
<line x1="80.20" y1="260.65" x2="90.60" y2="269.49" stroke="#555" stroke-width="0.8" />
<line x1="80.20" y1="263.50" x2="90.60" y2="272.34" stroke="#333" stroke-width="1.25" />
<line x1="80.20" y1="266.35" x2="90.60" y2="275.19" stroke="#555" stroke-width="0.8" />
</g>
<line x1="80.20" y1="241.30" x2="80.20" y2="262.50" stroke="#222" stroke-width="0.9" />
<line x1="90.60" y1="241.30" x2="90.60" y2="262.50" stroke="#222" stroke-width="0.9" />
<path d="M68.80 265.80 L101.30 265.80 L107.50 280.80 L63.00 280.80 Z" fill="#fff" stroke="#222" stroke-width="0.9" />
<rect x="79.60" y="280.80" width="11.00" height="27.50" rx="0" fill="#fff" stroke="#222" stroke-width="0.9"/>
<line x1="79.60" y1="282.50" x2="90.60" y2="282.50" stroke="#444" stroke-width="0.8" />
<line x1="79.60" y1="285.50" x2="90.60" y2="285.50" stroke="#444" stroke-width="0.8" />
<line x1="79.60" y1="287.50" x2="90.60" y2="287.50" stroke="#444" stroke-width="0.8" />
<line x1="79.60" y1="289.50" x2="90.60" y2="289.50" stroke="#444" stroke-width="0.8" />
<line x1="79.60" y1="291.50" x2="90.60" y2="291.50" stroke="#444" stroke-width="0.8" />
<line x1="79.60" y1="293.50" x2="90.60" y2="293.50" stroke="#444" stroke-width="0.8" />
<line x1="79.60" y1="295.50" x2="90.60" y2="295.50" stroke="#444" stroke-width="0.8" />
<line x1="79.60" y1="297.50" x2="90.60" y2="297.50" stroke="#444" stroke-width="0.8" />
<line x1="79.60" y1="299.50" x2="90.60" y2="299.50" stroke="#444" stroke-width="0.8" />
<line x1="79.60" y1="301.50" x2="90.60" y2="301.50" stroke="#444" stroke-width="0.8" />
<line x1="79.60" y1="304.50" x2="90.60" y2="304.50" stroke="#444" stroke-width="0.8" />
<line x1="79.60" y1="306.50" x2="90.60" y2="306.50" stroke="#444" stroke-width="0.8" />
<rect x="74.30" y="293.00" width="22.00" height="3.30" rx="0" fill="#fff" stroke="#222" stroke-width="0.9"/>
<clipPath id="tw332"><rect x="80.2" y="332.2" width="10.0" height="34.0"/></clipPath>
<g clip-path="url(#tw332)">
<rect x="80.20" y="332.20" width="10.00" height="34.00" rx="0" fill="#fff" stroke="#222" stroke-width="0"/>
<line x1="80.20" y1="320.20" x2="90.20" y2="328.70" stroke="#333" stroke-width="1.25" />
<line x1="80.20" y1="323.05" x2="90.20" y2="331.55" stroke="#555" stroke-width="0.8" />
<line x1="80.20" y1="325.90" x2="90.20" y2="334.40" stroke="#333" stroke-width="1.25" />
<line x1="80.20" y1="328.75" x2="90.20" y2="337.25" stroke="#555" stroke-width="0.8" />
<line x1="80.20" y1="331.60" x2="90.20" y2="340.10" stroke="#333" stroke-width="1.25" />
<line x1="80.20" y1="334.45" x2="90.20" y2="342.95" stroke="#555" stroke-width="0.8" />
<line x1="80.20" y1="337.30" x2="90.20" y2="345.80" stroke="#333" stroke-width="1.25" />
<line x1="80.20" y1="340.15" x2="90.20" y2="348.65" stroke="#555" stroke-width="0.8" />
<line x1="80.20" y1="343.00" x2="90.20" y2="351.50" stroke="#333" stroke-width="1.25" />
<line x1="80.20" y1="345.85" x2="90.20" y2="354.35" stroke="#555" stroke-width="0.8" />
<line x1="80.20" y1="348.70" x2="90.20" y2="357.20" stroke="#333" stroke-width="1.25" />
<line x1="80.20" y1="351.55" x2="90.20" y2="360.05" stroke="#555" stroke-width="0.8" />
<line x1="80.20" y1="354.40" x2="90.20" y2="362.90" stroke="#333" stroke-width="1.25" />
<line x1="80.20" y1="357.25" x2="90.20" y2="365.75" stroke="#555" stroke-width="0.8" />
<line x1="80.20" y1="360.10" x2="90.20" y2="368.60" stroke="#333" stroke-width="1.25" />
<line x1="80.20" y1="362.95" x2="90.20" y2="371.45" stroke="#555" stroke-width="0.8" />
<line x1="80.20" y1="365.80" x2="90.20" y2="374.30" stroke="#333" stroke-width="1.25" />
<line x1="80.20" y1="368.65" x2="90.20" y2="377.15" stroke="#555" stroke-width="0.8" />
</g>
<line x1="80.20" y1="332.20" x2="80.20" y2="366.20" stroke="#222" stroke-width="0.9" />
<line x1="90.20" y1="332.20" x2="90.20" y2="366.20" stroke="#222" stroke-width="0.9" />
<rect x="77.40" y="365.90" width="16.00" height="8.30" rx="1.8" fill="#111" stroke="#222" stroke-width="0.9"/>
<line x1="80.40" y1="399.40" x2="91.00" y2="399.40" stroke="#111" stroke-width="1.8" />
<rect x="79.60" y="413.60" width="12.60" height="9.10" rx="0" fill="#ccc" stroke="#222" stroke-width="0.9"/>
<line x1="79.60" y1="415.50" x2="92.20" y2="415.50" stroke="#444" stroke-width="0.95" />
<line x1="79.60" y1="417.50" x2="92.20" y2="417.50" stroke="#444" stroke-width="0.95" />
<line x1="79.60" y1="419.50" x2="92.20" y2="419.50" stroke="#444" stroke-width="0.95" />
<line x1="79.60" y1="420.50" x2="92.20" y2="420.50" stroke="#444" stroke-width="0.95" />
<path d="M77.00 422.70 L94.00 422.70 L95.20 423.90 L95.20 426.60 L94.00 427.80 L77.00 427.80 L75.80 426.60 L75.80 423.90 Z" fill="#fff" stroke="#222" stroke-width="0.9" />
<line x1="81.04" y1="422.70" x2="81.04" y2="427.80" stroke="#222" stroke-width="0.7" />
<line x1="89.96" y1="422.70" x2="89.96" y2="427.80" stroke="#222" stroke-width="0.7" />
<path d="M197.00 423.00 L213.80 423.00 L215.00 424.20 L215.00 431.40 L213.80 432.60 L197.00 432.60 L195.80 431.40 L195.80 424.20 Z" fill="#fff" stroke="#222" stroke-width="0.9" />
<line x1="200.98" y1="423.00" x2="200.98" y2="432.60" stroke="#222" stroke-width="0.7" />
<line x1="209.82" y1="423.00" x2="209.82" y2="432.60" stroke="#222" stroke-width="0.7" />
<g transform="rotate(-41.9 89 463.1)">
<rect x="76.80" y="459.70" width="24.40" height="6.80" rx="3.4" fill="#fff" stroke="#222" stroke-width="0.9"/>
<circle cx="80.30" cy="463.10" r="1.60" fill="#fff" stroke="#222" stroke-width="0.8"/>
<circle cx="97.70" cy="463.10" r="1.60" fill="#fff" stroke="#222" stroke-width="0.8"/>
</g>
<rect x="203.00" y="195.00" width="3.80" height="16.50" rx="0" fill="#fff" stroke="#222" stroke-width="0.8"/>
<circle cx="204.60" cy="190.00" r="5.40" fill="#fff" stroke="#222" stroke-width="0.9"/>
<path d="M188 286.3 L187.5 255 C187.5 227 214 192.3 235 178.75 C250.1 169 272 163.6 292 163.6 C318 163.6 348 174 365 191.6 L342.5 205 C332 194 316 188 298 188 C272 188.5 250 201 236 221 C227 234 222.8 244 222.6 256 L222.5 286.3 Z" fill="#fff" stroke="#222" stroke-width="0.9" />
<g transform="rotate(-30.3 353.8 198.3)">
<rect x="340.60" y="196.50" width="26.40" height="3.70" rx="1.3" fill="#fff" stroke="#222" stroke-width="0.9"/>
<rect x="345.20" y="200.20" width="17.60" height="5.00" rx="1" fill="#fff" stroke="#222" stroke-width="0.9"/>
</g>
<path d="M186.40 286.30 L224.40 286.30 L226.60 290.60 L226.60 292.00 L184.20 292.00 L184.20 290.60 Z" fill="#fff" stroke="#222" stroke-width="0.9" />
<line x1="184.60" y1="290.40" x2="226.20" y2="290.40" stroke="#222" stroke-width="0.7" />
<rect x="187.50" y="292.00" width="2.50" height="1.20" rx="0" fill="#fff" stroke="#222" stroke-width="0.6"/>
<rect x="220.80" y="292.00" width="2.50" height="1.20" rx="0" fill="#fff" stroke="#222" stroke-width="0.6"/>
<rect x="196.60" y="292.30" width="17.80" height="37.30" rx="0" fill="#fff" stroke="#222" stroke-width="0.9"/>
<line x1="196.60" y1="294.50" x2="214.40" y2="294.50" stroke="#444" stroke-width="0.75" />
<line x1="196.60" y1="296.50" x2="214.40" y2="296.50" stroke="#444" stroke-width="0.75" />
<line x1="196.60" y1="298.50" x2="214.40" y2="298.50" stroke="#444" stroke-width="0.75" />
<line x1="196.60" y1="301.50" x2="214.40" y2="301.50" stroke="#444" stroke-width="0.75" />
<line x1="196.60" y1="303.50" x2="214.40" y2="303.50" stroke="#444" stroke-width="0.75" />
<line x1="196.60" y1="305.50" x2="214.40" y2="305.50" stroke="#444" stroke-width="0.75" />
<line x1="196.60" y1="307.50" x2="214.40" y2="307.50" stroke="#444" stroke-width="0.75" />
<line x1="196.60" y1="309.50" x2="214.40" y2="309.50" stroke="#444" stroke-width="0.75" />
<line x1="196.60" y1="312.50" x2="214.40" y2="312.50" stroke="#444" stroke-width="0.75" />
<line x1="196.60" y1="314.50" x2="214.40" y2="314.50" stroke="#444" stroke-width="0.75" />
<line x1="196.60" y1="316.50" x2="214.40" y2="316.50" stroke="#444" stroke-width="0.75" />
<line x1="196.60" y1="318.50" x2="214.40" y2="318.50" stroke="#444" stroke-width="0.75" />
<line x1="196.60" y1="320.50" x2="214.40" y2="320.50" stroke="#444" stroke-width="0.75" />
<line x1="196.60" y1="323.50" x2="214.40" y2="323.50" stroke="#444" stroke-width="0.75" />
<line x1="196.60" y1="325.50" x2="214.40" y2="325.50" stroke="#444" stroke-width="0.75" />
<line x1="196.60" y1="327.50" x2="214.40" y2="327.50" stroke="#444" stroke-width="0.75" />
<rect x="188.60" y="301.60" width="32.70" height="1.50" rx="0" fill="#fff" stroke="#222" stroke-width="0.7"/>
<rect x="188.60" y="303.10" width="32.70" height="1.90" rx="0" fill="#222" stroke="#222" stroke-width="0.7"/>
<rect x="196.60" y="301.20" width="17.80" height="4.00" rx="0" fill="#bbb" stroke="#222" stroke-width="0.5"/>
<line x1="196.60" y1="302.30" x2="214.40" y2="302.30" stroke="#333" stroke-width="0.6" />
<line x1="196.60" y1="303.60" x2="214.40" y2="303.60" stroke="#333" stroke-width="0.6" />
<line x1="196.60" y1="304.60" x2="214.40" y2="304.60" stroke="#333" stroke-width="0.6" />
<rect x="194.30" y="307.20" width="22.50" height="3.40" rx="0" fill="#fff" stroke="#222" stroke-width="0.9"/>
<rect x="195.40" y="328.60" width="20.20" height="3.60" rx="0" fill="#fff" stroke="#222" stroke-width="0.9"/>
<line x1="201.00" y1="328.60" x2="201.00" y2="332.20" stroke="#222" stroke-width="0.6" />
<line x1="210.00" y1="328.60" x2="210.00" y2="332.20" stroke="#222" stroke-width="0.6" />
<path d="M187 332.2 L221.8 332.2 L225.7 335.6 L225.7 349.4 L221.8 352.6 L187 352.6 L185 350.6 L185 334.2 Z" fill="#fff" stroke="#222" stroke-width="0.9" />
<line x1="221.80" y1="332.20" x2="221.80" y2="352.60" stroke="#222" stroke-width="0.6" />
<line x1="187.00" y1="332.20" x2="187.00" y2="352.60" stroke="#222" stroke-width="0.6" />
<rect x="170.40" y="335.30" width="14.60" height="13.50" rx="0" fill="#fff" stroke="#222" stroke-width="0.9"/>
<line x1="172.50" y1="335.30" x2="172.50" y2="348.80" stroke="#444" stroke-width="0.8" />
<line x1="174.50" y1="335.30" x2="174.50" y2="348.80" stroke="#444" stroke-width="0.8" />
<line x1="176.50" y1="335.30" x2="176.50" y2="348.80" stroke="#444" stroke-width="0.8" />
<line x1="178.50" y1="335.30" x2="178.50" y2="348.80" stroke="#444" stroke-width="0.8" />
<line x1="180.50" y1="335.30" x2="180.50" y2="348.80" stroke="#444" stroke-width="0.8" />
<line x1="182.50" y1="335.30" x2="182.50" y2="348.80" stroke="#444" stroke-width="0.8" />
<rect x="225.70" y="336.80" width="2.50" height="11.20" rx="0" fill="#fff" stroke="#222" stroke-width="0.7"/>
<rect x="228.20" y="332.40" width="11.60" height="19.20" rx="1.6" fill="#fff" stroke="#222" stroke-width="0.9"/>
<line x1="230.20" y1="333.00" x2="230.20" y2="351.00" stroke="#222" stroke-width="0.6" />
<line x1="237.40" y1="333.00" x2="237.40" y2="351.00" stroke="#222" stroke-width="0.6" />
<line x1="228.20" y1="336.80" x2="239.80" y2="336.80" stroke="#222" stroke-width="0.6" />
<line x1="228.20" y1="347.20" x2="239.80" y2="347.20" stroke="#222" stroke-width="0.6" />
<line x1="233.60" y1="336.80" x2="233.60" y2="347.20" stroke="#111" stroke-width="1.0" />
<circle cx="233.60" cy="336.80" r="0.90" fill="#111" stroke="#222" stroke-width="0.3"/>
<circle cx="233.60" cy="347.20" r="0.90" fill="#111" stroke="#222" stroke-width="0.3"/>
<path d="M197.70 352.20 L211.10 352.20 L212.30 353.40 L212.30 357.80 L211.10 359.00 L197.70 359.00 L196.50 357.80 L196.50 353.40 Z" fill="#fff" stroke="#222" stroke-width="0.9" />
<line x1="200.77" y1="352.20" x2="200.77" y2="359.00" stroke="#222" stroke-width="0.7" />
<line x1="208.03" y1="352.20" x2="208.03" y2="359.00" stroke="#222" stroke-width="0.7" />
<rect x="199.20" y="359.00" width="10.80" height="10.00" rx="0" fill="#fff" stroke="#222" stroke-width="0.9"/>
<line x1="199.20" y1="360.50" x2="210.00" y2="360.50" stroke="#444" stroke-width="0.8" />
<line x1="199.20" y1="362.50" x2="210.00" y2="362.50" stroke="#444" stroke-width="0.8" />
<line x1="199.20" y1="364.50" x2="210.00" y2="364.50" stroke="#444" stroke-width="0.8" />
<line x1="199.20" y1="366.50" x2="210.00" y2="366.50" stroke="#444" stroke-width="0.8" />
<rect x="158.40" y="336.40" width="2.10" height="12.40" rx="0" fill="#999" stroke="#111" stroke-width="0.9"/>
<path d="M155.80 341.00 L150.20 345.00 L153.60 346.60 Z" fill="#fff" stroke="#222" stroke-width="0.8" />
<path d="M268.8 388.6 C268 400 262.5 405 250 404.2 C240 403 228 396.5 210 389 C175 376 152 369.5 146 363.5 C141.5 358 143 350 150.4 345.4" fill="none" stroke="#222" stroke-width="0.9" stroke-dasharray="9.5 4.5"/>
<line x1="198.80" y1="398.70" x2="211.00" y2="398.70" stroke="#111" stroke-width="1.8" />
<path d="M341.20 276.90C342.90 276.90 343.10 280.20 345.80 280.30 C348.30 280.30 349.30 278.80 352.30 278.80 C355.30 278.80 356.80 280.70 356.80 283.20 C356.80 285.70 355.30 287.50 352.30 287.50 C349.30 287.50 347.30 286.40 344.30 286.40 C341.80 286.40 340.80 288.80 339.20 289.85 L331.40 289.85 Z" fill="#fff" stroke="none" stroke-width="0" />
<path d="M329.40 276.90C327.70 276.90 327.50 280.20 324.80 280.30 C322.30 280.30 321.30 278.80 318.30 278.80 C315.30 278.80 313.80 280.70 313.80 283.20 C313.80 285.70 315.30 287.50 318.30 287.50 C321.30 287.50 323.30 286.40 326.30 286.40 C328.80 286.40 329.80 288.80 331.40 289.85 L339.20 289.85 Z" fill="#fff" stroke="none" stroke-width="0" />
<path d="M335.30 276.90L341.20 276.90C342.90 276.90 343.10 280.20 345.80 280.30 C348.30 280.30 349.30 278.80 352.30 278.80 C355.30 278.80 356.80 280.70 356.80 283.20 C356.80 285.70 355.30 287.50 352.30 287.50 C349.30 287.50 347.30 286.40 344.30 286.40 C341.80 286.40 340.80 288.80 339.20 289.85 L335.30 289.85 M335.30 276.90L329.40 276.90C327.70 276.90 327.50 280.20 324.80 280.30 C322.30 280.30 321.30 278.80 318.30 278.80 C315.30 278.80 313.80 280.70 313.80 283.20 C313.80 285.70 315.30 287.50 318.30 287.50 C321.30 287.50 323.30 286.40 326.30 286.40 C328.80 286.40 329.80 288.80 331.40 289.85 L335.30 289.85" fill="none" stroke="#222" stroke-width="0.9" />
<line x1="329.70" y1="276.70" x2="340.90" y2="276.70" stroke="#444" stroke-width="1.1" />
<circle cx="335.30" cy="283.20" r="3.95" fill="#fff" stroke="#222" stroke-width="0.9"/>
<path d="M331.40 289.85C327.30 290.70 325.00 293.70 324.90 297.70 L324.80 302.30 L345.80 302.30 L345.70 297.70 C345.60 293.70 343.30 290.70 339.20 289.85 Z" fill="#fff" stroke="#222" stroke-width="0.9" />
<rect x="323.60" y="302.30" width="23.50" height="2.50" rx="1.1" fill="#fff" stroke="#222" stroke-width="0.9"/>
<line x1="332.10" y1="293.80" x2="338.50" y2="293.80" stroke="#222" stroke-width="1.2" />
<rect x="313.30" y="304.90" width="44.00" height="7.30" rx="2" fill="#fff" stroke="#222" stroke-width="0.9"/>
<ellipse cx="318.6" cy="314.7" rx="2.2" ry="1.8" fill="#111"/>
<ellipse cx="351.6" cy="314.7" rx="2.2" ry="1.8" fill="#111"/>
<rect x="322.60" y="312.20" width="26.20" height="16.60" rx="0" fill="#fff" stroke="#222" stroke-width="0.9"/>
<line x1="322.60" y1="314.50" x2="348.80" y2="314.50" stroke="#444" stroke-width="0.85" />
<line x1="322.60" y1="315.50" x2="348.80" y2="315.50" stroke="#444" stroke-width="0.85" />
<line x1="322.60" y1="317.50" x2="348.80" y2="317.50" stroke="#444" stroke-width="0.85" />
<line x1="322.60" y1="319.50" x2="348.80" y2="319.50" stroke="#444" stroke-width="0.85" />
<line x1="322.60" y1="321.50" x2="348.80" y2="321.50" stroke="#444" stroke-width="0.85" />
<line x1="322.60" y1="323.50" x2="348.80" y2="323.50" stroke="#444" stroke-width="0.85" />
<line x1="322.60" y1="325.50" x2="348.80" y2="325.50" stroke="#444" stroke-width="0.85" />
<line x1="322.60" y1="326.50" x2="348.80" y2="326.50" stroke="#444" stroke-width="0.85" />
<rect x="320.30" y="328.80" width="30.20" height="3.40" rx="0" fill="#fff" stroke="#222" stroke-width="0.9"/>
<line x1="335.40" y1="328.80" x2="335.40" y2="332.20" stroke="#222" stroke-width="1.0" />
<rect x="322.80" y="332.40" width="25.70" height="19.00" rx="0" fill="#fff" stroke="#222" stroke-width="0.9"/>
<path d="M328.00 339.00 L332.80 336.40 L332.80 337.70 L340.00 337.70 L340.00 340.30 L332.80 340.30 L332.80 341.60 Z" fill="#fff" stroke="#222" stroke-width="0.8" />
<path d="M306.10 335.00 L309.80 335.00 L311.00 336.20 L311.00 352.60 L309.80 353.80 L306.10 353.80 L304.90 352.60 L304.90 336.20 Z" fill="#fff" stroke="#222" stroke-width="0.9" />
<line x1="304.90" y1="340.08" x2="311.00" y2="340.08" stroke="#222" stroke-width="0.7" />
<line x1="304.90" y1="348.72" x2="311.00" y2="348.72" stroke="#222" stroke-width="0.7" />
<rect x="311.00" y="334.20" width="11.60" height="21.10" rx="0" fill="#fff" stroke="#222" stroke-width="0.9"/>
<rect x="312.30" y="337.60" width="9.00" height="14.30" rx="1.5" fill="#fff" stroke="#222" stroke-width="0.7"/>
<rect x="348.50" y="334.20" width="11.40" height="21.10" rx="0" fill="#fff" stroke="#222" stroke-width="0.9"/>
<rect x="349.80" y="337.60" width="8.80" height="14.30" rx="1.5" fill="#fff" stroke="#222" stroke-width="0.7"/>
<path d="M359.90 335.80 L363.90 335.80 C373.14 335.80 379.30 342.73 379.30 351.20 L379.30 362.70 L364.30 362.70 L364.30 354.80 C364.30 352.50 362.80 351.30 359.90 351.30 Z" fill="#fff" stroke="#222" stroke-width="0.9" />
<rect x="361.50" y="362.70" width="18.50" height="2.10" rx="0" fill="#fff" stroke="#222" stroke-width="0.8"/>
<rect x="364.60" y="365.00" width="11.90" height="10.70" rx="0" fill="#fff" stroke="#222" stroke-width="0.9"/>
<line x1="364.60" y1="366.50" x2="376.50" y2="366.50" stroke="#444" stroke-width="0.8" />
<line x1="364.60" y1="368.50" x2="376.50" y2="368.50" stroke="#444" stroke-width="0.8" />
<line x1="364.60" y1="370.50" x2="376.50" y2="370.50" stroke="#444" stroke-width="0.8" />
<line x1="364.60" y1="372.50" x2="376.50" y2="372.50" stroke="#444" stroke-width="0.8" />
<line x1="364.60" y1="373.50" x2="376.50" y2="373.50" stroke="#444" stroke-width="0.8" />
<path d="M259.70 377.20 L276.40 377.20 L277.60 378.40 L277.60 387.20 L276.40 388.40 L259.70 388.40 L258.50 387.20 L258.50 378.40 Z" fill="#fff" stroke="#222" stroke-width="0.9" />
<line x1="263.66" y1="377.20" x2="263.66" y2="388.40" stroke="#222" stroke-width="0.7" />
<line x1="272.44" y1="377.20" x2="272.44" y2="388.40" stroke="#222" stroke-width="0.7" />
<line x1="365.00" y1="385.50" x2="378.20" y2="385.50" stroke="#111" stroke-width="1.8" />
<path d="M472.20 275.10C473.90 275.10 474.10 278.40 476.80 278.50 C479.30 278.50 480.30 277.00 483.30 277.00 C486.30 277.00 487.80 278.90 487.80 281.40 C487.80 283.90 486.30 285.70 483.30 285.70 C480.30 285.70 478.30 284.60 475.30 284.60 C472.80 284.60 471.80 287.00 470.20 288.05 L462.40 288.05 Z" fill="#fff" stroke="none" stroke-width="0" />
<path d="M460.40 275.10C458.70 275.10 458.50 278.40 455.80 278.50 C453.30 278.50 452.30 277.00 449.30 277.00 C446.30 277.00 444.80 278.90 444.80 281.40 C444.80 283.90 446.30 285.70 449.30 285.70 C452.30 285.70 454.30 284.60 457.30 284.60 C459.80 284.60 460.80 287.00 462.40 288.05 L470.20 288.05 Z" fill="#fff" stroke="none" stroke-width="0" />
<path d="M466.30 275.10L472.20 275.10C473.90 275.10 474.10 278.40 476.80 278.50 C479.30 278.50 480.30 277.00 483.30 277.00 C486.30 277.00 487.80 278.90 487.80 281.40 C487.80 283.90 486.30 285.70 483.30 285.70 C480.30 285.70 478.30 284.60 475.30 284.60 C472.80 284.60 471.80 287.00 470.20 288.05 L466.30 288.05 M466.30 275.10L460.40 275.10C458.70 275.10 458.50 278.40 455.80 278.50 C453.30 278.50 452.30 277.00 449.30 277.00 C446.30 277.00 444.80 278.90 444.80 281.40 C444.80 283.90 446.30 285.70 449.30 285.70 C452.30 285.70 454.30 284.60 457.30 284.60 C459.80 284.60 460.80 287.00 462.40 288.05 L466.30 288.05" fill="none" stroke="#222" stroke-width="0.9" />
<line x1="460.70" y1="274.90" x2="471.90" y2="274.90" stroke="#444" stroke-width="1.1" />
<circle cx="466.30" cy="281.40" r="3.95" fill="#fff" stroke="#222" stroke-width="0.9"/>
<path d="M462.40 288.05C458.30 288.90 456.00 291.90 455.90 295.90 L455.80 300.50 L476.80 300.50 L476.70 295.90 C476.60 291.90 474.30 288.90 470.20 288.05 Z" fill="#fff" stroke="#222" stroke-width="0.9" />
<rect x="454.60" y="300.50" width="23.50" height="2.50" rx="1.1" fill="#fff" stroke="#222" stroke-width="0.9"/>
<rect x="445.10" y="303.40" width="42.50" height="6.50" rx="2" fill="#fff" stroke="#222" stroke-width="0.9"/>
<ellipse cx="449" cy="312.8" rx="2.2" ry="1.7" fill="#111"/>
<ellipse cx="483.2" cy="312.8" rx="2.2" ry="1.7" fill="#111"/>
<rect x="450.70" y="309.90" width="30.60" height="8.80" rx="0" fill="#fff" stroke="#222" stroke-width="0.9"/>
<line x1="450.70" y1="312.30" x2="481.30" y2="312.30" stroke="#333" stroke-width="1.1" />
<line x1="450.70" y1="315.40" x2="481.30" y2="315.40" stroke="#333" stroke-width="1.1" />
<line x1="450.70" y1="317.20" x2="481.30" y2="317.20" stroke="#555" stroke-width="0.6" />
<path d="M451.7 318.7 L479.8 318.7 L479.8 334.6 L488 334.6 L488 355.3 L441 355.3 L441 334.6 L451.7 334.6 Z" fill="#fff" stroke="#222" stroke-width="0.9" />
<line x1="445.40" y1="334.60" x2="445.40" y2="355.30" stroke="#222" stroke-width="0.7" />
<line x1="443.40" y1="338.50" x2="445.40" y2="338.50" stroke="#222" stroke-width="0.6" />
<line x1="443.40" y1="342.50" x2="445.40" y2="342.50" stroke="#222" stroke-width="0.6" />
<line x1="443.40" y1="346.50" x2="445.40" y2="346.50" stroke="#222" stroke-width="0.6" />
<line x1="443.40" y1="350.50" x2="445.40" y2="350.50" stroke="#222" stroke-width="0.6" />
<rect x="479.80" y="328.60" width="2.00" height="3.40" rx="0" fill="#fff" stroke="#222" stroke-width="0.7"/>
<circle cx="465.90" cy="329.50" r="9.20" fill="#fff" stroke="#222" stroke-width="0.9"/>
<circle cx="465.90" cy="329.50" r="7.20" fill="#fff" stroke="#222" stroke-width="2.1"/>
<circle cx="465.90" cy="329.50" r="4.80" fill="#fff" stroke="#222" stroke-width="0.8"/>
<circle cx="465.90" cy="329.50" r="2.90" fill="#ddd" stroke="#222" stroke-width="0.8"/>
<circle cx="465.90" cy="329.50" r="1.00" fill="#111" stroke="#222" stroke-width="0.3"/>
<rect x="451.90" y="331.40" width="2.00" height="20.90" rx="0" fill="#fff" stroke="#222" stroke-width="0.8"/>
<rect x="449.40" y="324.20" width="5.90" height="7.20" rx="1.2" fill="#fff" stroke="#222" stroke-width="0.8"/>
<line x1="449.40" y1="326.60" x2="455.30" y2="326.60" stroke="#222" stroke-width="0.6" />
<line x1="449.40" y1="329.00" x2="455.30" y2="329.00" stroke="#222" stroke-width="0.6" />
<rect x="450.40" y="352.00" width="5.00" height="1.40" rx="0" fill="#fff" stroke="#222" stroke-width="0.6"/>
<text x="448.4" y="348.6" font-size="5.2" text-anchor="middle" font-weight="bold" font-style="italic">N</text>
<text x="483.5" y="348.6" font-size="5.2" text-anchor="middle" font-weight="bold" font-style="italic">N</text>
<g transform="rotate(180 465.9 345.6)"><text x="465.9" y="347.3" font-size="4.6" text-anchor="middle" font-weight="bold">HOT</text></g>
<circle cx="465.90" cy="351.10" r="1.70" fill="#333" stroke="#222" stroke-width="0.5"/>
<path d="M488.00 335.20 L492.00 335.20 C501.24 335.20 507.40 342.13 507.40 350.60 L507.40 362.60 L491.70 362.60 L491.70 356.50 C491.70 354.20 490.20 353.00 488.00 353.00 Z" fill="#fff" stroke="#222" stroke-width="0.9" />
<path d="M490.70 362.80 L507.30 362.80 L508.50 364.00 L508.50 368.40 L507.30 369.60 L490.70 369.60 L489.50 368.40 L489.50 364.00 Z" fill="#fff" stroke="#222" stroke-width="0.9" />
<line x1="494.63" y1="362.80" x2="494.63" y2="369.60" stroke="#222" stroke-width="0.7" />
<line x1="503.37" y1="362.80" x2="503.37" y2="369.60" stroke="#222" stroke-width="0.7" />
<path d="M361.70 395.80 L379.40 395.80 L380.60 397.00 L380.60 403.90 L379.40 405.10 L361.70 405.10 L360.50 403.90 L360.50 397.00 Z" fill="#fff" stroke="#222" stroke-width="0.9" />
<line x1="365.93" y1="395.80" x2="365.93" y2="405.10" stroke="#222" stroke-width="0.7" />
<line x1="375.17" y1="395.80" x2="375.17" y2="405.10" stroke="#222" stroke-width="0.7" />
<rect x="250.00" y="421.60" width="14.60" height="3.10" rx="0" fill="#333" stroke="#222" stroke-width="0.6"/>
<rect x="252.60" y="422.50" width="1.80" height="1.30" rx="0" fill="#ddd" stroke="none" stroke-width="0"/>
<rect x="256.20" y="422.50" width="1.80" height="1.30" rx="0" fill="#ddd" stroke="none" stroke-width="0"/>
<rect x="259.80" y="422.50" width="1.80" height="1.30" rx="0" fill="#ddd" stroke="none" stroke-width="0"/>
<rect x="255.00" y="434.70" width="5.20" height="1.80" rx="0.6" fill="#111" stroke="#222" stroke-width="0.4"/>
<rect x="256.50" y="436.30" width="2.20" height="6.30" rx="0" fill="#111" stroke="#222" stroke-width="0.4"/>
<path d="M263.10 446.30C264.80 446.30 265.00 449.60 267.70 449.70 C270.20 449.70 271.20 448.20 274.20 448.20 C277.20 448.20 278.70 450.10 278.70 452.60 C278.70 455.10 277.20 456.90 274.20 456.90 C271.20 456.90 269.20 455.80 266.20 455.80 C263.70 455.80 262.70 458.20 261.10 459.25 L253.30 459.25 Z" fill="#fff" stroke="none" stroke-width="0" />
<path d="M251.30 446.30C249.60 446.30 249.40 449.60 246.70 449.70 C244.20 449.70 243.20 448.20 240.20 448.20 C237.20 448.20 235.70 450.10 235.70 452.60 C235.70 455.10 237.20 456.90 240.20 456.90 C243.20 456.90 245.20 455.80 248.20 455.80 C250.70 455.80 251.70 458.20 253.30 459.25 L261.10 459.25 Z" fill="#fff" stroke="none" stroke-width="0" />
<path d="M257.20 446.30L263.10 446.30C264.80 446.30 265.00 449.60 267.70 449.70 C270.20 449.70 271.20 448.20 274.20 448.20 C277.20 448.20 278.70 450.10 278.70 452.60 C278.70 455.10 277.20 456.90 274.20 456.90 C271.20 456.90 269.20 455.80 266.20 455.80 C263.70 455.80 262.70 458.20 261.10 459.25 L257.20 459.25 M257.20 446.30L251.30 446.30C249.60 446.30 249.40 449.60 246.70 449.70 C244.20 449.70 243.20 448.20 240.20 448.20 C237.20 448.20 235.70 450.10 235.70 452.60 C235.70 455.10 237.20 456.90 240.20 456.90 C243.20 456.90 245.20 455.80 248.20 455.80 C250.70 455.80 251.70 458.20 253.30 459.25 L257.20 459.25" fill="none" stroke="#222" stroke-width="0.9" />
<line x1="251.60" y1="446.10" x2="262.80" y2="446.10" stroke="#222" stroke-width="1.3" />
<circle cx="257.20" cy="452.60" r="3.95" fill="#fff" stroke="#222" stroke-width="0.9"/>
<path d="M253.30 459.25C249.20 460.10 246.90 463.10 246.80 467.10 L246.70 471.70 L267.70 471.70 L267.60 467.10 C267.50 463.10 265.20 460.10 261.10 459.25 Z" fill="#fff" stroke="#222" stroke-width="0.9" />
<rect x="245.50" y="471.70" width="23.50" height="2.50" rx="1.1" fill="#fff" stroke="#222" stroke-width="0.9"/>
<line x1="254.00" y1="463.20" x2="260.40" y2="463.20" stroke="#222" stroke-width="1.2" />
<rect x="252.90" y="480.20" width="8.80" height="8.20" rx="0" fill="#1a1a1a" stroke="#222" stroke-width="0.5"/>
<rect x="254.30" y="496.90" width="5.90" height="7.30" rx="0" fill="#222" stroke="#222" stroke-width="0.5"/>
<rect x="255.50" y="504.00" width="3.80" height="3.60" rx="0" fill="#fff" stroke="#222" stroke-width="0.8"/>
<path d="M251.80 507.40 L263.10 507.40 L264.30 508.60 L264.30 511.80 L263.10 513.00 L251.80 513.00 L250.60 511.80 L250.60 508.60 Z" fill="#fff" stroke="#222" stroke-width="0.9" />
<line x1="254.30" y1="507.40" x2="254.30" y2="513.00" stroke="#222" stroke-width="0.7" />
<line x1="260.60" y1="507.40" x2="260.60" y2="513.00" stroke="#222" stroke-width="0.7" />
<rect x="248.20" y="512.60" width="18.10" height="5.00" rx="0.8" fill="#1a1a1a" stroke="#222" stroke-width="0.6"/>
<rect x="249.20" y="517.60" width="16.20" height="6.00" rx="0" fill="#aaa" stroke="#222" stroke-width="0.7"/>
<line x1="249.20" y1="519.20" x2="265.40" y2="519.20" stroke="#444" stroke-width="0.9" />
<line x1="249.20" y1="521.40" x2="265.40" y2="521.40" stroke="#666" stroke-width="0.7" />
<rect x="252.00" y="523.60" width="11.40" height="3.90" rx="0" fill="#fff" stroke="#222" stroke-width="0.8"/>
<line x1="254.20" y1="523.60" x2="254.20" y2="527.50" stroke="#222" stroke-width="0.9" />
<line x1="261.20" y1="523.60" x2="261.20" y2="527.50" stroke="#222" stroke-width="0.9" />
<rect x="250.20" y="527.50" width="14.40" height="6.80" rx="0.8" fill="#fff" stroke="#222" stroke-width="0.8"/>
<line x1="250.20" y1="529.60" x2="264.60" y2="529.60" stroke="#333" stroke-width="0.8" />
<line x1="250.20" y1="531.90" x2="264.60" y2="531.90" stroke="#333" stroke-width="1.0" />
<path d="M235.4 548.7 L235.4 545.4 C235.4 543.2 237 542 239.3 542 L275.9 542 C278.2 542 279.7 543.2 279.7 545.4 L279.7 548.7 Z" fill="#fff" stroke="#222" stroke-width="0.9" />
<rect x="238.90" y="555.30" width="37.30" height="2.20" rx="1.1" fill="#fff" stroke="#111" stroke-width="1.4"/>
<rect x="242.50" y="565.00" width="30.50" height="4.60" rx="0" fill="#fff" stroke="#222" stroke-width="0.8"/>
<line x1="242.50" y1="566.30" x2="273.00" y2="566.30" stroke="#777" stroke-width="0.5" />
<line x1="242.50" y1="568.40" x2="273.00" y2="568.40" stroke="#777" stroke-width="0.5" />
<line x1="257.70" y1="565.00" x2="257.70" y2="569.60" stroke="#222" stroke-width="0.8" />
<path d="M244.1 608.8 L244.1 579.4 L246 577.4 L270.2 577.4 L272 579.4 L272 608.8 Z" fill="#fff" stroke="#222" stroke-width="0.9" />
<line x1="244.10" y1="580.20" x2="272.00" y2="580.20" stroke="#444" stroke-width="0.9" />
<line x1="244.10" y1="582.40" x2="272.00" y2="582.40" stroke="#444" stroke-width="0.9" />
<line x1="244.10" y1="584.60" x2="272.00" y2="584.60" stroke="#444" stroke-width="0.9" />
<line x1="244.10" y1="586.80" x2="272.00" y2="586.80" stroke="#444" stroke-width="0.9" />
<line x1="244.10" y1="589.00" x2="272.00" y2="589.00" stroke="#444" stroke-width="0.9" />
<line x1="244.10" y1="591.20" x2="272.00" y2="591.20" stroke="#444" stroke-width="0.9" />
<line x1="244.10" y1="593.40" x2="272.00" y2="593.40" stroke="#444" stroke-width="0.9" />
<line x1="244.10" y1="595.60" x2="272.00" y2="595.60" stroke="#444" stroke-width="0.9" />
<line x1="244.10" y1="597.80" x2="272.00" y2="597.80" stroke="#444" stroke-width="0.9" />
<line x1="244.10" y1="600.00" x2="272.00" y2="600.00" stroke="#444" stroke-width="0.9" />
<line x1="244.10" y1="602.20" x2="272.00" y2="602.20" stroke="#444" stroke-width="0.9" />
<line x1="244.10" y1="604.40" x2="272.00" y2="604.40" stroke="#444" stroke-width="0.9" />
<line x1="244.10" y1="606.60" x2="272.00" y2="606.60" stroke="#444" stroke-width="0.9" />
<rect x="246.50" y="609.40" width="22.50" height="21.20" rx="0" fill="#fff" stroke="#222" stroke-width="0.9"/>
<path d="M251.00 615.40 L256.36 612.50 L256.36 613.95 L264.40 613.95 L264.40 616.85 L256.36 616.85 L256.36 618.30 Z" fill="#fff" stroke="#222" stroke-width="0.8" />
<path d="M228.20 614.00 L231.40 614.00 L232.60 615.20 L232.60 629.40 L231.40 630.60 L228.20 630.60 L227.00 629.40 L227.00 615.20 Z" fill="#fff" stroke="#222" stroke-width="0.9" />
<line x1="227.00" y1="618.48" x2="232.60" y2="618.48" stroke="#222" stroke-width="0.7" />
<line x1="227.00" y1="626.12" x2="232.60" y2="626.12" stroke="#222" stroke-width="0.7" />
<rect x="232.40" y="610.40" width="14.10" height="23.20" rx="0" fill="#fff" stroke="#222" stroke-width="0.9"/>
<rect x="233.70" y="613.80" width="11.50" height="16.40" rx="1.5" fill="#fff" stroke="#222" stroke-width="0.7"/>
<rect x="269.00" y="610.40" width="14.40" height="23.20" rx="0" fill="#fff" stroke="#222" stroke-width="0.9"/>
<rect x="270.30" y="613.80" width="11.80" height="16.40" rx="1.5" fill="#fff" stroke="#222" stroke-width="0.7"/>
<path d="M283.40 613.40 L287.40 613.40 C294.72 613.40 299.60 618.89 299.60 625.60 L299.60 638.80 L287.00 638.80 L287.00 633.90 C287.00 631.60 285.50 630.40 283.40 630.40 Z" fill="#fff" stroke="#222" stroke-width="0.9" />
<rect x="283.60" y="638.60" width="18.40" height="2.40" rx="0" fill="#fff" stroke="#222" stroke-width="0.8"/>
<rect x="287.00" y="641.00" width="11.40" height="12.60" rx="0" fill="#fff" stroke="#222" stroke-width="0.9"/>
<line x1="287.00" y1="643.50" x2="298.40" y2="643.50" stroke="#444" stroke-width="0.8" />
<line x1="287.00" y1="645.50" x2="298.40" y2="645.50" stroke="#444" stroke-width="0.8" />
<line x1="287.00" y1="647.50" x2="298.40" y2="647.50" stroke="#444" stroke-width="0.8" />
<line x1="287.00" y1="649.50" x2="298.40" y2="649.50" stroke="#444" stroke-width="0.8" />
<line x1="287.00" y1="651.50" x2="298.40" y2="651.50" stroke="#444" stroke-width="0.8" />
<path d="M126.80 613.40 L135.80 613.40 L137.00 614.60 L137.00 630.20 L135.80 631.40 L126.80 631.40 L125.60 630.20 L125.60 614.60 Z" fill="#fff" stroke="#222" stroke-width="0.9" />
<line x1="125.60" y1="618.26" x2="137.00" y2="618.26" stroke="#222" stroke-width="0.7" />
<line x1="125.60" y1="626.54" x2="137.00" y2="626.54" stroke="#222" stroke-width="0.7" />
<rect x="464.30" y="118.80" width="5.00" height="8.60" rx="0.8" fill="#1a1a1a" stroke="#222" stroke-width="0.5"/>
<path d="M462.80 127.00 L470.80 127.00 L473.20 131.90 L460.40 131.90 Z" fill="#2a2a2a" stroke="#222" stroke-width="0.6" />
<rect x="457.00" y="131.90" width="19.60" height="4.70" rx="0" fill="#fff" stroke="#222" stroke-width="0.8"/>
<line x1="461.00" y1="132.40" x2="461.00" y2="136.70" stroke="#222" stroke-width="0.6" />
<line x1="472.20" y1="132.40" x2="472.20" y2="136.70" stroke="#222" stroke-width="0.6" />
<line x1="466.60" y1="132.40" x2="466.60" y2="136.70" stroke="#222" stroke-width="0.6" />
<rect x="452.20" y="136.70" width="28.30" height="37.80" rx="0" fill="#8a8a8a" stroke="#222" stroke-width="0.8"/>
<line x1="452.20" y1="138.20" x2="480.50" y2="138.20" stroke="#3a3a3a" stroke-width="0.95" />
<line x1="452.20" y1="140.10" x2="480.50" y2="140.10" stroke="#3a3a3a" stroke-width="0.95" />
<line x1="452.20" y1="142.00" x2="480.50" y2="142.00" stroke="#3a3a3a" stroke-width="0.95" />
<line x1="452.20" y1="143.90" x2="480.50" y2="143.90" stroke="#3a3a3a" stroke-width="0.95" />
<line x1="452.20" y1="145.80" x2="480.50" y2="145.80" stroke="#3a3a3a" stroke-width="0.95" />
<line x1="452.20" y1="147.70" x2="480.50" y2="147.70" stroke="#3a3a3a" stroke-width="0.95" />
<line x1="452.20" y1="149.60" x2="480.50" y2="149.60" stroke="#3a3a3a" stroke-width="0.95" />
<line x1="452.20" y1="151.50" x2="480.50" y2="151.50" stroke="#3a3a3a" stroke-width="0.95" />
<line x1="452.20" y1="153.40" x2="480.50" y2="153.40" stroke="#3a3a3a" stroke-width="0.95" />
<line x1="452.20" y1="155.30" x2="480.50" y2="155.30" stroke="#3a3a3a" stroke-width="0.95" />
<line x1="452.20" y1="157.20" x2="480.50" y2="157.20" stroke="#3a3a3a" stroke-width="0.95" />
<line x1="452.20" y1="159.10" x2="480.50" y2="159.10" stroke="#3a3a3a" stroke-width="0.95" />
<line x1="452.20" y1="161.00" x2="480.50" y2="161.00" stroke="#3a3a3a" stroke-width="0.95" />
<line x1="452.20" y1="162.90" x2="480.50" y2="162.90" stroke="#3a3a3a" stroke-width="0.95" />
<line x1="452.20" y1="164.80" x2="480.50" y2="164.80" stroke="#3a3a3a" stroke-width="0.95" />
<line x1="452.20" y1="166.70" x2="480.50" y2="166.70" stroke="#3a3a3a" stroke-width="0.95" />
<line x1="452.20" y1="168.60" x2="480.50" y2="168.60" stroke="#3a3a3a" stroke-width="0.95" />
<line x1="452.20" y1="170.50" x2="480.50" y2="170.50" stroke="#3a3a3a" stroke-width="0.95" />
<line x1="452.20" y1="172.40" x2="480.50" y2="172.40" stroke="#3a3a3a" stroke-width="0.95" />
<rect x="449.00" y="160.20" width="34.70" height="3.50" rx="0" fill="#fff" stroke="#222" stroke-width="0.8"/>
<line x1="466.40" y1="160.20" x2="466.40" y2="163.70" stroke="#222" stroke-width="0.7" />
<rect x="451.80" y="174.50" width="29.70" height="7.20" rx="0" fill="#fff" stroke="#222" stroke-width="0.9"/>
<rect x="460.40" y="176.60" width="12.40" height="4.00" rx="0" fill="#fff" stroke="#222" stroke-width="0.7"/>
<path d="M462 177.2 L471.2 180 M462 180 L471.2 177.2" fill="none" stroke="#222" stroke-width="0.6" />
<rect x="462.00" y="190.90" width="9.20" height="9.30" rx="0" fill="#1a1a1a" stroke="#222" stroke-width="0.5"/>
<rect x="650.50" y="138.20" width="14.50" height="2.90" rx="0" fill="#333" stroke="#222" stroke-width="0.6"/>
<rect x="653.00" y="139.00" width="1.80" height="1.30" rx="0" fill="#ddd" stroke="none" stroke-width="0"/>
<rect x="656.60" y="139.00" width="1.80" height="1.30" rx="0" fill="#ddd" stroke="none" stroke-width="0"/>
<rect x="660.20" y="139.00" width="1.80" height="1.30" rx="0" fill="#ddd" stroke="none" stroke-width="0"/>
<rect x="654.90" y="160.80" width="4.70" height="1.80" rx="0.6" fill="#111" stroke="#222" stroke-width="0.4"/>
<rect x="656.20" y="162.40" width="2.10" height="6.40" rx="0" fill="#111" stroke="#222" stroke-width="0.4"/>
<path d="M662.90 179.10C664.60 179.10 664.80 182.40 667.50 182.50 C670.00 182.50 671.00 181.00 674.00 181.00 C677.00 181.00 678.50 182.90 678.50 185.40 C678.50 187.90 677.00 189.70 674.00 189.70 C671.00 189.70 669.00 188.60 666.00 188.60 C663.50 188.60 662.50 191.00 660.90 192.05 L653.10 192.05 Z" fill="#fff" stroke="none" stroke-width="0" />
<path d="M651.10 179.10C649.40 179.10 649.20 182.40 646.50 182.50 C644.00 182.50 643.00 181.00 640.00 181.00 C637.00 181.00 635.50 182.90 635.50 185.40 C635.50 187.90 637.00 189.70 640.00 189.70 C643.00 189.70 645.00 188.60 648.00 188.60 C650.50 188.60 651.50 191.00 653.10 192.05 L660.90 192.05 Z" fill="#fff" stroke="none" stroke-width="0" />
<path d="M657.00 179.10L662.90 179.10C664.60 179.10 664.80 182.40 667.50 182.50 C670.00 182.50 671.00 181.00 674.00 181.00 C677.00 181.00 678.50 182.90 678.50 185.40 C678.50 187.90 677.00 189.70 674.00 189.70 C671.00 189.70 669.00 188.60 666.00 188.60 C663.50 188.60 662.50 191.00 660.90 192.05 L657.00 192.05 M657.00 179.10L651.10 179.10C649.40 179.10 649.20 182.40 646.50 182.50 C644.00 182.50 643.00 181.00 640.00 181.00 C637.00 181.00 635.50 182.90 635.50 185.40 C635.50 187.90 637.00 189.70 640.00 189.70 C643.00 189.70 645.00 188.60 648.00 188.60 C650.50 188.60 651.50 191.00 653.10 192.05 L657.00 192.05" fill="none" stroke="#222" stroke-width="0.9" />
<line x1="651.40" y1="178.90" x2="662.60" y2="178.90" stroke="#222" stroke-width="1.3" />
<circle cx="657.00" cy="185.40" r="3.95" fill="#fff" stroke="#222" stroke-width="0.9"/>
<path d="M653.10 192.05C649.00 192.90 646.70 195.90 646.60 199.90 L646.50 204.50 L667.50 204.50 L667.40 199.90 C667.30 195.90 665.00 192.90 660.90 192.05 Z" fill="#fff" stroke="#222" stroke-width="0.9" />
<rect x="645.30" y="204.50" width="23.50" height="2.50" rx="1.1" fill="#fff" stroke="#222" stroke-width="0.9"/>
<path d="M648 239.6 L657.6 239.6 L657.6 237.5 L664.9 237.5 L664.9 240.9 L663 240.9 L662.2 243.5 L650.6 243.5 L649.4 240.9 Z" fill="#fff" stroke="#222" stroke-width="0.9" />
<line x1="649.40" y1="240.90" x2="663.00" y2="240.90" stroke="#222" stroke-width="0.7" />
<rect x="654.20" y="250.70" width="4.10" height="6.70" rx="0.7" fill="#111" stroke="#222" stroke-width="0.5"/>
<path d="M651 262.6 C651 259 653 257.2 656.3 257.2 C659.6 257.2 662 259 662 262.6 Z" fill="#161616" stroke="#222" stroke-width="0.6" />
<rect x="649.00" y="262.50" width="14.60" height="3.40" rx="0" fill="#999" stroke="#222" stroke-width="0.7"/>
<rect x="646.60" y="265.80" width="19.30" height="35.70" rx="0.8" fill="#fff" stroke="#222" stroke-width="0.9"/>
<rect x="646.40" y="265.60" width="19.70" height="4.60" rx="0.8" fill="#161616" stroke="#222" stroke-width="0.5"/>
<line x1="646.60" y1="275.00" x2="665.90" y2="275.00" stroke="#111" stroke-width="1.4" />
<rect x="646.40" y="281.00" width="19.70" height="5.50" rx="0" fill="#161616" stroke="#222" stroke-width="0.5"/>
<line x1="646.60" y1="287.80" x2="665.90" y2="287.80" stroke="#555" stroke-width="0.8" />
<rect x="646.40" y="289.10" width="19.70" height="6.60" rx="0" fill="#161616" stroke="#222" stroke-width="0.5"/>
<line x1="646.60" y1="296.10" x2="665.90" y2="296.10" stroke="#333" stroke-width="0.6" />
<rect x="654.20" y="301.50" width="4.10" height="2.90" rx="0" fill="#fff" stroke="#222" stroke-width="0.8"/>
<path d="M638.7 346.1 L638.7 343 C638.7 340.8 640.2 339.6 642.4 339.6 L671 339.6 C673.3 339.6 674.8 340.8 674.8 343 L674.8 346.1 Z" fill="#fff" stroke="#222" stroke-width="0.9" />
<line x1="644.40" y1="364.10" x2="669.00" y2="364.10" stroke="#111" stroke-width="1.7" />
<circle cx="644.60" cy="364.10" r="0.90" fill="#111" stroke="#222" stroke-width="0.3"/>
<circle cx="668.80" cy="364.10" r="0.90" fill="#111" stroke="#222" stroke-width="0.3"/>
<rect x="643.80" y="394.30" width="25.20" height="3.80" rx="0" fill="#ddd" stroke="#222" stroke-width="0.8"/>
<line x1="656.40" y1="394.30" x2="656.40" y2="398.10" stroke="#222" stroke-width="0.8" />
<rect x="719.40" y="320.30" width="6.40" height="3.70" rx="0" fill="#fff" stroke="#222" stroke-width="0.8"/>
<rect x="742.30" y="320.30" width="6.20" height="3.70" rx="0" fill="#fff" stroke="#222" stroke-width="0.8"/>
<rect x="721.70" y="378.40" width="2.00" height="25.60" rx="0" fill="#222" stroke="#222" stroke-width="0.3"/>
<rect x="720.90" y="403.40" width="3.60" height="2.00" rx="0.9" fill="#444" stroke="#222" stroke-width="0.3"/>
<rect x="744.00" y="378.40" width="2.00" height="25.60" rx="0" fill="#222" stroke="#222" stroke-width="0.3"/>
<rect x="743.20" y="403.40" width="3.60" height="2.00" rx="0.9" fill="#444" stroke="#222" stroke-width="0.3"/>
<rect x="645.00" y="435.70" width="22.60" height="13.50" rx="0" fill="#777" stroke="#222" stroke-width="0.8"/>
<line x1="645.00" y1="437.20" x2="667.60" y2="437.20" stroke="#3a3a3a" stroke-width="0.9" />
<line x1="645.00" y1="438.95" x2="667.60" y2="438.95" stroke="#3a3a3a" stroke-width="0.9" />
<line x1="645.00" y1="440.70" x2="667.60" y2="440.70" stroke="#3a3a3a" stroke-width="0.9" />
<line x1="645.00" y1="442.45" x2="667.60" y2="442.45" stroke="#3a3a3a" stroke-width="0.9" />
<line x1="645.00" y1="444.20" x2="667.60" y2="444.20" stroke="#3a3a3a" stroke-width="0.9" />
<line x1="645.00" y1="445.95" x2="667.60" y2="445.95" stroke="#3a3a3a" stroke-width="0.9" />
<line x1="645.00" y1="447.70" x2="667.60" y2="447.70" stroke="#3a3a3a" stroke-width="0.9" />
<rect x="632.00" y="451.70" width="6.30" height="12.10" rx="0" fill="#666" stroke="#222" stroke-width="0.7"/>
<line x1="633.20" y1="451.70" x2="633.20" y2="463.80" stroke="#2a2a2a" stroke-width="0.8" />
<line x1="634.80" y1="451.70" x2="634.80" y2="463.80" stroke="#2a2a2a" stroke-width="0.8" />
<line x1="636.40" y1="451.70" x2="636.40" y2="463.80" stroke="#2a2a2a" stroke-width="0.8" />
<rect x="674.60" y="451.70" width="7.30" height="12.10" rx="0" fill="#666" stroke="#222" stroke-width="0.7"/>
<line x1="675.80" y1="451.70" x2="675.80" y2="463.80" stroke="#2a2a2a" stroke-width="0.8" />
<line x1="677.40" y1="451.70" x2="677.40" y2="463.80" stroke="#2a2a2a" stroke-width="0.8" />
<line x1="679.00" y1="451.70" x2="679.00" y2="463.80" stroke="#2a2a2a" stroke-width="0.8" />
<line x1="680.60" y1="451.70" x2="680.60" y2="463.80" stroke="#2a2a2a" stroke-width="0.8" />
<path d="M638.2 449.6 L674.5 449.6 L674.5 466 L669 466 C667 470 666 472 665 474.5 L665 485.3 L649.8 485.3 L649.8 474.5 C648.5 472 647 469.5 644 466 L638.2 466 Z" fill="#fff" stroke="#222" stroke-width="0.9" />
<path d="M649.8 474.5 L649.8 468.5 C649.8 464.5 653 462 657.4 462 C661.8 462 665 464.5 665 468.5 L665 474.5" fill="none" stroke="#222" stroke-width="0.9" />
<path d="M647 450.2 C650.2 453.5 650.4 459 649.4 462" fill="none" stroke="#222" stroke-width="0.8" />
<path d="M666.4 450.2 C664 453 663 457 663.6 461" fill="none" stroke="#222" stroke-width="0.8" />
<rect x="656.40" y="455.40" width="11.60" height="2.40" rx="0" fill="#fff" stroke="#222" stroke-width="0.8"/>
<path d="M648.20 485.30 L665.10 485.30 L666.30 486.50 L666.30 491.00 L665.10 492.20 L648.20 492.20 L647.00 491.00 L647.00 486.50 Z" fill="#fff" stroke="#222" stroke-width="0.9" />
<line x1="652.21" y1="485.30" x2="652.21" y2="492.20" stroke="#222" stroke-width="0.7" />
<line x1="661.09" y1="485.30" x2="661.09" y2="492.20" stroke="#222" stroke-width="0.7" />
<path d="M520.50 500.50 L538.10 500.50 L539.30 501.70 L539.30 509.40 L538.10 510.60 L520.50 510.60 L519.30 509.40 L519.30 501.70 Z" fill="#fff" stroke="#222" stroke-width="0.9" />
<line x1="524.70" y1="500.50" x2="524.70" y2="510.60" stroke="#222" stroke-width="0.7" />
<line x1="533.90" y1="500.50" x2="533.90" y2="510.60" stroke="#222" stroke-width="0.7" />
<line x1="590.00" y1="452.60" x2="590.00" y2="462.70" stroke="#111" stroke-width="1.6" />
<line x1="758.40" y1="452.20" x2="758.40" y2="462.70" stroke="#111" stroke-width="1.6" />
<rect x="611.30" y="453.00" width="10.10" height="9.00" rx="0" fill="#fff" stroke="#222" stroke-width="0.9"/>
<rect x="611.30" y="453.00" width="2.30" height="9.00" rx="0" fill="#222" stroke="#222" stroke-width="0.5"/>
<rect x="724.00" y="453.00" width="11.00" height="9.00" rx="0" fill="#fff" stroke="#222" stroke-width="0.9"/>
<rect x="732.70" y="453.00" width="2.30" height="9.00" rx="0" fill="#222" stroke="#222" stroke-width="0.5"/>
<line x1="697.00" y1="499.70" x2="710.80" y2="499.70" stroke="#111" stroke-width="1.7" />
<rect x="698.20" y="504.10" width="10.30" height="6.10" rx="0" fill="#888" stroke="#222" stroke-width="0.8"/>
<line x1="698.60" y1="506.00" x2="708.20" y2="506.00" stroke="#222" stroke-width="1.1" />
<line x1="698.60" y1="508.40" x2="708.20" y2="508.40" stroke="#333" stroke-width="0.7" />
<rect x="695.00" y="509.60" width="16.80" height="3.80" rx="1" fill="#fff" stroke="#222" stroke-width="0.8"/>
<line x1="699.40" y1="509.60" x2="699.40" y2="513.40" stroke="#222" stroke-width="0.6" />
<line x1="707.40" y1="509.60" x2="707.40" y2="513.40" stroke="#222" stroke-width="0.6" />
</svg>
</body></html>
